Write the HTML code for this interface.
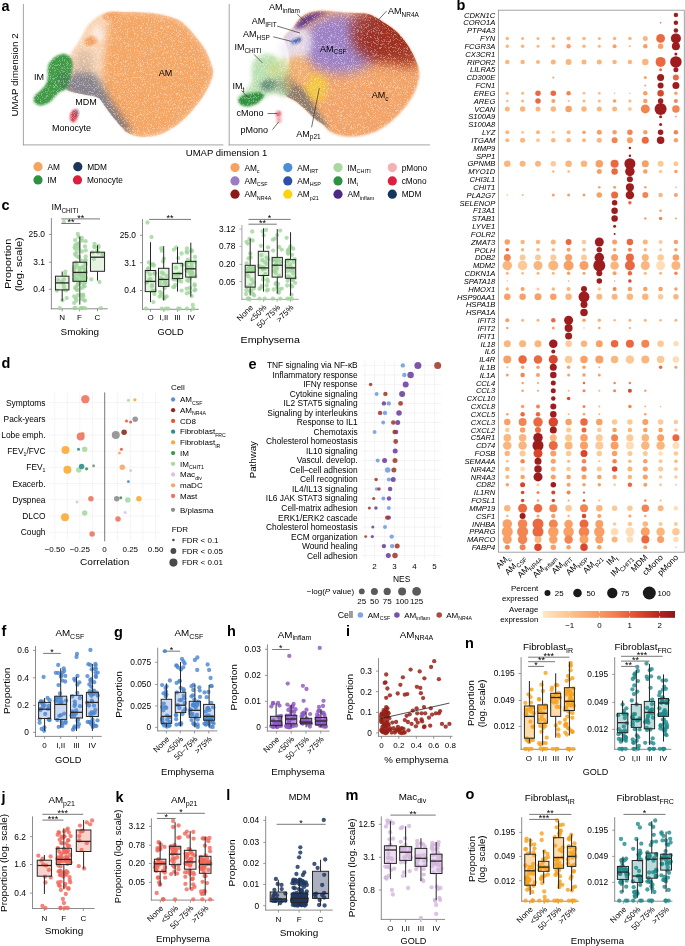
<!DOCTYPE html>
<html><head><meta charset="utf-8"><style>
html,body{margin:0;padding:0;background:#fff;}
svg{display:block;font-family:"Liberation Sans",sans-serif;will-change:transform;}
</style></head><body>
<svg width="685" height="946" viewBox="0 0 685 946">
<rect width="685" height="946" fill="#fff"/>
<defs><filter id="b1" x="-20%" y="-20%" width="140%" height="140%"><feGaussianBlur stdDeviation="1"/></filter><filter id="b2" x="-30%" y="-30%" width="160%" height="160%"><feGaussianBlur stdDeviation="2"/></filter><filter id="b3" x="-40%" y="-40%" width="180%" height="180%"><feGaussianBlur stdDeviation="3.5"/></filter><filter id="spk" x="0" y="0" width="1" height="1"><feTurbulence type="fractalNoise" baseFrequency="1.7" numOctaves="2" seed="4"/><feColorMatrix type="matrix" values="0 0 0 0 1  0 0 0 0 1  0 0 0 0 1  -7 0 0 0 3.3"/></filter><filter id="b5" x="-50%" y="-50%" width="200%" height="200%"><feGaussianBlur stdDeviation="6"/></filter></defs>
<clipPath id="lbc"><path d="M70.5,54.0C72.0,50.2 73.5,49.7 75.2,47.0C77.0,44.3 79.2,40.8 81.0,37.7C82.8,34.6 84.1,30.9 85.7,28.4C87.3,25.9 88.5,24.4 90.4,22.5C92.4,20.6 94.7,18.4 97.4,16.7C100.1,15.0 103.8,13.1 106.7,12.2C109.6,11.3 111.8,11.4 114.9,11.4C118.0,11.4 120.6,11.8 125.4,12.0C130.2,12.2 137.8,12.0 143.6,12.4C149.4,12.8 154.8,13.0 160.4,14.2C166.0,15.3 172.6,17.2 177.1,19.3C181.6,21.4 183.8,23.6 187.2,26.8C190.6,30.0 194.2,34.7 197.3,38.6C200.4,42.5 203.5,46.4 205.7,50.3C207.9,54.2 209.4,58.5 210.7,62.1C211.9,65.7 213.2,68.8 213.2,72.1C213.2,75.4 211.9,78.8 210.7,82.2C209.4,85.6 207.6,88.9 205.7,92.3C203.8,95.7 201.5,99.1 199.0,102.4C196.5,105.8 193.7,109.1 190.6,112.4C187.5,115.8 183.9,119.7 180.5,122.5C177.1,125.3 173.8,127.2 170.4,129.2C167.1,131.2 164.3,133.0 160.4,134.3C156.5,135.6 151.1,136.5 146.9,136.8C142.7,137.1 138.5,136.6 135.2,135.9C131.8,135.2 129.2,134.2 126.8,132.6C124.3,130.9 123.0,128.8 120.5,126.0C118.0,123.2 114.4,119.0 112.0,116.0C109.6,113.0 108.3,111.0 106.0,108.0C103.7,105.0 101.7,100.2 98.4,98.0C95.1,95.8 90.4,96.0 86.0,95.0C81.6,94.0 75.3,93.2 72.0,92.0C68.7,90.8 67.0,91.7 66.0,88.0C65.0,84.3 65.2,75.7 66.0,70.0C66.8,64.3 69.0,57.8 70.5,54.0Z"/></clipPath>
<path d="M70.5,54.0C72.0,50.2 73.5,49.7 75.2,47.0C77.0,44.3 79.2,40.8 81.0,37.7C82.8,34.6 84.1,30.9 85.7,28.4C87.3,25.9 88.5,24.4 90.4,22.5C92.4,20.6 94.7,18.4 97.4,16.7C100.1,15.0 103.8,13.1 106.7,12.2C109.6,11.3 111.8,11.4 114.9,11.4C118.0,11.4 120.6,11.8 125.4,12.0C130.2,12.2 137.8,12.0 143.6,12.4C149.4,12.8 154.8,13.0 160.4,14.2C166.0,15.3 172.6,17.2 177.1,19.3C181.6,21.4 183.8,23.6 187.2,26.8C190.6,30.0 194.2,34.7 197.3,38.6C200.4,42.5 203.5,46.4 205.7,50.3C207.9,54.2 209.4,58.5 210.7,62.1C211.9,65.7 213.2,68.8 213.2,72.1C213.2,75.4 211.9,78.8 210.7,82.2C209.4,85.6 207.6,88.9 205.7,92.3C203.8,95.7 201.5,99.1 199.0,102.4C196.5,105.8 193.7,109.1 190.6,112.4C187.5,115.8 183.9,119.7 180.5,122.5C177.1,125.3 173.8,127.2 170.4,129.2C167.1,131.2 164.3,133.0 160.4,134.3C156.5,135.6 151.1,136.5 146.9,136.8C142.7,137.1 138.5,136.6 135.2,135.9C131.8,135.2 129.2,134.2 126.8,132.6C124.3,130.9 123.0,128.8 120.5,126.0C118.0,123.2 114.4,119.0 112.0,116.0C109.6,113.0 108.3,111.0 106.0,108.0C103.7,105.0 101.7,100.2 98.4,98.0C95.1,95.8 90.4,96.0 86.0,95.0C81.6,94.0 75.3,93.2 72.0,92.0C68.7,90.8 67.0,91.7 66.0,88.0C65.0,84.3 65.2,75.7 66.0,70.0C66.8,64.3 69.0,57.8 70.5,54.0Z" fill="#f7cca8" fill-opacity="0.85" filter="url(#b1)"/>
<g clip-path="url(#lbc)">
<path d="M112.0,12.0C114.8,10.9 120.7,11.4 126.0,11.5C131.3,11.6 137.9,12.0 143.6,12.4C149.3,12.8 154.8,13.0 160.4,14.2C166.0,15.3 172.6,17.2 177.1,19.3C181.6,21.4 183.8,23.6 187.2,26.8C190.6,30.0 194.2,34.7 197.3,38.6C200.4,42.5 203.5,46.4 205.7,50.3C207.9,54.2 209.4,58.5 210.7,62.1C211.9,65.7 213.2,68.8 213.2,72.1C213.2,75.4 211.9,78.8 210.7,82.2C209.4,85.6 207.6,88.9 205.7,92.3C203.8,95.7 201.5,99.1 199.0,102.4C196.5,105.8 193.7,109.1 190.6,112.4C187.5,115.8 183.9,119.7 180.5,122.5C177.1,125.3 173.8,127.2 170.4,129.2C167.1,131.2 164.3,133.0 160.4,134.3C156.5,135.6 151.1,136.5 146.9,136.8C142.7,137.1 138.5,136.6 135.2,135.9C131.8,135.2 129.3,134.6 126.8,132.6C124.3,130.6 122.5,127.8 120.0,124.0C117.5,120.2 114.3,114.7 112.0,110.0C109.7,105.3 107.5,101.0 106.0,96.0C104.5,91.0 103.3,85.7 103.0,80.0C102.7,74.3 103.5,67.8 104.0,62.0C104.5,56.2 105.3,50.3 106.0,45.0C106.7,39.7 107.5,34.5 108.0,30.0C108.5,25.5 108.3,21.0 109.0,18.0C109.7,15.0 109.2,13.1 112.0,12.0Z" fill="#f4a665" filter="url(#b3)"/>
<ellipse cx="91" cy="41" rx="7" ry="4.5" fill="#f29a55" fill-opacity="0.85" transform="rotate(-20 91 41)" filter="url(#b1)"/>
<ellipse cx="110" cy="16" rx="8" ry="4" fill="#f29a55" fill-opacity="0.7" transform="rotate(-10 110 16)" filter="url(#b1)"/>
<ellipse cx="98" cy="34" rx="5" ry="8" fill="#fff" fill-opacity="0.5" transform="rotate(-30 98 34)" filter="url(#b2)"/>
<path d="M64.0,86.0C64.7,82.7 68.7,76.7 72.0,74.0C75.3,71.3 80.0,69.7 84.0,70.0C88.0,70.3 92.7,73.0 96.0,76.0C99.3,79.0 101.3,83.7 104.0,88.0C106.7,92.3 109.0,97.3 112.0,102.0C115.0,106.7 119.0,111.7 122.0,116.0C125.0,120.3 129.0,125.0 130.0,128.0C131.0,131.0 130.0,134.0 128.0,134.0C126.0,134.0 121.7,131.0 118.0,128.0C114.3,125.0 109.7,120.0 106.0,116.0C102.3,112.0 100.0,107.0 96.0,104.0C92.0,101.0 86.7,99.7 82.0,98.0C77.3,96.3 71.0,96.0 68.0,94.0C65.0,92.0 63.3,89.3 64.0,86.0Z" fill="#3c4d6e" fill-opacity="0.6" filter="url(#b3)"/>
<ellipse cx="84" cy="62" rx="10" ry="12" fill="#c8a890" fill-opacity="0.5" filter="url(#b3)"/>
</g>
<path d="M33.6,99.7C33.7,101.2 34.4,103.1 35.8,104.1C37.2,105.1 39.6,105.8 41.8,105.6C44.0,105.3 47.1,103.8 49.1,102.6C51.1,101.4 51.9,99.9 53.6,98.2C55.3,96.5 57.5,93.8 59.5,92.3C61.5,90.8 63.9,90.8 65.4,89.3C66.9,87.8 67.4,85.9 68.4,83.4C69.4,80.9 70.6,77.7 71.3,74.5C72.0,71.3 73.0,67.2 72.8,64.2C72.6,61.2 71.4,58.5 69.9,56.8C68.4,55.1 66.1,53.9 63.9,53.8C61.7,53.7 58.7,54.8 56.5,56.0C54.3,57.2 52.1,59.4 50.6,61.2C49.1,63.1 48.2,64.6 47.7,67.1C47.2,69.6 48.0,73.3 47.7,76.0C47.5,78.7 47.4,80.9 46.2,83.4C45.0,85.9 42.1,88.8 40.3,90.8C38.4,92.8 36.2,93.7 35.1,95.2C34.0,96.7 33.5,98.2 33.6,99.7Z" fill="#3f9a45" filter="url(#b1)"/>
<ellipse cx="64" cy="80" rx="6" ry="9" fill="#3d6a55" fill-opacity="0.45" filter="url(#b2)"/>
<ellipse cx="73.8" cy="116" rx="3.8" ry="6.5" fill="#d42a3a" fill-opacity="0.9" transform="rotate(10 73.8 116)" filter="url(#b1)"/>
<ellipse cx="76.5" cy="113" rx="2.5" ry="4" fill="#6a4a6a" fill-opacity="0.5" filter="url(#b1)"/>
<clipPath id="rbc"><path d="M284.6,36.5C285.6,34.4 289.5,32.1 291.9,29.2C294.3,26.3 296.5,21.7 299.2,19.0C301.9,16.3 305.1,14.4 308.0,13.1C310.9,11.8 313.3,11.3 316.7,11.0C320.1,10.7 324.0,10.8 328.4,11.0C332.8,11.2 338.1,12.1 343.0,12.4C347.9,12.8 353.1,12.7 357.6,13.1C362.1,13.5 365.8,13.1 370.0,14.6C374.2,16.1 378.7,19.2 383.0,21.9C387.3,24.6 391.9,27.4 395.8,31.0C399.8,34.6 403.5,39.2 406.7,43.8C409.9,48.4 412.8,53.8 414.9,58.4C417.0,63.0 418.6,67.0 419.1,71.2C419.6,75.5 418.9,79.7 417.7,83.9C416.5,88.2 414.6,92.4 412.2,96.7C409.8,101.0 406.8,105.2 403.1,109.5C399.5,113.8 394.9,118.6 390.3,122.3C385.7,126.0 380.9,129.1 375.7,131.4C370.5,133.7 364.8,135.2 359.3,136.0C353.8,136.8 347.7,136.8 342.8,136.0C337.9,135.2 333.3,133.3 330.1,131.4C326.9,129.5 326.0,126.8 323.4,124.7C320.8,122.6 317.6,121.2 314.7,118.8C311.8,116.3 309.1,112.9 305.9,110.0C302.7,107.1 299.1,103.7 295.7,101.3C292.3,98.9 287.8,97.7 285.5,95.5C283.2,93.3 282.2,91.2 282.0,88.0C281.8,84.8 282.8,80.0 284.0,76.0C285.2,72.0 288.2,68.0 289.0,64.0C289.8,60.0 289.5,55.7 289.0,52.0C288.5,48.3 286.7,44.6 286.0,42.0C285.3,39.4 283.6,38.6 284.6,36.5Z"/></clipPath>
<path d="M284.6,36.5C285.6,34.4 289.5,32.1 291.9,29.2C294.3,26.3 296.5,21.7 299.2,19.0C301.9,16.3 305.1,14.4 308.0,13.1C310.9,11.8 313.3,11.3 316.7,11.0C320.1,10.7 324.0,10.8 328.4,11.0C332.8,11.2 338.1,12.1 343.0,12.4C347.9,12.8 353.1,12.7 357.6,13.1C362.1,13.5 365.8,13.1 370.0,14.6C374.2,16.1 378.7,19.2 383.0,21.9C387.3,24.6 391.9,27.4 395.8,31.0C399.8,34.6 403.5,39.2 406.7,43.8C409.9,48.4 412.8,53.8 414.9,58.4C417.0,63.0 418.6,67.0 419.1,71.2C419.6,75.5 418.9,79.7 417.7,83.9C416.5,88.2 414.6,92.4 412.2,96.7C409.8,101.0 406.8,105.2 403.1,109.5C399.5,113.8 394.9,118.6 390.3,122.3C385.7,126.0 380.9,129.1 375.7,131.4C370.5,133.7 364.8,135.2 359.3,136.0C353.8,136.8 347.7,136.8 342.8,136.0C337.9,135.2 333.3,133.3 330.1,131.4C326.9,129.5 326.0,126.8 323.4,124.7C320.8,122.6 317.6,121.2 314.7,118.8C311.8,116.3 309.1,112.9 305.9,110.0C302.7,107.1 299.1,103.7 295.7,101.3C292.3,98.9 287.8,97.7 285.5,95.5C283.2,93.3 282.2,91.2 282.0,88.0C281.8,84.8 282.8,80.0 284.0,76.0C285.2,72.0 288.2,68.0 289.0,64.0C289.8,60.0 289.5,55.7 289.0,52.0C288.5,48.3 286.7,44.6 286.0,42.0C285.3,39.4 283.6,38.6 284.6,36.5Z" fill="#f2a468" filter="url(#b1)"/>
<g clip-path="url(#rbc)">
<ellipse cx="340" cy="44" rx="40" ry="30" fill="#9a80c8" fill-opacity="0.97" filter="url(#b5)"/>
<ellipse cx="388" cy="36" rx="36" ry="28" fill="#9c2c1f" fill-opacity="0.95" filter="url(#b5)"/>
<ellipse cx="408" cy="56" rx="12" ry="12" fill="#a3341f" fill-opacity="0.8" filter="url(#b5)"/>
<ellipse cx="365" cy="24" rx="16" ry="10" fill="#a03a3a" fill-opacity="0.6" filter="url(#b5)"/>
<ellipse cx="298" cy="42" rx="14" ry="18" fill="#ebe4f2" fill-opacity="0.85" filter="url(#b3)"/>
<ellipse cx="287" cy="42" rx="8" ry="16" fill="#d8cce8" fill-opacity="0.9" filter="url(#b2)"/>
<path d="M294,28 Q304,9 328,13 Q316,17 308,24 Q300,31 294,28Z" fill="#57308c" fill-opacity="0.9" filter="url(#b2)"/>
<ellipse cx="316" cy="88" rx="11" ry="14" fill="#f2cc38" fill-opacity="0.85" filter="url(#b3)"/>
<ellipse cx="298" cy="70" rx="12" ry="14" fill="#f0b070" fill-opacity="0.8" filter="url(#b3)"/>
<path d="M282.0,84.0C283.3,81.3 288.3,81.0 292.0,82.0C295.7,83.0 300.7,86.7 304.0,90.0C307.3,93.3 309.3,98.0 312.0,102.0C314.7,106.0 317.3,109.7 320.0,114.0C322.7,118.3 328.0,126.0 328.0,128.0C328.0,130.0 323.7,128.3 320.0,126.0C316.3,123.7 310.3,117.7 306.0,114.0C301.7,110.3 297.7,106.7 294.0,104.0C290.3,101.3 286.0,101.3 284.0,98.0C282.0,94.7 280.7,86.7 282.0,84.0Z" fill="#52606a" fill-opacity="0.6" filter="url(#b2)"/>
</g>
<ellipse cx="296.3" cy="40.9" rx="6" ry="2.6" fill="#3a56a8" fill-opacity="0.9" transform="rotate(-25 296.3 40.9)" filter="url(#b1)"/>
<path d="M238.8,99.9C239.2,101.4 240.0,103.2 241.7,104.2C243.4,105.2 246.6,105.9 249.0,105.7C251.4,105.5 254.1,104.0 256.3,102.8C258.5,101.6 260.2,99.7 262.1,98.4C264.1,97.1 265.7,95.9 268.0,95.0C270.3,94.1 273.3,92.8 276.0,93.0C278.7,93.2 281.7,96.5 284.0,96.0C286.3,95.5 289.3,93.0 290.0,90.0C290.7,87.0 289.0,81.7 288.0,78.0C287.0,74.3 285.4,70.7 284.0,68.0C282.6,65.3 281.1,63.9 279.6,61.9C278.2,59.9 277.2,57.4 275.3,56.1C273.4,54.8 270.7,53.9 268.0,53.9C265.3,53.9 261.6,54.8 259.2,56.1C256.8,57.4 254.6,60.0 253.4,61.9C252.2,63.8 252.2,65.5 251.9,67.7C251.7,69.9 251.9,72.6 251.9,75.0C251.9,77.4 252.6,80.1 251.9,82.3C251.2,84.5 249.2,86.5 248.0,88.0C246.8,89.5 246.0,90.3 244.6,91.5C243.2,92.7 240.5,93.8 239.5,95.2C238.5,96.6 238.4,98.4 238.8,99.9Z" fill="#b2dca8" fill-opacity="0.9" filter="url(#b2)"/>
<path d="M238.6,99.0C238.0,100.6 238.9,103.3 240.5,104.5C242.1,105.7 245.4,106.4 248.0,106.3C250.6,106.2 253.8,105.0 256.0,104.0C258.2,103.0 259.7,101.4 261.0,100.0C262.3,98.6 264.2,96.8 264.0,95.5C263.8,94.2 262.0,92.9 260.0,92.5C258.0,92.1 254.7,92.6 252.0,93.0C249.3,93.4 246.2,94.0 244.0,95.0C241.8,96.0 239.2,97.4 238.6,99.0Z" fill="#33913f" filter="url(#b1)"/>
<ellipse cx="268" cy="85" rx="8" ry="6" fill="#35605a" fill-opacity="0.6" transform="rotate(-20 268 85)" filter="url(#b2)"/>
<ellipse cx="274" cy="70" rx="7" ry="9" fill="#d8d870" fill-opacity="0.5" filter="url(#b3)"/>
<ellipse cx="283" cy="85" rx="10" ry="8" fill="#6a6a5a" fill-opacity="0.4" transform="rotate(-10 283 85)" filter="url(#b3)"/>
<ellipse cx="286" cy="50" rx="7" ry="10" fill="#ece6f2" fill-opacity="0.7" filter="url(#b3)"/>
<ellipse cx="284" cy="68" rx="6" ry="11" fill="#cfd48c" fill-opacity="0.75" filter="url(#b2)"/>
<ellipse cx="289" cy="82" rx="5" ry="9" fill="#c9a36a" fill-opacity="0.6" filter="url(#b2)"/>
<ellipse cx="278.5" cy="114" rx="2.8" ry="3.2" fill="#e04050" fill-opacity="0.8" filter="url(#b1)"/>
<ellipse cx="279" cy="120" rx="2.8" ry="3.2" fill="#f0a0a8" fill-opacity="0.9" filter="url(#b1)"/>
<rect x="24" y="5" width="200" height="139" filter="url(#spk)" opacity="0.35"/>
<rect x="230" y="5" width="200" height="139" filter="url(#spk)" opacity="0.35"/>
<text x="33.9" y="80.0" font-size="9" >IM</text>
<text x="75.2" y="104.5" font-size="9" >MDM</text>
<text x="52.1" y="130.8" font-size="9" >Monocyte</text>
<text x="158.7" y="75.5" font-size="9" >AM</text>
<text x="1.5" y="10.5" font-size="14.5" font-weight="bold" fill="#000" >a</text>
<line x1="23.40" y1="4.00" x2="23.40" y2="145.35" stroke="#9a9a9a" stroke-width="0.9" />
<line x1="22.95" y1="144.90" x2="223.40" y2="144.90" stroke="#9a9a9a" stroke-width="0.9" />
<text x="18.0" y="75.0" font-size="9.5" textLength="83.1" lengthAdjust="spacingAndGlyphs" text-anchor="middle" transform="rotate(-90 18.0 75.0)" >UMAP dimension 2</text>
<line x1="229.20" y1="4.00" x2="229.20" y2="145.35" stroke="#9a9a9a" stroke-width="0.9" />
<line x1="228.75" y1="144.90" x2="430.00" y2="144.90" stroke="#9a9a9a" stroke-width="0.9" />
<text x="226.5" y="156.3" font-size="9.5" textLength="81.4" lengthAdjust="spacingAndGlyphs" text-anchor="middle" >UMAP dimension 1</text>
<text x="269.1" y="10.0" font-size="9" >AM<tspan font-size="6.48" dy="2.70">inflam</tspan></text>
<line x1="297.00" y1="13.80" x2="306.20" y2="23.00" stroke="#333" stroke-width="0.7" />
<text x="251.8" y="23.8" font-size="9" >AM<tspan font-size="6.48" dy="2.70">IFIT</tspan></text>
<line x1="277.00" y1="26.00" x2="300.00" y2="33.00" stroke="#333" stroke-width="0.7" />
<text x="243.0" y="36.8" font-size="9" >AM<tspan font-size="6.48" dy="2.70">HSP</tspan></text>
<line x1="273.20" y1="36.80" x2="291.60" y2="41.40" stroke="#333" stroke-width="0.7" />
<text x="234.4" y="49.8" font-size="9" >IM<tspan font-size="6.48" dy="2.70">CHITI</tspan></text>
<line x1="254.00" y1="54.40" x2="262.50" y2="62.90" stroke="#333" stroke-width="0.7" />
<text x="232.6" y="89.0" font-size="9" >IM<tspan font-size="6.48" dy="2.70">t</tspan></text>
<line x1="241.50" y1="90.50" x2="248.00" y2="97.40" stroke="#333" stroke-width="0.7" />
<text x="236.4" y="115.8" font-size="9" >cMono</text>
<line x1="267.60" y1="113.50" x2="277.00" y2="113.50" stroke="#333" stroke-width="0.7" />
<text x="240.6" y="133.4" font-size="9" >pMono</text>
<line x1="272.50" y1="129.60" x2="278.60" y2="122.00" stroke="#333" stroke-width="0.7" />
<text x="296.3" y="136.5" font-size="9" >AM<tspan font-size="6.48" dy="2.70">p21</tspan></text>
<line x1="311.60" y1="127.30" x2="319.30" y2="88.20" stroke="#333" stroke-width="0.7" />
<text x="388.1" y="14.0" font-size="9" >AM<tspan font-size="6.48" dy="2.70">NR4A</tspan></text>
<line x1="386.60" y1="11.00" x2="376.60" y2="21.90" stroke="#333" stroke-width="0.7" />
<text x="320.0" y="51.5" font-size="9" >AM<tspan font-size="6.48" dy="2.70">CSF</tspan></text>
<text x="371.7" y="98.0" font-size="9" >AM<tspan font-size="6.48" dy="2.70">c</tspan></text>
<circle cx="38.0" cy="166.7" r="4.60" fill="#f4a460" />
<text x="47.4" y="169.7" font-size="8.3" >AM</text>
<circle cx="38.0" cy="179.9" r="4.60" fill="#2e9142" />
<text x="47.4" y="182.9" font-size="8.3" >IM</text>
<circle cx="77.8" cy="166.7" r="4.60" fill="#1b365d" />
<text x="87.2" y="169.7" font-size="8.3" >MDM</text>
<circle cx="77.5" cy="179.9" r="4.60" fill="#dc1f3e" />
<text x="86.9" y="182.9" font-size="8.3" >Monocyte</text>
<circle cx="235.0" cy="167.6" r="4.60" fill="#f4a460" />
<text x="244.4" y="170.6" font-size="8.3" >AM<tspan font-size="5.40" dy="2.49">c</tspan></text>
<circle cx="235.0" cy="180.9" r="4.60" fill="#9a7cc4" />
<text x="244.4" y="183.9" font-size="8.3" >AM<tspan font-size="5.40" dy="2.49">CSF</tspan></text>
<circle cx="235.0" cy="194.2" r="4.60" fill="#8b1a1a" />
<text x="244.4" y="197.2" font-size="8.3" >AM<tspan font-size="5.40" dy="2.49">NR4A</tspan></text>
<circle cx="287.8" cy="167.6" r="4.60" fill="#4a8fd6" />
<text x="297.2" y="170.6" font-size="8.3" >AM<tspan font-size="5.40" dy="2.49">IRT</tspan></text>
<circle cx="287.8" cy="180.9" r="4.60" fill="#2f4ea6" />
<text x="297.2" y="183.9" font-size="8.3" >AM<tspan font-size="5.40" dy="2.49">HSP</tspan></text>
<circle cx="287.8" cy="194.2" r="4.60" fill="#fbd30e" />
<text x="297.2" y="197.2" font-size="8.3" >AM<tspan font-size="5.40" dy="2.49">p21</tspan></text>
<circle cx="338.0" cy="167.6" r="4.60" fill="#a8d8a0" />
<text x="347.4" y="170.6" font-size="8.3" >IM<tspan font-size="5.40" dy="2.49">CHITI</tspan></text>
<circle cx="338.0" cy="180.9" r="4.60" fill="#2e9142" />
<text x="347.4" y="183.9" font-size="8.3" >IM<tspan font-size="5.40" dy="2.49">t</tspan></text>
<circle cx="338.0" cy="194.2" r="4.60" fill="#4e2a84" />
<text x="347.4" y="197.2" font-size="8.3" >AM<tspan font-size="5.40" dy="2.49">inflam</tspan></text>
<circle cx="392.3" cy="167.6" r="4.60" fill="#f4b0b4" />
<text x="401.7" y="170.6" font-size="8.3" >pMono</text>
<circle cx="392.3" cy="180.9" r="4.60" fill="#dc1f3e" />
<text x="401.7" y="183.9" font-size="8.3" >cMono</text>
<circle cx="392.3" cy="194.2" r="4.60" fill="#17365d" />
<text x="401.7" y="197.2" font-size="8.3" >MDM</text>
<text x="456.5" y="9.8" font-size="14.5" font-weight="bold" fill="#000" >b</text>
<rect x="498.40" y="10.20" width="185.90" height="542.00" fill="none" stroke="#9a9a9a" stroke-width="0.9" />
<text x="495.3" y="17.6" font-size="7.6" text-anchor="end" font-style="italic" >CDKN1C</text>
<circle cx="675.9" cy="14.9" r="2.20" fill="#9d1c1d" />
<text x="495.3" y="25.4" font-size="7.6" text-anchor="end" font-style="italic" >CORO1A</text>
<circle cx="660.6" cy="22.7" r="0.75" fill="#eb6940" />
<circle cx="675.9" cy="22.7" r="2.25" fill="#9d1c1d" />
<text x="495.3" y="33.3" font-size="7.6" text-anchor="end" font-style="italic" >PTP4A3</text>
<circle cx="675.9" cy="30.6" r="2.25" fill="#9d1c1d" />
<text x="495.3" y="41.1" font-size="7.6" text-anchor="end" font-style="italic" >FYN</text>
<circle cx="507.3" cy="38.4" r="1.75" fill="#fbb67e" />
<circle cx="522.6" cy="38.4" r="1.50" fill="#fbb67e" />
<circle cx="538.0" cy="38.4" r="1.50" fill="#fbb67e" />
<circle cx="553.3" cy="38.4" r="1.75" fill="#fbb67e" />
<circle cx="568.6" cy="38.4" r="2.00" fill="#fbb67e" />
<circle cx="584.0" cy="38.4" r="1.75" fill="#fbb67e" />
<circle cx="599.3" cy="38.4" r="1.50" fill="#fbb67e" />
<circle cx="614.6" cy="38.4" r="1.75" fill="#fbb67e" />
<circle cx="629.9" cy="38.4" r="1.75" fill="#fbb67e" />
<circle cx="645.3" cy="38.4" r="2.50" fill="#fbb67e" />
<circle cx="660.6" cy="38.4" r="4.40" fill="#eb6940" />
<circle cx="675.9" cy="38.4" r="5.00" fill="#9d1c1d" />
<text x="495.3" y="48.9" font-size="7.6" text-anchor="end" font-style="italic" >FCGR3A</text>
<circle cx="507.3" cy="46.2" r="1.75" fill="#fbb67e" />
<circle cx="522.6" cy="46.2" r="1.75" fill="#fbb67e" />
<circle cx="538.0" cy="46.2" r="1.50" fill="#fbb67e" />
<circle cx="553.3" cy="46.2" r="1.75" fill="#fbb67e" />
<circle cx="568.6" cy="46.2" r="2.25" fill="#f9a066" />
<circle cx="584.0" cy="46.2" r="1.75" fill="#fbb67e" />
<circle cx="599.3" cy="46.2" r="1.50" fill="#fbb67e" />
<circle cx="614.6" cy="46.2" r="2.00" fill="#f9a066" />
<circle cx="629.9" cy="46.2" r="1.00" fill="#fbb67e" />
<circle cx="645.3" cy="46.2" r="2.25" fill="#f9a066" />
<circle cx="660.6" cy="46.2" r="2.75" fill="#f9a066" />
<circle cx="675.9" cy="46.2" r="4.00" fill="#9d1c1d" />
<text x="495.3" y="56.8" font-size="7.6" text-anchor="end" font-style="italic" >CX3CR1</text>
<circle cx="675.9" cy="54.0" r="1.50" fill="#9d1c1d" />
<text x="495.3" y="64.6" font-size="7.6" text-anchor="end" font-style="italic" >RIPOR2</text>
<circle cx="507.3" cy="61.9" r="2.25" fill="#fbb67e" />
<circle cx="522.6" cy="61.9" r="2.25" fill="#fbb67e" />
<circle cx="538.0" cy="61.9" r="2.00" fill="#fbb67e" />
<circle cx="553.3" cy="61.9" r="2.50" fill="#fbb67e" />
<circle cx="568.6" cy="61.9" r="3.00" fill="#fbb67e" />
<circle cx="584.0" cy="61.9" r="2.50" fill="#fbb67e" />
<circle cx="599.3" cy="61.9" r="2.50" fill="#fbb67e" />
<circle cx="614.6" cy="61.9" r="2.25" fill="#fbb67e" />
<circle cx="629.9" cy="61.9" r="2.25" fill="#fbb67e" />
<circle cx="645.3" cy="61.9" r="3.25" fill="#fbb67e" />
<circle cx="660.6" cy="61.9" r="5.00" fill="#eb6940" />
<circle cx="675.9" cy="61.9" r="5.75" fill="#9d1c1d" />
<text x="495.3" y="72.4" font-size="7.6" text-anchor="end" font-style="italic" >LILRA5</text>
<circle cx="660.6" cy="69.7" r="1.50" fill="#eb6940" />
<circle cx="675.9" cy="69.7" r="2.50" fill="#9d1c1d" />
<text x="495.3" y="80.2" font-size="7.6" text-anchor="end" font-style="italic" >CD300E</text>
<circle cx="553.3" cy="77.5" r="1.00" fill="#f9a066" />
<circle cx="645.3" cy="77.5" r="1.50" fill="#f9a066" />
<circle cx="660.6" cy="77.5" r="3.50" fill="#9d1c1d" />
<circle cx="675.9" cy="77.5" r="3.00" fill="#eb6940" />
<text x="495.3" y="88.1" font-size="7.6" text-anchor="end" font-style="italic" >FCN1</text>
<circle cx="645.3" cy="85.4" r="1.00" fill="#f9a066" />
<circle cx="660.6" cy="85.4" r="3.00" fill="#9d1c1d" />
<circle cx="675.9" cy="85.4" r="3.50" fill="#9d1c1d" />
<text x="495.3" y="95.9" font-size="7.6" text-anchor="end" font-style="italic" >EREG</text>
<circle cx="507.3" cy="93.2" r="1.50" fill="#fbb67e" />
<circle cx="522.6" cy="93.2" r="1.50" fill="#fbb67e" />
<circle cx="538.0" cy="93.2" r="2.75" fill="#eb6940" />
<circle cx="553.3" cy="93.2" r="2.75" fill="#eb6940" />
<circle cx="568.6" cy="93.2" r="2.25" fill="#f38553" />
<circle cx="584.0" cy="93.2" r="1.25" fill="#fbb67e" />
<circle cx="599.3" cy="93.2" r="1.25" fill="#fbb67e" />
<circle cx="614.6" cy="93.2" r="0.75" fill="#fbb67e" />
<circle cx="629.9" cy="93.2" r="0.75" fill="#fbb67e" />
<circle cx="645.3" cy="93.2" r="2.25" fill="#f9a066" />
<circle cx="660.6" cy="93.2" r="3.25" fill="#d9462c" />
<circle cx="675.9" cy="93.2" r="1.75" fill="#f9a066" />
<text x="495.3" y="103.7" font-size="7.6" text-anchor="end" font-style="italic" >AREG</text>
<circle cx="507.3" cy="101.0" r="1.25" fill="#fbb67e" />
<circle cx="522.6" cy="101.0" r="1.50" fill="#fbb67e" />
<circle cx="538.0" cy="101.0" r="2.75" fill="#eb6940" />
<circle cx="553.3" cy="101.0" r="2.00" fill="#f9a066" />
<circle cx="568.6" cy="101.0" r="1.00" fill="#fbb67e" />
<circle cx="584.0" cy="101.0" r="1.50" fill="#fbb67e" />
<circle cx="599.3" cy="101.0" r="1.50" fill="#fbb67e" />
<circle cx="614.6" cy="101.0" r="1.75" fill="#f9a066" />
<circle cx="629.9" cy="101.0" r="1.50" fill="#fbb67e" />
<circle cx="645.3" cy="101.0" r="2.25" fill="#f9a066" />
<circle cx="660.6" cy="101.0" r="2.75" fill="#9d1c1d" />
<circle cx="675.9" cy="101.0" r="2.00" fill="#f38553" />
<text x="495.3" y="111.6" font-size="7.6" text-anchor="end" font-style="italic" >VCAN</text>
<circle cx="507.3" cy="108.9" r="2.50" fill="#fbb67e" />
<circle cx="522.6" cy="108.9" r="2.75" fill="#fbb67e" />
<circle cx="538.0" cy="108.9" r="2.50" fill="#fbb67e" />
<circle cx="553.3" cy="108.9" r="2.75" fill="#fbb67e" />
<circle cx="568.6" cy="108.9" r="3.25" fill="#f9a066" />
<circle cx="584.0" cy="108.9" r="2.75" fill="#fbb67e" />
<circle cx="599.3" cy="108.9" r="2.50" fill="#fbb67e" />
<circle cx="614.6" cy="108.9" r="2.50" fill="#fbb67e" />
<circle cx="629.9" cy="108.9" r="2.00" fill="#fdc997" />
<circle cx="645.3" cy="108.9" r="4.50" fill="#f38553" />
<circle cx="660.6" cy="108.9" r="6.00" fill="#9d1c1d" />
<circle cx="675.9" cy="108.9" r="3.75" fill="#f38553" />
<text x="495.3" y="119.4" font-size="7.6" text-anchor="end" font-style="italic" >S100A9</text>
<circle cx="660.6" cy="116.7" r="1.50" fill="#9d1c1d" />
<circle cx="675.9" cy="116.7" r="0.75" fill="#eb6940" />
<text x="495.3" y="127.2" font-size="7.6" text-anchor="end" font-style="italic" >S100A8</text>
<circle cx="660.6" cy="124.5" r="1.50" fill="#9d1c1d" />
<text x="495.3" y="135.0" font-size="7.6" text-anchor="end" font-style="italic" >LYZ</text>
<circle cx="507.3" cy="132.3" r="2.00" fill="#fbb67e" />
<circle cx="522.6" cy="132.3" r="1.50" fill="#fdc997" />
<circle cx="538.0" cy="132.3" r="2.00" fill="#fbb67e" />
<circle cx="553.3" cy="132.3" r="1.50" fill="#fdc997" />
<circle cx="568.6" cy="132.3" r="2.00" fill="#fbb67e" />
<circle cx="584.0" cy="132.3" r="1.75" fill="#f9a066" />
<circle cx="599.3" cy="132.3" r="2.50" fill="#f9a066" />
<circle cx="614.6" cy="132.3" r="2.25" fill="#f9a066" />
<circle cx="629.9" cy="132.3" r="2.75" fill="#f38553" />
<circle cx="645.3" cy="132.3" r="2.25" fill="#f9a066" />
<circle cx="660.6" cy="132.3" r="2.75" fill="#9d1c1d" />
<circle cx="675.9" cy="132.3" r="2.25" fill="#f38553" />
<text x="495.3" y="142.9" font-size="7.6" text-anchor="end" font-style="italic" >ITGAM</text>
<circle cx="507.3" cy="140.2" r="2.00" fill="#fbb67e" />
<circle cx="522.6" cy="140.2" r="2.50" fill="#fbb67e" />
<circle cx="538.0" cy="140.2" r="2.00" fill="#fdc997" />
<circle cx="553.3" cy="140.2" r="2.25" fill="#fbb67e" />
<circle cx="568.6" cy="140.2" r="2.25" fill="#fbb67e" />
<circle cx="584.0" cy="140.2" r="2.00" fill="#fbb67e" />
<circle cx="599.3" cy="140.2" r="2.50" fill="#fbb67e" />
<circle cx="614.6" cy="140.2" r="3.00" fill="#f38553" />
<circle cx="629.9" cy="140.2" r="3.00" fill="#f9a066" />
<circle cx="645.3" cy="140.2" r="3.50" fill="#eb6940" />
<circle cx="660.6" cy="140.2" r="3.75" fill="#9d1c1d" />
<circle cx="675.9" cy="140.2" r="2.25" fill="#f9a066" />
<text x="495.3" y="150.7" font-size="7.6" text-anchor="end" font-style="italic" >MMP9</text>
<circle cx="629.9" cy="148.0" r="1.25" fill="#9d1c1d" />
<text x="495.3" y="158.5" font-size="7.6" text-anchor="end" font-style="italic" >SPP1</text>
<circle cx="629.9" cy="155.8" r="1.25" fill="#9d1c1d" />
<text x="495.3" y="166.4" font-size="7.6" text-anchor="end" font-style="italic" >GPNMB</text>
<circle cx="507.3" cy="163.7" r="3.25" fill="#fbb67e" />
<circle cx="522.6" cy="163.7" r="3.00" fill="#fbb67e" />
<circle cx="538.0" cy="163.7" r="3.00" fill="#fbb67e" />
<circle cx="553.3" cy="163.7" r="2.75" fill="#fdc997" />
<circle cx="568.6" cy="163.7" r="3.25" fill="#fbb67e" />
<circle cx="584.0" cy="163.7" r="3.25" fill="#fbb67e" />
<circle cx="599.3" cy="163.7" r="3.75" fill="#f9a066" />
<circle cx="614.6" cy="163.7" r="4.00" fill="#eb6940" />
<circle cx="629.9" cy="163.7" r="5.50" fill="#9d1c1d" />
<circle cx="645.3" cy="163.7" r="3.50" fill="#f9a066" />
<circle cx="660.6" cy="163.7" r="3.00" fill="#fdc997" />
<circle cx="675.9" cy="163.7" r="2.50" fill="#fdc997" />
<text x="495.3" y="174.2" font-size="7.6" text-anchor="end" font-style="italic" >MYO1D</text>
<circle cx="553.3" cy="171.5" r="1.25" fill="#fbb67e" />
<circle cx="568.6" cy="171.5" r="1.25" fill="#fbb67e" />
<circle cx="599.3" cy="171.5" r="2.50" fill="#f9a066" />
<circle cx="614.6" cy="171.5" r="3.25" fill="#eb6940" />
<circle cx="629.9" cy="171.5" r="4.75" fill="#9d1c1d" />
<circle cx="645.3" cy="171.5" r="2.25" fill="#f9a066" />
<circle cx="660.6" cy="171.5" r="1.75" fill="#fdc997" />
<circle cx="675.9" cy="171.5" r="1.75" fill="#f9a066" />
<text x="495.3" y="182.0" font-size="7.6" text-anchor="end" font-style="italic" >CHI3L1</text>
<circle cx="629.9" cy="179.3" r="3.00" fill="#9d1c1d" />
<text x="495.3" y="189.9" font-size="7.6" text-anchor="end" font-style="italic" >CHIT1</text>
<circle cx="599.3" cy="187.2" r="1.25" fill="#f9a066" />
<circle cx="614.6" cy="187.2" r="1.50" fill="#f9a066" />
<circle cx="629.9" cy="187.2" r="4.00" fill="#9d1c1d" />
<circle cx="645.3" cy="187.2" r="1.25" fill="#f9a066" />
<circle cx="675.9" cy="187.2" r="0.75" fill="#f9a066" />
<text x="495.3" y="197.7" font-size="7.6" text-anchor="end" font-style="italic" >PLA2G7</text>
<circle cx="507.3" cy="195.0" r="0.75" fill="#fbb67e" />
<circle cx="522.6" cy="195.0" r="1.00" fill="#fbb67e" />
<circle cx="553.3" cy="195.0" r="1.50" fill="#f9a066" />
<circle cx="568.6" cy="195.0" r="1.50" fill="#f9a066" />
<circle cx="584.0" cy="195.0" r="1.50" fill="#f9a066" />
<circle cx="599.3" cy="195.0" r="2.75" fill="#f9a066" />
<circle cx="614.6" cy="195.0" r="3.50" fill="#eb6940" />
<circle cx="629.9" cy="195.0" r="4.25" fill="#9d1c1d" />
<circle cx="645.3" cy="195.0" r="3.00" fill="#f38553" />
<circle cx="660.6" cy="195.0" r="2.25" fill="#fbb67e" />
<circle cx="675.9" cy="195.0" r="2.00" fill="#f9a066" />
<text x="495.3" y="205.5" font-size="7.6" text-anchor="end" font-style="italic" >SELENOP</text>
<circle cx="614.6" cy="202.8" r="2.75" fill="#9d1c1d" />
<circle cx="629.9" cy="202.8" r="1.75" fill="#eb6940" />
<text x="495.3" y="213.3" font-size="7.6" text-anchor="end" font-style="italic" >F13A1</text>
<circle cx="614.6" cy="210.7" r="3.25" fill="#9d1c1d" />
<circle cx="660.6" cy="210.7" r="1.25" fill="#f9a066" />
<text x="495.3" y="221.2" font-size="7.6" text-anchor="end" font-style="italic" >STAB1</text>
<circle cx="614.6" cy="218.5" r="3.25" fill="#9d1c1d" />
<circle cx="645.3" cy="218.5" r="1.25" fill="#f9a066" />
<circle cx="660.6" cy="218.5" r="1.75" fill="#f38553" />
<circle cx="675.9" cy="218.5" r="1.00" fill="#f9a066" />
<text x="495.3" y="229.0" font-size="7.6" text-anchor="end" font-style="italic" >LYVE1</text>
<circle cx="614.6" cy="226.3" r="1.50" fill="#9d1c1d" />
<text x="495.3" y="236.8" font-size="7.6" text-anchor="end" font-style="italic" >FOLR2</text>
<circle cx="614.6" cy="234.1" r="1.00" fill="#9d1c1d" />
<text x="495.3" y="244.7" font-size="7.6" text-anchor="end" font-style="italic" >ZMAT3</text>
<circle cx="507.3" cy="242.0" r="2.75" fill="#f9a066" />
<circle cx="522.6" cy="242.0" r="2.25" fill="#fbb67e" />
<circle cx="538.0" cy="242.0" r="2.25" fill="#fbb67e" />
<circle cx="553.3" cy="242.0" r="2.50" fill="#fbb67e" />
<circle cx="568.6" cy="242.0" r="3.00" fill="#eb6940" />
<circle cx="584.0" cy="242.0" r="2.25" fill="#fdc997" />
<circle cx="599.3" cy="242.0" r="4.50" fill="#9d1c1d" />
<circle cx="614.6" cy="242.0" r="2.50" fill="#f9a066" />
<circle cx="629.9" cy="242.0" r="3.25" fill="#eb6940" />
<circle cx="645.3" cy="242.0" r="2.50" fill="#fbb67e" />
<circle cx="660.6" cy="242.0" r="2.00" fill="#fdc997" />
<circle cx="675.9" cy="242.0" r="2.25" fill="#f9a066" />
<text x="495.3" y="252.5" font-size="7.6" text-anchor="end" font-style="italic" >POLH</text>
<circle cx="507.3" cy="249.8" r="1.75" fill="#eb6940" />
<circle cx="522.6" cy="249.8" r="1.75" fill="#fbb67e" />
<circle cx="538.0" cy="249.8" r="1.75" fill="#fbb67e" />
<circle cx="553.3" cy="249.8" r="1.75" fill="#fbb67e" />
<circle cx="568.6" cy="249.8" r="2.00" fill="#f9a066" />
<circle cx="584.0" cy="249.8" r="1.75" fill="#fbb67e" />
<circle cx="599.3" cy="249.8" r="2.75" fill="#9d1c1d" />
<circle cx="614.6" cy="249.8" r="1.75" fill="#f9a066" />
<circle cx="629.9" cy="249.8" r="2.00" fill="#f38553" />
<circle cx="645.3" cy="249.8" r="1.75" fill="#fbb67e" />
<circle cx="660.6" cy="249.8" r="1.50" fill="#fdc997" />
<circle cx="675.9" cy="249.8" r="1.75" fill="#f9a066" />
<text x="495.3" y="260.3" font-size="7.6" text-anchor="end" font-style="italic" >DDB2</text>
<circle cx="507.3" cy="257.6" r="3.50" fill="#f38553" />
<circle cx="522.6" cy="257.6" r="3.00" fill="#fdc997" />
<circle cx="538.0" cy="257.6" r="3.00" fill="#fdc997" />
<circle cx="553.3" cy="257.6" r="3.00" fill="#fdc997" />
<circle cx="568.6" cy="257.6" r="3.50" fill="#f9a066" />
<circle cx="584.0" cy="257.6" r="3.00" fill="#fdc997" />
<circle cx="599.3" cy="257.6" r="4.75" fill="#9d1c1d" />
<circle cx="614.6" cy="257.6" r="3.50" fill="#f9a066" />
<circle cx="629.9" cy="257.6" r="4.00" fill="#eb6940" />
<circle cx="645.3" cy="257.6" r="3.50" fill="#fbb67e" />
<circle cx="660.6" cy="257.6" r="3.25" fill="#fdc997" />
<circle cx="675.9" cy="257.6" r="3.25" fill="#f9a066" />
<text x="495.3" y="268.2" font-size="7.6" text-anchor="end" font-style="italic" >MDM2</text>
<circle cx="507.3" cy="265.5" r="4.75" fill="#fbb67e" />
<circle cx="522.6" cy="265.5" r="4.75" fill="#fdc997" />
<circle cx="538.0" cy="265.5" r="4.50" fill="#fbb67e" />
<circle cx="553.3" cy="265.5" r="5.00" fill="#fbb67e" />
<circle cx="568.6" cy="265.5" r="5.00" fill="#f9a066" />
<circle cx="584.0" cy="265.5" r="4.50" fill="#f9a066" />
<circle cx="599.3" cy="265.5" r="6.00" fill="#9d1c1d" />
<circle cx="614.6" cy="265.5" r="4.25" fill="#fbb67e" />
<circle cx="629.9" cy="265.5" r="5.00" fill="#eb6940" />
<circle cx="645.3" cy="265.5" r="4.50" fill="#fbb67e" />
<circle cx="660.6" cy="265.5" r="4.50" fill="#feddb7" />
<circle cx="675.9" cy="265.5" r="4.50" fill="#fbb67e" />
<text x="495.3" y="276.0" font-size="7.6" text-anchor="end" font-style="italic" >CDKN1A</text>
<circle cx="507.3" cy="273.3" r="1.50" fill="#fbb67e" />
<circle cx="522.6" cy="273.3" r="1.25" fill="#fbb67e" />
<circle cx="538.0" cy="273.3" r="1.50" fill="#fbb67e" />
<circle cx="553.3" cy="273.3" r="1.50" fill="#fbb67e" />
<circle cx="568.6" cy="273.3" r="1.75" fill="#f9a066" />
<circle cx="584.0" cy="273.3" r="1.50" fill="#f9a066" />
<circle cx="599.3" cy="273.3" r="3.00" fill="#9d1c1d" />
<circle cx="614.6" cy="273.3" r="2.00" fill="#f9a066" />
<circle cx="629.9" cy="273.3" r="2.25" fill="#eb6940" />
<circle cx="645.3" cy="273.3" r="1.50" fill="#fbb67e" />
<circle cx="660.6" cy="273.3" r="1.50" fill="#fbb67e" />
<circle cx="675.9" cy="273.3" r="1.75" fill="#f38553" />
<text x="495.3" y="283.8" font-size="7.6" text-anchor="end" font-style="italic" >SPATA18</text>
<circle cx="507.3" cy="281.1" r="0.75" fill="#fbb67e" />
<circle cx="568.6" cy="281.1" r="0.75" fill="#f9a066" />
<circle cx="599.3" cy="281.1" r="2.75" fill="#9d1c1d" />
<circle cx="614.6" cy="281.1" r="0.75" fill="#f9a066" />
<circle cx="629.9" cy="281.1" r="1.75" fill="#d9462c" />
<text x="495.3" y="291.6" font-size="7.6" text-anchor="end" font-style="italic" >HMOX1</text>
<circle cx="507.3" cy="288.9" r="1.75" fill="#fbb67e" />
<circle cx="522.6" cy="288.9" r="2.00" fill="#f9a066" />
<circle cx="538.0" cy="288.9" r="1.50" fill="#fdc997" />
<circle cx="553.3" cy="288.9" r="1.75" fill="#fbb67e" />
<circle cx="568.6" cy="288.9" r="2.00" fill="#fbb67e" />
<circle cx="584.0" cy="288.9" r="3.00" fill="#9d1c1d" />
<circle cx="599.3" cy="288.9" r="1.75" fill="#fdc997" />
<circle cx="614.6" cy="288.9" r="2.00" fill="#f38553" />
<circle cx="629.9" cy="288.9" r="2.25" fill="#f9a066" />
<circle cx="645.3" cy="288.9" r="2.25" fill="#f9a066" />
<circle cx="660.6" cy="288.9" r="2.25" fill="#f9a066" />
<circle cx="675.9" cy="288.9" r="1.75" fill="#f9a066" />
<text x="495.3" y="299.5" font-size="7.6" text-anchor="end" font-style="italic" >HSP90AA1</text>
<circle cx="507.3" cy="296.8" r="3.25" fill="#f9a066" />
<circle cx="522.6" cy="296.8" r="3.25" fill="#f9a066" />
<circle cx="538.0" cy="296.8" r="3.50" fill="#f9a066" />
<circle cx="553.3" cy="296.8" r="3.25" fill="#f9a066" />
<circle cx="568.6" cy="296.8" r="3.25" fill="#fbb67e" />
<circle cx="584.0" cy="296.8" r="5.50" fill="#9d1c1d" />
<circle cx="599.3" cy="296.8" r="3.00" fill="#fbb67e" />
<circle cx="614.6" cy="296.8" r="3.00" fill="#fbb67e" />
<circle cx="629.9" cy="296.8" r="3.25" fill="#fbb67e" />
<circle cx="645.3" cy="296.8" r="3.25" fill="#fbb67e" />
<circle cx="660.6" cy="296.8" r="2.75" fill="#fdc997" />
<circle cx="675.9" cy="296.8" r="2.75" fill="#fbb67e" />
<text x="495.3" y="307.3" font-size="7.6" text-anchor="end" font-style="italic" >HSPA1B</text>
<circle cx="584.0" cy="304.6" r="3.50" fill="#9d1c1d" />
<text x="495.3" y="315.1" font-size="7.6" text-anchor="end" font-style="italic" >HSPA1A</text>
<circle cx="584.0" cy="312.4" r="3.75" fill="#9d1c1d" />
<text x="495.3" y="323.0" font-size="7.6" text-anchor="end" font-style="italic" >IFIT3</text>
<circle cx="507.3" cy="320.3" r="2.00" fill="#f9a066" />
<circle cx="522.6" cy="320.3" r="1.50" fill="#fbb67e" />
<circle cx="538.0" cy="320.3" r="1.50" fill="#fbb67e" />
<circle cx="553.3" cy="320.3" r="2.25" fill="#eb6940" />
<circle cx="568.6" cy="320.3" r="4.50" fill="#9d1c1d" />
<circle cx="584.0" cy="320.3" r="1.75" fill="#f9a066" />
<circle cx="599.3" cy="320.3" r="1.75" fill="#fbb67e" />
<circle cx="614.6" cy="320.3" r="1.25" fill="#fbb67e" />
<circle cx="629.9" cy="320.3" r="1.50" fill="#fbb67e" />
<circle cx="645.3" cy="320.3" r="1.50" fill="#fbb67e" />
<circle cx="660.6" cy="320.3" r="1.25" fill="#fbb67e" />
<circle cx="675.9" cy="320.3" r="1.50" fill="#fbb67e" />
<text x="495.3" y="330.8" font-size="7.6" text-anchor="end" font-style="italic" >IFIT2</text>
<circle cx="507.3" cy="328.1" r="1.25" fill="#f9a066" />
<circle cx="553.3" cy="328.1" r="1.50" fill="#f9a066" />
<circle cx="568.6" cy="328.1" r="4.00" fill="#9d1c1d" />
<circle cx="584.0" cy="328.1" r="0.75" fill="#fbb67e" />
<circle cx="599.3" cy="328.1" r="1.25" fill="#f9a066" />
<circle cx="629.9" cy="328.1" r="1.00" fill="#f9a066" />
<text x="495.3" y="338.6" font-size="7.6" text-anchor="end" font-style="italic" >IFIT1</text>
<circle cx="568.6" cy="335.9" r="3.50" fill="#9d1c1d" />
<text x="495.3" y="346.5" font-size="7.6" text-anchor="end" font-style="italic" >IL18</text>
<circle cx="507.3" cy="343.8" r="3.50" fill="#fbb67e" />
<circle cx="522.6" cy="343.8" r="3.50" fill="#fbb67e" />
<circle cx="538.0" cy="343.8" r="3.50" fill="#fbb67e" />
<circle cx="553.3" cy="343.8" r="4.25" fill="#9d1c1d" />
<circle cx="568.6" cy="343.8" r="3.25" fill="#fdc997" />
<circle cx="584.0" cy="343.8" r="3.25" fill="#fbb67e" />
<circle cx="599.3" cy="343.8" r="3.50" fill="#f9a066" />
<circle cx="614.6" cy="343.8" r="3.75" fill="#eb6940" />
<circle cx="629.9" cy="343.8" r="4.00" fill="#eb6940" />
<circle cx="645.3" cy="343.8" r="4.00" fill="#f38553" />
<circle cx="660.6" cy="343.8" r="3.25" fill="#fdc997" />
<circle cx="675.9" cy="343.8" r="2.75" fill="#feddb7" />
<text x="495.3" y="354.3" font-size="7.6" text-anchor="end" font-style="italic" >IL6</text>
<circle cx="553.3" cy="351.6" r="2.00" fill="#9d1c1d" />
<text x="495.3" y="362.1" font-size="7.6" text-anchor="end" font-style="italic" >IL4R</text>
<circle cx="507.3" cy="359.4" r="4.00" fill="#f9a066" />
<circle cx="522.6" cy="359.4" r="4.25" fill="#eb6940" />
<circle cx="538.0" cy="359.4" r="4.25" fill="#eb6940" />
<circle cx="553.3" cy="359.4" r="4.50" fill="#d9462c" />
<circle cx="568.6" cy="359.4" r="3.75" fill="#fdc997" />
<circle cx="584.0" cy="359.4" r="3.75" fill="#f9a066" />
<circle cx="599.3" cy="359.4" r="4.00" fill="#f9a066" />
<circle cx="614.6" cy="359.4" r="3.75" fill="#fbb67e" />
<circle cx="629.9" cy="359.4" r="4.25" fill="#fdc997" />
<circle cx="645.3" cy="359.4" r="4.00" fill="#fbb67e" />
<circle cx="660.6" cy="359.4" r="3.75" fill="#fdc997" />
<circle cx="675.9" cy="359.4" r="3.25" fill="#feddb7" />
<text x="495.3" y="369.9" font-size="7.6" text-anchor="end" font-style="italic" >IL1B</text>
<circle cx="507.3" cy="367.2" r="1.00" fill="#fbb67e" />
<circle cx="522.6" cy="367.2" r="1.75" fill="#f9a066" />
<circle cx="538.0" cy="367.2" r="1.75" fill="#f9a066" />
<circle cx="553.3" cy="367.2" r="3.50" fill="#9d1c1d" />
<circle cx="568.6" cy="367.2" r="1.75" fill="#f9a066" />
<circle cx="584.0" cy="367.2" r="1.75" fill="#f9a066" />
<circle cx="599.3" cy="367.2" r="1.00" fill="#fbb67e" />
<circle cx="660.6" cy="367.2" r="1.75" fill="#eb6940" />
<circle cx="675.9" cy="367.2" r="1.50" fill="#f9a066" />
<text x="495.3" y="377.8" font-size="7.6" text-anchor="end" font-style="italic" >IL1A</text>
<circle cx="507.3" cy="375.1" r="1.50" fill="#f9a066" />
<circle cx="522.6" cy="375.1" r="2.25" fill="#f38553" />
<circle cx="538.0" cy="375.1" r="2.00" fill="#f9a066" />
<circle cx="553.3" cy="375.1" r="3.25" fill="#9d1c1d" />
<circle cx="568.6" cy="375.1" r="1.50" fill="#f9a066" />
<circle cx="584.0" cy="375.1" r="1.75" fill="#f9a066" />
<circle cx="599.3" cy="375.1" r="1.50" fill="#f9a066" />
<text x="495.3" y="385.6" font-size="7.6" text-anchor="end" font-style="italic" >CCL4</text>
<circle cx="522.6" cy="382.9" r="1.25" fill="#f9a066" />
<circle cx="538.0" cy="382.9" r="1.00" fill="#f9a066" />
<circle cx="553.3" cy="382.9" r="2.50" fill="#9d1c1d" />
<circle cx="584.0" cy="382.9" r="1.25" fill="#eb6940" />
<circle cx="614.6" cy="382.9" r="1.25" fill="#f38553" />
<circle cx="629.9" cy="382.9" r="1.25" fill="#f38553" />
<text x="495.3" y="393.4" font-size="7.6" text-anchor="end" font-style="italic" >CCL3</text>
<circle cx="522.6" cy="390.7" r="1.25" fill="#f9a066" />
<circle cx="538.0" cy="390.7" r="1.00" fill="#f9a066" />
<circle cx="553.3" cy="390.7" r="2.50" fill="#9d1c1d" />
<circle cx="568.6" cy="390.7" r="1.00" fill="#fbb67e" />
<circle cx="584.0" cy="390.7" r="1.50" fill="#f38553" />
<circle cx="599.3" cy="390.7" r="1.00" fill="#fbb67e" />
<circle cx="614.6" cy="390.7" r="1.50" fill="#f38553" />
<circle cx="629.9" cy="390.7" r="2.00" fill="#d9462c" />
<circle cx="645.3" cy="390.7" r="1.25" fill="#f9a066" />
<text x="495.3" y="401.3" font-size="7.6" text-anchor="end" font-style="italic" >CXCL10</text>
<circle cx="553.3" cy="398.6" r="2.25" fill="#9d1c1d" />
<circle cx="568.6" cy="398.6" r="1.75" fill="#d9462c" />
<text x="495.3" y="409.1" font-size="7.6" text-anchor="end" font-style="italic" >CXCL8</text>
<circle cx="522.6" cy="406.4" r="1.75" fill="#f9a066" />
<circle cx="538.0" cy="406.4" r="2.00" fill="#f38553" />
<circle cx="553.3" cy="406.4" r="3.00" fill="#9d1c1d" />
<circle cx="584.0" cy="406.4" r="1.50" fill="#f38553" />
<circle cx="599.3" cy="406.4" r="1.00" fill="#fbb67e" />
<circle cx="629.9" cy="406.4" r="1.75" fill="#f38553" />
<circle cx="645.3" cy="406.4" r="1.00" fill="#fbb67e" />
<circle cx="660.6" cy="406.4" r="0.75" fill="#fbb67e" />
<text x="495.3" y="416.9" font-size="7.6" text-anchor="end" font-style="italic" >CXCL5</text>
<circle cx="507.3" cy="414.2" r="1.25" fill="#f9a066" />
<circle cx="522.6" cy="414.2" r="2.25" fill="#eb6940" />
<circle cx="538.0" cy="414.2" r="2.25" fill="#eb6940" />
<circle cx="553.3" cy="414.2" r="3.25" fill="#9d1c1d" />
<circle cx="568.6" cy="414.2" r="1.00" fill="#fbb67e" />
<circle cx="584.0" cy="414.2" r="1.25" fill="#f9a066" />
<circle cx="599.3" cy="414.2" r="1.00" fill="#fbb67e" />
<circle cx="645.3" cy="414.2" r="1.25" fill="#f9a066" />
<text x="495.3" y="424.8" font-size="7.6" text-anchor="end" font-style="italic" >CXCL3</text>
<circle cx="507.3" cy="422.1" r="3.25" fill="#f9a066" />
<circle cx="522.6" cy="422.1" r="4.00" fill="#f38553" />
<circle cx="538.0" cy="422.1" r="4.75" fill="#eb6940" />
<circle cx="553.3" cy="422.1" r="4.75" fill="#d9462c" />
<circle cx="568.6" cy="422.1" r="3.25" fill="#f9a066" />
<circle cx="584.0" cy="422.1" r="3.75" fill="#eb6940" />
<circle cx="599.3" cy="422.1" r="3.25" fill="#f9a066" />
<circle cx="614.6" cy="422.1" r="2.75" fill="#fdc997" />
<circle cx="629.9" cy="422.1" r="2.75" fill="#fdc997" />
<circle cx="645.3" cy="422.1" r="3.00" fill="#f9a066" />
<circle cx="660.6" cy="422.1" r="2.75" fill="#fdc997" />
<circle cx="675.9" cy="422.1" r="2.25" fill="#fdc997" />
<text x="495.3" y="432.6" font-size="7.6" text-anchor="end" font-style="italic" >CXCL2</text>
<circle cx="507.3" cy="429.9" r="2.25" fill="#fdc997" />
<circle cx="522.6" cy="429.9" r="2.75" fill="#f9a066" />
<circle cx="538.0" cy="429.9" r="3.00" fill="#eb6940" />
<circle cx="553.3" cy="429.9" r="3.50" fill="#9d1c1d" />
<circle cx="568.6" cy="429.9" r="2.50" fill="#fdc997" />
<circle cx="584.0" cy="429.9" r="2.50" fill="#eb6940" />
<circle cx="599.3" cy="429.9" r="2.25" fill="#fdc997" />
<circle cx="614.6" cy="429.9" r="2.25" fill="#f9a066" />
<circle cx="629.9" cy="429.9" r="2.25" fill="#fbb67e" />
<circle cx="645.3" cy="429.9" r="2.25" fill="#f9a066" />
<circle cx="660.6" cy="429.9" r="2.25" fill="#f9a066" />
<circle cx="675.9" cy="429.9" r="1.75" fill="#fdc997" />
<text x="495.3" y="440.4" font-size="7.6" text-anchor="end" font-style="italic" >C5AR1</text>
<circle cx="507.3" cy="437.7" r="3.75" fill="#fbb67e" />
<circle cx="522.6" cy="437.7" r="3.75" fill="#fbb67e" />
<circle cx="538.0" cy="437.7" r="4.75" fill="#9d1c1d" />
<circle cx="553.3" cy="437.7" r="3.50" fill="#fbb67e" />
<circle cx="568.6" cy="437.7" r="3.50" fill="#fdc997" />
<circle cx="584.0" cy="437.7" r="3.75" fill="#f9a066" />
<circle cx="599.3" cy="437.7" r="3.50" fill="#fdc997" />
<circle cx="614.6" cy="437.7" r="3.50" fill="#f38553" />
<circle cx="629.9" cy="437.7" r="3.50" fill="#fdc997" />
<circle cx="645.3" cy="437.7" r="3.75" fill="#fbb67e" />
<circle cx="660.6" cy="437.7" r="3.50" fill="#f9a066" />
<circle cx="675.9" cy="437.7" r="3.50" fill="#eb6940" />
<text x="495.3" y="448.2" font-size="7.6" text-anchor="end" font-style="italic" >CD74</text>
<circle cx="507.3" cy="445.5" r="4.25" fill="#fbb67e" />
<circle cx="522.6" cy="445.5" r="4.25" fill="#fbb67e" />
<circle cx="538.0" cy="445.5" r="5.50" fill="#9d1c1d" />
<circle cx="553.3" cy="445.5" r="4.50" fill="#eb6940" />
<circle cx="568.6" cy="445.5" r="4.00" fill="#fbb67e" />
<circle cx="584.0" cy="445.5" r="4.00" fill="#f9a066" />
<circle cx="599.3" cy="445.5" r="4.00" fill="#fdc997" />
<circle cx="614.6" cy="445.5" r="4.00" fill="#f9a066" />
<circle cx="629.9" cy="445.5" r="4.00" fill="#feddb7" />
<circle cx="645.3" cy="445.5" r="4.25" fill="#fbb67e" />
<circle cx="660.6" cy="445.5" r="4.25" fill="#fbb67e" />
<circle cx="675.9" cy="445.5" r="3.50" fill="#feddb7" />
<text x="495.3" y="456.1" font-size="7.6" text-anchor="end" font-style="italic" >FOSB</text>
<circle cx="507.3" cy="453.4" r="2.75" fill="#fbb67e" />
<circle cx="522.6" cy="453.4" r="3.00" fill="#fdc997" />
<circle cx="538.0" cy="453.4" r="4.50" fill="#d9462c" />
<circle cx="553.3" cy="453.4" r="3.00" fill="#f9a066" />
<circle cx="568.6" cy="453.4" r="2.75" fill="#fdc997" />
<circle cx="584.0" cy="453.4" r="3.50" fill="#d9462c" />
<circle cx="599.3" cy="453.4" r="2.75" fill="#fdc997" />
<circle cx="614.6" cy="453.4" r="2.75" fill="#f9a066" />
<circle cx="629.9" cy="453.4" r="2.50" fill="#fdc997" />
<circle cx="645.3" cy="453.4" r="2.50" fill="#fdc997" />
<circle cx="660.6" cy="453.4" r="2.25" fill="#feddb7" />
<circle cx="675.9" cy="453.4" r="2.25" fill="#fdc997" />
<text x="495.3" y="463.9" font-size="7.6" text-anchor="end" font-style="italic" >SEMA4A</text>
<circle cx="507.3" cy="461.2" r="1.25" fill="#fbb67e" />
<circle cx="522.6" cy="461.2" r="2.25" fill="#f38553" />
<circle cx="538.0" cy="461.2" r="3.50" fill="#9d1c1d" />
<circle cx="553.3" cy="461.2" r="2.50" fill="#f9a066" />
<circle cx="568.6" cy="461.2" r="1.50" fill="#fbb67e" />
<circle cx="584.0" cy="461.2" r="2.25" fill="#f38553" />
<circle cx="599.3" cy="461.2" r="1.00" fill="#fbb67e" />
<circle cx="614.6" cy="461.2" r="2.25" fill="#f38553" />
<circle cx="629.9" cy="461.2" r="1.75" fill="#fbb67e" />
<circle cx="645.3" cy="461.2" r="2.25" fill="#f9a066" />
<circle cx="660.6" cy="461.2" r="2.00" fill="#fdc997" />
<circle cx="675.9" cy="461.2" r="1.75" fill="#fbb67e" />
<text x="495.3" y="471.7" font-size="7.6" text-anchor="end" font-style="italic" >NR4A2</text>
<circle cx="507.3" cy="469.0" r="2.25" fill="#fbb67e" />
<circle cx="522.6" cy="469.0" r="2.50" fill="#feddb7" />
<circle cx="538.0" cy="469.0" r="3.75" fill="#9d1c1d" />
<circle cx="553.3" cy="469.0" r="2.50" fill="#fbb67e" />
<circle cx="568.6" cy="469.0" r="2.25" fill="#fdc997" />
<circle cx="584.0" cy="469.0" r="2.75" fill="#f38553" />
<circle cx="599.3" cy="469.0" r="2.50" fill="#fdc997" />
<circle cx="614.6" cy="469.0" r="2.75" fill="#d9462c" />
<circle cx="629.9" cy="469.0" r="2.50" fill="#fbb67e" />
<circle cx="645.3" cy="469.0" r="2.50" fill="#f9a066" />
<circle cx="660.6" cy="469.0" r="2.50" fill="#fdc997" />
<circle cx="675.9" cy="469.0" r="2.00" fill="#fdc997" />
<text x="495.3" y="479.6" font-size="7.6" text-anchor="end" font-style="italic" >NR4A3</text>
<circle cx="507.3" cy="476.9" r="2.00" fill="#fbb67e" />
<circle cx="522.6" cy="476.9" r="2.25" fill="#f9a066" />
<circle cx="538.0" cy="476.9" r="4.50" fill="#9d1c1d" />
<circle cx="553.3" cy="476.9" r="2.50" fill="#f9a066" />
<circle cx="568.6" cy="476.9" r="2.25" fill="#f9a066" />
<circle cx="584.0" cy="476.9" r="2.50" fill="#f9a066" />
<circle cx="599.3" cy="476.9" r="2.25" fill="#f9a066" />
<circle cx="614.6" cy="476.9" r="2.25" fill="#f9a066" />
<circle cx="629.9" cy="476.9" r="2.25" fill="#fbb67e" />
<circle cx="645.3" cy="476.9" r="2.50" fill="#f9a066" />
<circle cx="660.6" cy="476.9" r="1.75" fill="#fdc997" />
<circle cx="675.9" cy="476.9" r="1.75" fill="#fdc997" />
<text x="495.3" y="487.4" font-size="7.6" text-anchor="end" font-style="italic" >CD82</text>
<circle cx="507.3" cy="484.7" r="1.75" fill="#f9a066" />
<circle cx="522.6" cy="484.7" r="2.50" fill="#d9462c" />
<circle cx="538.0" cy="484.7" r="1.50" fill="#fdc997" />
<circle cx="553.3" cy="484.7" r="2.75" fill="#9d1c1d" />
<circle cx="568.6" cy="484.7" r="2.00" fill="#f9a066" />
<circle cx="584.0" cy="484.7" r="1.75" fill="#f9a066" />
<circle cx="599.3" cy="484.7" r="1.75" fill="#f9a066" />
<circle cx="614.6" cy="484.7" r="1.25" fill="#fdc997" />
<circle cx="629.9" cy="484.7" r="2.25" fill="#eb6940" />
<circle cx="645.3" cy="484.7" r="2.00" fill="#f9a066" />
<circle cx="660.6" cy="484.7" r="1.50" fill="#fdc997" />
<circle cx="675.9" cy="484.7" r="1.00" fill="#fdc997" />
<text x="495.3" y="495.2" font-size="7.6" text-anchor="end" font-style="italic" >IL1RN</text>
<circle cx="522.6" cy="492.5" r="1.75" fill="#d9462c" />
<circle cx="538.0" cy="492.5" r="1.50" fill="#f38553" />
<circle cx="553.3" cy="492.5" r="2.00" fill="#d9462c" />
<circle cx="568.6" cy="492.5" r="2.00" fill="#f38553" />
<circle cx="584.0" cy="492.5" r="1.00" fill="#d9462c" />
<text x="495.3" y="503.1" font-size="7.6" text-anchor="end" font-style="italic" >FOSL1</text>
<circle cx="522.6" cy="500.4" r="1.75" fill="#d9462c" />
<circle cx="538.0" cy="500.4" r="1.25" fill="#f9a066" />
<circle cx="553.3" cy="500.4" r="1.75" fill="#d9462c" />
<circle cx="568.6" cy="500.4" r="1.00" fill="#f9a066" />
<circle cx="584.0" cy="500.4" r="1.25" fill="#d9462c" />
<circle cx="599.3" cy="500.4" r="1.00" fill="#fbb67e" />
<circle cx="645.3" cy="500.4" r="1.25" fill="#f38553" />
<circle cx="660.6" cy="500.4" r="1.00" fill="#fbb67e" />
<text x="495.3" y="510.9" font-size="7.6" text-anchor="end" font-style="italic" >MMP19</text>
<circle cx="507.3" cy="508.2" r="3.25" fill="#fbb67e" />
<circle cx="522.6" cy="508.2" r="4.50" fill="#eb6940" />
<circle cx="538.0" cy="508.2" r="4.25" fill="#eb6940" />
<circle cx="553.3" cy="508.2" r="4.00" fill="#f38553" />
<circle cx="568.6" cy="508.2" r="3.25" fill="#fdc997" />
<circle cx="584.0" cy="508.2" r="4.00" fill="#f38553" />
<circle cx="599.3" cy="508.2" r="3.25" fill="#fbb67e" />
<circle cx="614.6" cy="508.2" r="2.75" fill="#fdc997" />
<circle cx="629.9" cy="508.2" r="2.75" fill="#fdc997" />
<circle cx="645.3" cy="508.2" r="3.75" fill="#f38553" />
<circle cx="660.6" cy="508.2" r="3.00" fill="#fbb67e" />
<circle cx="675.9" cy="508.2" r="2.25" fill="#feddb7" />
<text x="495.3" y="518.7" font-size="7.6" text-anchor="end" font-style="italic" >CSF1</text>
<circle cx="507.3" cy="516.0" r="1.25" fill="#fbb67e" />
<circle cx="522.6" cy="516.0" r="3.00" fill="#9d1c1d" />
<circle cx="538.0" cy="516.0" r="1.50" fill="#f9a066" />
<circle cx="553.3" cy="516.0" r="2.25" fill="#f9a066" />
<circle cx="568.6" cy="516.0" r="1.25" fill="#fbb67e" />
<circle cx="584.0" cy="516.0" r="2.25" fill="#d9462c" />
<circle cx="599.3" cy="516.0" r="2.00" fill="#f9a066" />
<circle cx="629.9" cy="516.0" r="1.50" fill="#f9a066" />
<circle cx="645.3" cy="516.0" r="1.25" fill="#f9a066" />
<text x="495.3" y="526.6" font-size="7.6" text-anchor="end" font-style="italic" >INHBA</text>
<circle cx="507.3" cy="523.9" r="4.75" fill="#f9a066" />
<circle cx="522.6" cy="523.9" r="4.75" fill="#f38553" />
<circle cx="538.0" cy="523.9" r="5.50" fill="#eb6940" />
<circle cx="553.3" cy="523.9" r="4.50" fill="#f38553" />
<circle cx="568.6" cy="523.9" r="4.25" fill="#f9a066" />
<circle cx="584.0" cy="523.9" r="4.50" fill="#eb6940" />
<circle cx="599.3" cy="523.9" r="4.00" fill="#f9a066" />
<circle cx="614.6" cy="523.9" r="1.75" fill="#fdc997" />
<circle cx="629.9" cy="523.9" r="2.25" fill="#fdc997" />
<circle cx="645.3" cy="523.9" r="2.75" fill="#fbb67e" />
<circle cx="660.6" cy="523.9" r="2.00" fill="#fdc997" />
<circle cx="675.9" cy="523.9" r="2.00" fill="#fdc997" />
<text x="495.3" y="534.4" font-size="7.6" text-anchor="end" font-style="italic" >PPARG</text>
<circle cx="507.3" cy="531.7" r="5.50" fill="#f9a066" />
<circle cx="522.6" cy="531.7" r="5.50" fill="#f38553" />
<circle cx="538.0" cy="531.7" r="5.50" fill="#eb6940" />
<circle cx="553.3" cy="531.7" r="5.25" fill="#f9a066" />
<circle cx="568.6" cy="531.7" r="5.25" fill="#f9a066" />
<circle cx="584.0" cy="531.7" r="5.25" fill="#f38553" />
<circle cx="599.3" cy="531.7" r="5.25" fill="#f9a066" />
<circle cx="614.6" cy="531.7" r="3.75" fill="#feddb7" />
<circle cx="629.9" cy="531.7" r="4.50" fill="#feddb7" />
<circle cx="645.3" cy="531.7" r="4.50" fill="#f9a066" />
<circle cx="660.6" cy="531.7" r="4.25" fill="#fbb67e" />
<circle cx="675.9" cy="531.7" r="3.75" fill="#fdc997" />
<text x="495.3" y="542.2" font-size="7.6" text-anchor="end" font-style="italic" >MARCO</text>
<circle cx="507.3" cy="539.5" r="4.50" fill="#f9a066" />
<circle cx="522.6" cy="539.5" r="4.75" fill="#f38553" />
<circle cx="538.0" cy="539.5" r="3.50" fill="#fbb67e" />
<circle cx="553.3" cy="539.5" r="4.25" fill="#f9a066" />
<circle cx="568.6" cy="539.5" r="4.25" fill="#f38553" />
<circle cx="584.0" cy="539.5" r="4.50" fill="#f9a066" />
<circle cx="599.3" cy="539.5" r="4.00" fill="#f9a066" />
<circle cx="614.6" cy="539.5" r="3.00" fill="#fbb67e" />
<circle cx="629.9" cy="539.5" r="3.25" fill="#feddb7" />
<circle cx="645.3" cy="539.5" r="4.00" fill="#eb6940" />
<circle cx="660.6" cy="539.5" r="3.50" fill="#f9a066" />
<circle cx="675.9" cy="539.5" r="2.75" fill="#feddb7" />
<text x="495.3" y="550.0" font-size="7.6" text-anchor="end" font-style="italic" >FABP4</text>
<circle cx="507.3" cy="547.3" r="2.50" fill="#f38553" />
<circle cx="522.6" cy="547.3" r="3.00" fill="#f38553" />
<circle cx="538.0" cy="547.3" r="3.75" fill="#d9462c" />
<circle cx="553.3" cy="547.3" r="2.75" fill="#f9a066" />
<circle cx="568.6" cy="547.3" r="2.25" fill="#f9a066" />
<circle cx="584.0" cy="547.3" r="3.75" fill="#d9462c" />
<circle cx="599.3" cy="547.3" r="2.25" fill="#f9a066" />
<circle cx="645.3" cy="547.3" r="2.00" fill="#f9a066" />
<circle cx="675.9" cy="547.3" r="0.75" fill="#fbb67e" />
<text x="510.3" y="558.0" font-size="8.4" text-anchor="end" transform="rotate(-45 510.3 558.0)" >AM<tspan font-size="6.05" dy="2.52">c</tspan></text>
<text x="525.6" y="558.0" font-size="8.4" text-anchor="end" transform="rotate(-45 525.6 558.0)" >AM<tspan font-size="6.05" dy="2.52">CSF</tspan></text>
<text x="541.0" y="558.0" font-size="8.4" text-anchor="end" transform="rotate(-45 541.0 558.0)" >AM<tspan font-size="6.05" dy="2.52">NR4A</tspan></text>
<text x="556.3" y="558.0" font-size="8.4" text-anchor="end" transform="rotate(-45 556.3 558.0)" >AM<tspan font-size="6.05" dy="2.52">inflam</tspan></text>
<text x="571.6" y="558.0" font-size="8.4" text-anchor="end" transform="rotate(-45 571.6 558.0)" >AM<tspan font-size="6.05" dy="2.52">IFIT</tspan></text>
<text x="587.0" y="558.0" font-size="8.4" text-anchor="end" transform="rotate(-45 587.0 558.0)" >AM<tspan font-size="6.05" dy="2.52">HSP</tspan></text>
<text x="602.3" y="558.0" font-size="8.4" text-anchor="end" transform="rotate(-45 602.3 558.0)" >AM<tspan font-size="6.05" dy="2.52">p21</tspan></text>
<text x="617.6" y="558.0" font-size="8.4" text-anchor="end" transform="rotate(-45 617.6 558.0)" >IM<tspan font-size="6.05" dy="2.52">t</tspan></text>
<text x="632.9" y="558.0" font-size="8.4" text-anchor="end" transform="rotate(-45 632.9 558.0)" >IM<tspan font-size="6.05" dy="2.52">CHIT1</tspan></text>
<text x="648.3" y="558.0" font-size="8.4" text-anchor="end" transform="rotate(-45 648.3 558.0)" >MDM</text>
<text x="663.6" y="558.0" font-size="8.4" text-anchor="end" transform="rotate(-45 663.6 558.0)" >cMono</text>
<text x="678.9" y="558.0" font-size="8.4" text-anchor="end" transform="rotate(-45 678.9 558.0)" >pMono</text>
<text x="538.3" y="590.7" font-size="7.9" text-anchor="end" >Percent</text>
<text x="538.3" y="600.5" font-size="7.9" text-anchor="end" >expressed</text>
<circle cx="547.5" cy="593.0" r="3.00" fill="#1a1a1a" />
<text x="554.8" y="596.0" font-size="7.9" >25</text>
<circle cx="577.5" cy="593.0" r="4.30" fill="#1a1a1a" />
<text x="586.4" y="596.0" font-size="7.9" >50</text>
<circle cx="612.3" cy="593.0" r="5.15" fill="#1a1a1a" />
<text x="620.7" y="596.0" font-size="7.9" >75</text>
<circle cx="649.3" cy="593.0" r="6.50" fill="#1a1a1a" />
<text x="657.4" y="596.0" font-size="7.9" >100</text>
<text x="538.3" y="611.9" font-size="7.9" text-anchor="end" >Average</text>
<text x="538.3" y="621.9" font-size="7.9" text-anchor="end" >expression</text>
<defs><linearGradient id="cb" x1="0" x2="1" y1="0" y2="0"><stop offset="0" stop-color="#fee8c8"/><stop offset="0.2" stop-color="#fdc48e"/><stop offset="0.4" stop-color="#f9a066"/><stop offset="0.55" stop-color="#f27e4e"/><stop offset="0.7" stop-color="#e2502f"/><stop offset="0.85" stop-color="#bf2a25"/><stop offset="1" stop-color="#8c1519"/></linearGradient></defs>
<rect x="542.70" y="611.00" width="132.30" height="6.80" fill="url(#cb)" />
<line x1="569.70" y1="611.00" x2="569.70" y2="612.50" stroke="#fff" stroke-width="0.8" />
<line x1="569.70" y1="616.30" x2="569.70" y2="617.80" stroke="#fff" stroke-width="0.8" />
<text x="569.7" y="627.6" font-size="7.9" text-anchor="middle" >−1</text>
<line x1="599.40" y1="611.00" x2="599.40" y2="612.50" stroke="#fff" stroke-width="0.8" />
<line x1="599.40" y1="616.30" x2="599.40" y2="617.80" stroke="#fff" stroke-width="0.8" />
<text x="599.4" y="627.6" font-size="7.9" text-anchor="middle" >0</text>
<line x1="629.60" y1="611.00" x2="629.60" y2="612.50" stroke="#fff" stroke-width="0.8" />
<line x1="629.60" y1="616.30" x2="629.60" y2="617.80" stroke="#fff" stroke-width="0.8" />
<text x="629.6" y="627.6" font-size="7.9" text-anchor="middle" >1</text>
<line x1="659.60" y1="611.00" x2="659.60" y2="612.50" stroke="#fff" stroke-width="0.8" />
<line x1="659.60" y1="616.30" x2="659.60" y2="617.80" stroke="#fff" stroke-width="0.8" />
<text x="659.6" y="627.6" font-size="7.9" text-anchor="middle" >2</text>
<text x="1.5" y="209.5" font-size="14.5" font-weight="bold" fill="#000" >c</text>
<text x="51.4" y="210.0" font-size="9" >IM<tspan font-size="6.48" dy="2.70">CHITI</tspan></text>
<line x1="51.40" y1="218.00" x2="51.40" y2="309.25" stroke="#7f7f7f" stroke-width="0.9" />
<line x1="50.95" y1="308.80" x2="107.70" y2="308.80" stroke="#7f7f7f" stroke-width="0.9" />
<line x1="48.90" y1="234.40" x2="51.40" y2="234.40" stroke="#7f7f7f" stroke-width="0.8" />
<text x="44.9" y="237.2" font-size="8.4" text-anchor="end" >25.0</text>
<line x1="48.90" y1="262.20" x2="51.40" y2="262.20" stroke="#7f7f7f" stroke-width="0.8" />
<text x="44.9" y="265.1" font-size="8.4" text-anchor="end" >3.1</text>
<line x1="48.90" y1="289.30" x2="51.40" y2="289.30" stroke="#7f7f7f" stroke-width="0.8" />
<text x="44.9" y="292.2" font-size="8.4" text-anchor="end" >0.4</text>
<line x1="62.20" y1="308.80" x2="62.20" y2="311.30" stroke="#7f7f7f" stroke-width="0.8" />
<text x="62.2" y="319.8" font-size="8.0" text-anchor="middle" >N</text>
<line x1="79.40" y1="308.80" x2="79.40" y2="311.30" stroke="#7f7f7f" stroke-width="0.8" />
<text x="79.4" y="319.8" font-size="8.0" text-anchor="middle" >F</text>
<line x1="97.50" y1="308.80" x2="97.50" y2="311.30" stroke="#7f7f7f" stroke-width="0.8" />
<text x="97.5" y="319.8" font-size="8.0" text-anchor="middle" >C</text>
<rect x="55.45" y="276.20" width="13.50" height="13.70" fill="#e3f1df" fill-opacity="0.9" />
<g fill="#9fd49a" fill-opacity="0.78"><circle cx="66.3" cy="290.4" r="2.15"/><circle cx="61.9" cy="281.7" r="2.15"/><circle cx="63.9" cy="286.5" r="2.15"/><circle cx="58.0" cy="280.1" r="2.15"/><circle cx="63.8" cy="279.5" r="2.15"/><circle cx="66.7" cy="298.1" r="2.15"/><circle cx="62.5" cy="300.4" r="2.15"/><circle cx="65.1" cy="274.6" r="2.15"/><circle cx="64.3" cy="289.6" r="2.15"/><circle cx="56.9" cy="290.6" r="2.15"/><circle cx="65.3" cy="271.7" r="2.15"/><circle cx="63.3" cy="283.7" r="2.15"/><circle cx="63.9" cy="222.0" r="2.15"/><circle cx="59.8" cy="308.2" r="2.15"/></g>
<line x1="62.20" y1="271.60" x2="62.20" y2="276.20" stroke="#262626" stroke-width="1.0" />
<line x1="62.20" y1="289.90" x2="62.20" y2="301.00" stroke="#262626" stroke-width="1.0" />
<rect x="55.45" y="276.20" width="13.50" height="13.70" fill="none" stroke="#262626" stroke-width="1.0" />
<line x1="55.45" y1="282.90" x2="68.95" y2="282.90" stroke="#262626" stroke-width="1.3" />
<rect x="73.00" y="262.20" width="13.60" height="19.10" fill="#cfe9ca" fill-opacity="0.55" />
<g fill="#9fd49a" fill-opacity="0.78"><circle cx="85.2" cy="282.6" r="2.15"/><circle cx="81.3" cy="295.0" r="2.15"/><circle cx="83.7" cy="276.1" r="2.15"/><circle cx="77.3" cy="290.2" r="2.15"/><circle cx="76.0" cy="298.4" r="2.15"/><circle cx="79.1" cy="275.9" r="2.15"/><circle cx="75.3" cy="245.0" r="2.15"/><circle cx="78.4" cy="257.0" r="2.15"/><circle cx="85.5" cy="260.6" r="2.15"/><circle cx="77.7" cy="283.9" r="2.15"/><circle cx="73.8" cy="270.9" r="2.15"/><circle cx="74.2" cy="280.4" r="2.15"/><circle cx="75.8" cy="288.5" r="2.15"/><circle cx="83.3" cy="294.7" r="2.15"/><circle cx="78.1" cy="284.6" r="2.15"/><circle cx="77.2" cy="244.0" r="2.15"/><circle cx="74.9" cy="254.1" r="2.15"/><circle cx="85.7" cy="256.4" r="2.15"/><circle cx="78.9" cy="257.0" r="2.15"/><circle cx="76.2" cy="286.6" r="2.15"/><circle cx="74.4" cy="279.2" r="2.15"/><circle cx="74.4" cy="267.2" r="2.15"/><circle cx="75.7" cy="262.9" r="2.15"/><circle cx="82.0" cy="251.5" r="2.15"/><circle cx="75.5" cy="248.9" r="2.15"/><circle cx="74.2" cy="296.5" r="2.15"/><circle cx="79.7" cy="268.1" r="2.15"/><circle cx="76.7" cy="265.4" r="2.15"/><circle cx="85.9" cy="272.2" r="2.15"/><circle cx="75.2" cy="288.0" r="2.15"/><circle cx="80.2" cy="273.3" r="2.15"/><circle cx="83.2" cy="296.3" r="2.15"/><circle cx="78.7" cy="243.3" r="2.15"/><circle cx="85.8" cy="250.4" r="2.15"/><circle cx="79.5" cy="270.5" r="2.15"/><circle cx="76.6" cy="279.5" r="2.15"/><circle cx="78.7" cy="245.9" r="2.15"/><circle cx="74.1" cy="269.4" r="2.15"/><circle cx="78.8" cy="248.7" r="2.15"/><circle cx="76.7" cy="252.2" r="2.15"/><circle cx="84.6" cy="272.1" r="2.15"/><circle cx="83.9" cy="275.5" r="2.15"/><circle cx="79.8" cy="268.4" r="2.15"/><circle cx="74.1" cy="274.9" r="2.15"/><circle cx="76.8" cy="289.6" r="2.15"/><circle cx="76.6" cy="279.3" r="2.15"/><circle cx="76.2" cy="255.8" r="2.15"/><circle cx="76.5" cy="300.6" r="2.15"/><circle cx="84.3" cy="300.3" r="2.15"/><circle cx="75.4" cy="267.2" r="2.15"/><circle cx="74.3" cy="280.2" r="2.15"/><circle cx="85.0" cy="271.0" r="2.15"/><circle cx="80.6" cy="273.4" r="2.15"/><circle cx="85.8" cy="278.0" r="2.15"/><circle cx="78.6" cy="236.9" r="2.15"/><circle cx="84.7" cy="286.4" r="2.15"/><circle cx="81.7" cy="275.5" r="2.15"/><circle cx="83.4" cy="285.7" r="2.15"/><circle cx="82.8" cy="267.0" r="2.15"/><circle cx="79.7" cy="280.4" r="2.15"/><circle cx="74.8" cy="277.5" r="2.15"/><circle cx="76.3" cy="262.3" r="2.15"/><circle cx="84.4" cy="278.8" r="2.15"/><circle cx="84.7" cy="270.0" r="2.15"/><circle cx="85.0" cy="246.4" r="2.15"/><circle cx="77.8" cy="295.2" r="2.15"/><circle cx="81.7" cy="298.9" r="2.15"/><circle cx="83.5" cy="283.3" r="2.15"/><circle cx="81.5" cy="260.6" r="2.15"/><circle cx="83.7" cy="267.7" r="2.15"/><circle cx="80.1" cy="282.5" r="2.15"/><circle cx="81.7" cy="278.4" r="2.15"/><circle cx="82.1" cy="288.1" r="2.15"/><circle cx="77.0" cy="273.9" r="2.15"/><circle cx="85.0" cy="300.6" r="2.15"/><circle cx="85.4" cy="264.4" r="2.15"/><circle cx="74.6" cy="247.3" r="2.15"/><circle cx="85.6" cy="241.2" r="2.15"/><circle cx="85.5" cy="262.8" r="2.15"/><circle cx="81.9" cy="240.7" r="2.15"/><circle cx="74.2" cy="302.9" r="2.15"/><circle cx="84.7" cy="279.9" r="2.15"/><circle cx="75.2" cy="240.1" r="2.15"/><circle cx="85.5" cy="259.6" r="2.15"/><circle cx="81.8" cy="275.6" r="2.15"/><circle cx="77.8" cy="234.0" r="2.15"/><circle cx="81.8" cy="238.0" r="2.15"/><circle cx="74.4" cy="308.2" r="2.15"/><circle cx="75.7" cy="308.2" r="2.15"/><circle cx="81.5" cy="308.2" r="2.15"/><circle cx="80.6" cy="308.2" r="2.15"/><circle cx="82.8" cy="308.2" r="2.15"/><circle cx="85.0" cy="308.2" r="2.15"/></g>
<line x1="79.80" y1="236.60" x2="79.80" y2="262.20" stroke="#262626" stroke-width="1.0" />
<line x1="79.80" y1="281.30" x2="79.80" y2="304.60" stroke="#262626" stroke-width="1.0" />
<rect x="73.00" y="262.20" width="13.60" height="19.10" fill="none" stroke="#262626" stroke-width="1.0" />
<line x1="73.00" y1="272.40" x2="86.60" y2="272.40" stroke="#262626" stroke-width="1.3" />
<rect x="90.45" y="252.20" width="14.10" height="19.10" fill="#e3f1df" fill-opacity="0.9" />
<g fill="#9fd49a" fill-opacity="0.78"><circle cx="102.6" cy="254.7" r="2.15"/><circle cx="92.6" cy="252.4" r="2.15"/><circle cx="97.1" cy="251.0" r="2.15"/><circle cx="94.3" cy="246.9" r="2.15"/><circle cx="98.1" cy="252.4" r="2.15"/><circle cx="98.4" cy="247.4" r="2.15"/><circle cx="91.3" cy="279.4" r="2.15"/><circle cx="93.9" cy="259.1" r="2.15"/><circle cx="94.7" cy="246.9" r="2.15"/><circle cx="102.8" cy="254.2" r="2.15"/><circle cx="94.5" cy="244.0" r="2.15"/><circle cx="98.5" cy="246.0" r="2.15"/><circle cx="99.5" cy="282.0" r="2.15"/><circle cx="100.9" cy="308.2" r="2.15"/></g>
<line x1="97.50" y1="245.30" x2="97.50" y2="252.20" stroke="#262626" stroke-width="1.0" />
<line x1="97.50" y1="271.30" x2="97.50" y2="280.50" stroke="#262626" stroke-width="1.0" />
<rect x="90.45" y="252.20" width="14.10" height="19.10" fill="none" stroke="#262626" stroke-width="1.0" />
<line x1="90.45" y1="257.20" x2="104.55" y2="257.20" stroke="#262626" stroke-width="1.3" />
<line x1="61.30" y1="218.90" x2="100.00" y2="218.90" stroke="#6a6a6a" stroke-width="0.9" />
<text x="80.7" y="220.5" font-size="9" text-anchor="middle" >**</text>
<line x1="61.30" y1="223.50" x2="80.50" y2="223.50" stroke="#6a6a6a" stroke-width="0.9" />
<text x="70.9" y="225.1" font-size="9" text-anchor="middle" >**</text>
<text x="79.8" y="335.2" font-size="9.5" textLength="38.5" lengthAdjust="spacingAndGlyphs" text-anchor="middle" >Smoking</text>
<text x="10.6" y="263.9" font-size="9.5" textLength="50.2" lengthAdjust="spacingAndGlyphs" text-anchor="middle" transform="rotate(-90 10.6 263.9)" >Proportion</text>
<text x="22.2" y="264.4" font-size="9.5" textLength="54.4" lengthAdjust="spacingAndGlyphs" text-anchor="middle" transform="rotate(-90 22.2 264.4)" >(log. scale)</text>
<line x1="142.50" y1="219.10" x2="142.50" y2="309.75" stroke="#7f7f7f" stroke-width="0.9" />
<line x1="142.05" y1="309.30" x2="198.80" y2="309.30" stroke="#7f7f7f" stroke-width="0.9" />
<line x1="140.00" y1="235.30" x2="142.50" y2="235.30" stroke="#7f7f7f" stroke-width="0.8" />
<text x="136.0" y="238.2" font-size="8.4" text-anchor="end" >25.0</text>
<line x1="140.00" y1="262.70" x2="142.50" y2="262.70" stroke="#7f7f7f" stroke-width="0.8" />
<text x="136.0" y="265.6" font-size="8.4" text-anchor="end" >3.1</text>
<line x1="140.00" y1="290.50" x2="142.50" y2="290.50" stroke="#7f7f7f" stroke-width="0.8" />
<text x="136.0" y="293.4" font-size="8.4" text-anchor="end" >0.4</text>
<line x1="150.50" y1="309.30" x2="150.50" y2="311.80" stroke="#7f7f7f" stroke-width="0.8" />
<text x="150.5" y="320.3" font-size="8.0" text-anchor="middle" >O</text>
<line x1="163.90" y1="309.30" x2="163.90" y2="311.80" stroke="#7f7f7f" stroke-width="0.8" />
<text x="163.9" y="320.3" font-size="8.0" text-anchor="middle" >I,II</text>
<line x1="177.50" y1="309.30" x2="177.50" y2="311.80" stroke="#7f7f7f" stroke-width="0.8" />
<text x="177.5" y="320.3" font-size="8.0" text-anchor="middle" >III</text>
<line x1="191.00" y1="309.30" x2="191.00" y2="311.80" stroke="#7f7f7f" stroke-width="0.8" />
<text x="191.0" y="320.3" font-size="8.0" text-anchor="middle" >IV</text>
<rect x="145.25" y="270.50" width="10.50" height="21.10" fill="#cfe9ca" fill-opacity="0.55" />
<g fill="#9fd49a" fill-opacity="0.78"><circle cx="153.8" cy="265.6" r="2.15"/><circle cx="148.9" cy="262.4" r="2.15"/><circle cx="146.7" cy="282.0" r="2.15"/><circle cx="153.3" cy="291.1" r="2.15"/><circle cx="153.4" cy="302.1" r="2.15"/><circle cx="150.0" cy="274.3" r="2.15"/><circle cx="146.7" cy="282.6" r="2.15"/><circle cx="147.6" cy="269.4" r="2.15"/><circle cx="151.8" cy="286.6" r="2.15"/><circle cx="148.5" cy="268.2" r="2.15"/><circle cx="154.8" cy="290.7" r="2.15"/><circle cx="151.3" cy="264.6" r="2.15"/><circle cx="147.7" cy="271.4" r="2.15"/><circle cx="152.0" cy="284.9" r="2.15"/><circle cx="149.2" cy="279.7" r="2.15"/><circle cx="154.6" cy="273.5" r="2.15"/><circle cx="154.4" cy="294.0" r="2.15"/><circle cx="150.6" cy="279.1" r="2.15"/><circle cx="151.9" cy="264.3" r="2.15"/><circle cx="152.4" cy="291.0" r="2.15"/><circle cx="153.4" cy="264.5" r="2.15"/><circle cx="155.0" cy="273.3" r="2.15"/><circle cx="147.5" cy="222.5" r="2.15"/><circle cx="151.5" cy="237.0" r="2.15"/><circle cx="146.0" cy="308.7" r="2.15"/></g>
<line x1="150.50" y1="242.20" x2="150.50" y2="270.50" stroke="#262626" stroke-width="1.0" />
<line x1="150.50" y1="291.60" x2="150.50" y2="302.10" stroke="#262626" stroke-width="1.0" />
<rect x="145.25" y="270.50" width="10.50" height="21.10" fill="none" stroke="#262626" stroke-width="1.0" />
<line x1="145.25" y1="281.40" x2="155.75" y2="281.40" stroke="#262626" stroke-width="1.3" />
<rect x="158.50" y="268.30" width="10.40" height="18.10" fill="#cfe9ca" fill-opacity="0.55" />
<g fill="#9fd49a" fill-opacity="0.78"><circle cx="160.4" cy="284.3" r="2.15"/><circle cx="160.1" cy="292.0" r="2.15"/><circle cx="161.9" cy="272.7" r="2.15"/><circle cx="166.7" cy="296.4" r="2.15"/><circle cx="160.7" cy="277.8" r="2.15"/><circle cx="164.5" cy="283.2" r="2.15"/><circle cx="165.0" cy="297.2" r="2.15"/><circle cx="162.5" cy="279.1" r="2.15"/><circle cx="164.1" cy="298.4" r="2.15"/><circle cx="159.6" cy="281.3" r="2.15"/><circle cx="159.6" cy="296.6" r="2.15"/><circle cx="160.9" cy="295.4" r="2.15"/><circle cx="165.4" cy="281.5" r="2.15"/><circle cx="163.0" cy="261.5" r="2.15"/><circle cx="162.0" cy="293.5" r="2.15"/><circle cx="164.5" cy="287.9" r="2.15"/><circle cx="163.3" cy="273.7" r="2.15"/><circle cx="161.8" cy="250.7" r="2.15"/><circle cx="166.5" cy="276.0" r="2.15"/><circle cx="165.6" cy="282.3" r="2.15"/><circle cx="161.3" cy="248.2" r="2.15"/><circle cx="164.4" cy="297.9" r="2.15"/><circle cx="163.9" cy="258.7" r="2.15"/><circle cx="167.2" cy="285.3" r="2.15"/><circle cx="165.8" cy="308.7" r="2.15"/><circle cx="161.7" cy="308.7" r="2.15"/><circle cx="168.2" cy="308.7" r="2.15"/></g>
<line x1="163.70" y1="246.10" x2="163.70" y2="268.30" stroke="#262626" stroke-width="1.0" />
<line x1="163.70" y1="286.40" x2="163.70" y2="300.50" stroke="#262626" stroke-width="1.0" />
<rect x="158.50" y="268.30" width="10.40" height="18.10" fill="none" stroke="#262626" stroke-width="1.0" />
<line x1="158.50" y1="279.40" x2="168.90" y2="279.40" stroke="#262626" stroke-width="1.3" />
<rect x="172.35" y="263.30" width="10.30" height="15.30" fill="#cfe9ca" fill-opacity="0.55" />
<g fill="#9fd49a" fill-opacity="0.78"><circle cx="176.4" cy="279.8" r="2.15"/><circle cx="173.9" cy="249.6" r="2.15"/><circle cx="175.3" cy="285.0" r="2.15"/><circle cx="182.1" cy="265.1" r="2.15"/><circle cx="173.4" cy="287.2" r="2.15"/><circle cx="178.6" cy="278.7" r="2.15"/><circle cx="176.4" cy="247.3" r="2.15"/><circle cx="179.0" cy="280.7" r="2.15"/><circle cx="176.0" cy="267.7" r="2.15"/><circle cx="179.3" cy="274.3" r="2.15"/><circle cx="177.5" cy="274.5" r="2.15"/><circle cx="178.9" cy="273.6" r="2.15"/><circle cx="181.2" cy="281.6" r="2.15"/><circle cx="178.3" cy="258.1" r="2.15"/><circle cx="174.2" cy="286.9" r="2.15"/><circle cx="173.5" cy="279.4" r="2.15"/><circle cx="181.6" cy="290.6" r="2.15"/><circle cx="177.4" cy="278.3" r="2.15"/><circle cx="174.7" cy="275.4" r="2.15"/><circle cx="181.6" cy="253.5" r="2.15"/><circle cx="178.2" cy="308.7" r="2.15"/><circle cx="179.6" cy="308.7" r="2.15"/></g>
<line x1="177.50" y1="247.20" x2="177.50" y2="263.30" stroke="#262626" stroke-width="1.0" />
<line x1="177.50" y1="278.60" x2="177.50" y2="291.60" stroke="#262626" stroke-width="1.0" />
<rect x="172.35" y="263.30" width="10.30" height="15.30" fill="none" stroke="#262626" stroke-width="1.0" />
<line x1="172.35" y1="273.50" x2="182.65" y2="273.50" stroke="#262626" stroke-width="1.3" />
<rect x="185.65" y="261.40" width="10.30" height="15.70" fill="#cfe9ca" fill-opacity="0.55" />
<g fill="#9fd49a" fill-opacity="0.78"><circle cx="186.4" cy="270.0" r="2.15"/><circle cx="190.1" cy="273.0" r="2.15"/><circle cx="194.6" cy="285.8" r="2.15"/><circle cx="187.2" cy="252.7" r="2.15"/><circle cx="191.7" cy="296.1" r="2.15"/><circle cx="187.3" cy="268.7" r="2.15"/><circle cx="191.5" cy="250.3" r="2.15"/><circle cx="194.5" cy="290.3" r="2.15"/><circle cx="188.0" cy="267.2" r="2.15"/><circle cx="186.2" cy="265.3" r="2.15"/><circle cx="186.9" cy="293.4" r="2.15"/><circle cx="191.2" cy="272.8" r="2.15"/><circle cx="186.3" cy="262.8" r="2.15"/><circle cx="187.0" cy="270.4" r="2.15"/><circle cx="190.8" cy="262.1" r="2.15"/><circle cx="194.7" cy="284.3" r="2.15"/><circle cx="190.1" cy="278.0" r="2.15"/><circle cx="189.9" cy="287.9" r="2.15"/><circle cx="192.1" cy="268.6" r="2.15"/><circle cx="187.0" cy="248.4" r="2.15"/><circle cx="191.5" cy="266.1" r="2.15"/><circle cx="187.8" cy="259.6" r="2.15"/><circle cx="191.8" cy="272.7" r="2.15"/><circle cx="195.0" cy="261.5" r="2.15"/><circle cx="186.7" cy="288.7" r="2.15"/><circle cx="191.3" cy="275.7" r="2.15"/><circle cx="191.8" cy="263.6" r="2.15"/><circle cx="187.5" cy="262.1" r="2.15"/><circle cx="188.7" cy="271.4" r="2.15"/><circle cx="195.4" cy="289.8" r="2.15"/><circle cx="195.4" cy="276.5" r="2.15"/><circle cx="187.3" cy="280.2" r="2.15"/><circle cx="192.7" cy="276.1" r="2.15"/><circle cx="195.0" cy="256.9" r="2.15"/><circle cx="188.4" cy="281.0" r="2.15"/><circle cx="191.8" cy="251.2" r="2.15"/><circle cx="186.6" cy="251.7" r="2.15"/><circle cx="189.6" cy="292.3" r="2.15"/><circle cx="192.4" cy="272.8" r="2.15"/><circle cx="191.6" cy="269.1" r="2.15"/><circle cx="192.8" cy="305.0" r="2.15"/><circle cx="193.3" cy="308.7" r="2.15"/><circle cx="187.0" cy="308.7" r="2.15"/></g>
<line x1="190.80" y1="242.70" x2="190.80" y2="261.40" stroke="#262626" stroke-width="1.0" />
<line x1="190.80" y1="277.10" x2="190.80" y2="296.60" stroke="#262626" stroke-width="1.0" />
<rect x="185.65" y="261.40" width="10.30" height="15.70" fill="none" stroke="#262626" stroke-width="1.0" />
<line x1="185.65" y1="268.80" x2="195.95" y2="268.80" stroke="#262626" stroke-width="1.3" />
<line x1="149.20" y1="219.40" x2="191.00" y2="219.40" stroke="#6a6a6a" stroke-width="0.9" />
<text x="170.1" y="221.0" font-size="9" text-anchor="middle" >**</text>
<text x="170.6" y="335.2" font-size="9.5" textLength="26.2" lengthAdjust="spacingAndGlyphs" text-anchor="middle" >GOLD</text>
<line x1="241.90" y1="225.00" x2="241.90" y2="299.75" stroke="#9a9a9a" stroke-width="0.9" />
<line x1="241.45" y1="299.30" x2="298.80" y2="299.30" stroke="#9a9a9a" stroke-width="0.9" />
<line x1="239.40" y1="229.10" x2="241.90" y2="229.10" stroke="#9a9a9a" stroke-width="0.8" />
<text x="235.4" y="231.9" font-size="8.4" text-anchor="end" >3.12</text>
<line x1="239.40" y1="246.40" x2="241.90" y2="246.40" stroke="#9a9a9a" stroke-width="0.8" />
<text x="235.4" y="249.2" font-size="8.4" text-anchor="end" >0.78</text>
<line x1="239.40" y1="264.40" x2="241.90" y2="264.40" stroke="#9a9a9a" stroke-width="0.8" />
<text x="235.4" y="267.2" font-size="8.4" text-anchor="end" >0.20</text>
<line x1="239.40" y1="281.60" x2="241.90" y2="281.60" stroke="#9a9a9a" stroke-width="0.8" />
<text x="235.4" y="284.5" font-size="8.4" text-anchor="end" >0.05</text>
<line x1="250.00" y1="299.30" x2="250.00" y2="301.80" stroke="#9a9a9a" stroke-width="0.8" />
<text x="253.6" y="308.0" font-size="8.0" text-anchor="end" transform="rotate(-45 253.6 308.0)" >None</text>
<line x1="263.50" y1="299.30" x2="263.50" y2="301.80" stroke="#9a9a9a" stroke-width="0.8" />
<text x="267.1" y="308.0" font-size="8.0" text-anchor="end" transform="rotate(-45 267.1 308.0)" >&lt;50%</text>
<line x1="277.10" y1="299.30" x2="277.10" y2="301.80" stroke="#9a9a9a" stroke-width="0.8" />
<text x="280.7" y="308.0" font-size="8.0" text-anchor="end" transform="rotate(-45 280.7 308.0)" >50–75%</text>
<line x1="290.50" y1="299.30" x2="290.50" y2="301.80" stroke="#9a9a9a" stroke-width="0.8" />
<text x="294.1" y="308.0" font-size="8.0" text-anchor="end" transform="rotate(-45 294.1 308.0)" >&gt;75%</text>
<rect x="245.20" y="265.30" width="10.00" height="21.80" fill="#e3f1df" fill-opacity="0.9" />
<g fill="#9fd49a" fill-opacity="0.78"><circle cx="254.2" cy="270.2" r="2.15"/><circle cx="248.4" cy="276.4" r="2.15"/><circle cx="249.0" cy="270.0" r="2.15"/><circle cx="253.8" cy="288.6" r="2.15"/><circle cx="248.5" cy="258.5" r="2.15"/><circle cx="250.6" cy="257.4" r="2.15"/><circle cx="249.6" cy="268.0" r="2.15"/><circle cx="246.3" cy="290.1" r="2.15"/><circle cx="251.0" cy="271.6" r="2.15"/><circle cx="253.3" cy="282.5" r="2.15"/><circle cx="247.1" cy="287.1" r="2.15"/><circle cx="247.7" cy="243.6" r="2.15"/><circle cx="249.4" cy="239.0" r="2.15"/><circle cx="246.0" cy="294.0" r="2.15"/><circle cx="250.2" cy="253.5" r="2.15"/><circle cx="253.1" cy="269.4" r="2.15"/><circle cx="251.6" cy="279.3" r="2.15"/><circle cx="250.5" cy="285.1" r="2.15"/><circle cx="253.4" cy="267.4" r="2.15"/><circle cx="247.0" cy="274.8" r="2.15"/><circle cx="250.8" cy="267.1" r="2.15"/><circle cx="249.1" cy="267.7" r="2.15"/><circle cx="251.1" cy="291.0" r="2.15"/><circle cx="246.7" cy="263.4" r="2.15"/><circle cx="252.7" cy="240.5" r="2.15"/><circle cx="246.6" cy="241.9" r="2.15"/><circle cx="247.2" cy="269.1" r="2.15"/><circle cx="253.0" cy="294.0" r="2.15"/><circle cx="254.2" cy="295.4" r="2.15"/><circle cx="249.6" cy="291.0" r="2.15"/><circle cx="252.2" cy="231.5" r="2.15"/><circle cx="249.4" cy="298.7" r="2.15"/><circle cx="247.9" cy="298.7" r="2.15"/><circle cx="248.2" cy="298.7" r="2.15"/></g>
<line x1="250.20" y1="238.60" x2="250.20" y2="265.30" stroke="#262626" stroke-width="1.0" />
<line x1="250.20" y1="287.10" x2="250.20" y2="295.50" stroke="#262626" stroke-width="1.0" />
<rect x="245.20" y="265.30" width="10.00" height="21.80" fill="none" stroke="#262626" stroke-width="1.0" />
<line x1="245.20" y1="272.20" x2="255.20" y2="272.20" stroke="#262626" stroke-width="1.3" />
<rect x="258.30" y="251.30" width="10.40" height="24.20" fill="#cfe9ca" fill-opacity="0.55" />
<g fill="#9fd49a" fill-opacity="0.78"><circle cx="262.9" cy="269.3" r="2.15"/><circle cx="266.7" cy="263.9" r="2.15"/><circle cx="263.7" cy="235.3" r="2.15"/><circle cx="264.8" cy="268.9" r="2.15"/><circle cx="263.5" cy="267.4" r="2.15"/><circle cx="265.0" cy="262.1" r="2.15"/><circle cx="263.1" cy="279.7" r="2.15"/><circle cx="261.4" cy="267.1" r="2.15"/><circle cx="268.2" cy="259.3" r="2.15"/><circle cx="268.1" cy="247.3" r="2.15"/><circle cx="266.7" cy="285.5" r="2.15"/><circle cx="265.4" cy="273.9" r="2.15"/><circle cx="261.8" cy="285.8" r="2.15"/><circle cx="261.0" cy="245.8" r="2.15"/><circle cx="261.5" cy="255.1" r="2.15"/><circle cx="259.5" cy="288.9" r="2.15"/><circle cx="266.0" cy="229.9" r="2.15"/><circle cx="262.6" cy="231.5" r="2.15"/><circle cx="266.7" cy="257.7" r="2.15"/><circle cx="262.4" cy="260.2" r="2.15"/><circle cx="267.8" cy="281.5" r="2.15"/><circle cx="266.8" cy="290.6" r="2.15"/><circle cx="258.8" cy="266.0" r="2.15"/><circle cx="260.8" cy="287.8" r="2.15"/><circle cx="267.3" cy="279.4" r="2.15"/><circle cx="263.2" cy="276.0" r="2.15"/><circle cx="268.0" cy="289.7" r="2.15"/><circle cx="262.5" cy="269.0" r="2.15"/><circle cx="259.5" cy="298.7" r="2.15"/><circle cx="264.7" cy="298.7" r="2.15"/></g>
<line x1="263.50" y1="228.30" x2="263.50" y2="251.30" stroke="#262626" stroke-width="1.0" />
<line x1="263.50" y1="275.50" x2="263.50" y2="291.60" stroke="#262626" stroke-width="1.0" />
<rect x="258.30" y="251.30" width="10.40" height="24.20" fill="none" stroke="#262626" stroke-width="1.0" />
<line x1="258.30" y1="267.90" x2="268.70" y2="267.90" stroke="#262626" stroke-width="1.3" />
<rect x="272.10" y="257.40" width="10.30" height="19.70" fill="#cfe9ca" fill-opacity="0.55" />
<g fill="#9fd49a" fill-opacity="0.78"><circle cx="273.7" cy="266.4" r="2.15"/><circle cx="276.5" cy="260.3" r="2.15"/><circle cx="273.9" cy="260.0" r="2.15"/><circle cx="275.5" cy="284.1" r="2.15"/><circle cx="278.4" cy="292.8" r="2.15"/><circle cx="274.1" cy="271.2" r="2.15"/><circle cx="279.1" cy="276.0" r="2.15"/><circle cx="273.1" cy="250.6" r="2.15"/><circle cx="274.2" cy="259.3" r="2.15"/><circle cx="280.2" cy="262.0" r="2.15"/><circle cx="276.3" cy="263.4" r="2.15"/><circle cx="276.5" cy="260.2" r="2.15"/><circle cx="278.1" cy="284.0" r="2.15"/><circle cx="277.0" cy="268.1" r="2.15"/><circle cx="276.2" cy="282.9" r="2.15"/><circle cx="272.9" cy="239.7" r="2.15"/><circle cx="279.3" cy="289.6" r="2.15"/><circle cx="281.6" cy="249.6" r="2.15"/><circle cx="281.7" cy="288.6" r="2.15"/><circle cx="278.8" cy="259.4" r="2.15"/><circle cx="275.9" cy="273.0" r="2.15"/><circle cx="276.0" cy="269.7" r="2.15"/><circle cx="279.0" cy="246.9" r="2.15"/><circle cx="278.9" cy="292.3" r="2.15"/><circle cx="273.7" cy="289.5" r="2.15"/><circle cx="274.8" cy="238.7" r="2.15"/><circle cx="276.0" cy="264.9" r="2.15"/><circle cx="277.4" cy="287.5" r="2.15"/><circle cx="280.1" cy="230.6" r="2.15"/><circle cx="277.3" cy="235.1" r="2.15"/><circle cx="272.9" cy="298.7" r="2.15"/><circle cx="280.2" cy="298.7" r="2.15"/></g>
<line x1="277.25" y1="229.10" x2="277.25" y2="257.40" stroke="#262626" stroke-width="1.0" />
<line x1="277.25" y1="277.10" x2="277.25" y2="293.50" stroke="#262626" stroke-width="1.0" />
<rect x="272.10" y="257.40" width="10.30" height="19.70" fill="none" stroke="#262626" stroke-width="1.0" />
<line x1="272.10" y1="265.20" x2="282.40" y2="265.20" stroke="#262626" stroke-width="1.3" />
<rect x="285.40" y="259.60" width="10.30" height="18.70" fill="#cfe9ca" fill-opacity="0.55" />
<g fill="#9fd49a" fill-opacity="0.78"><circle cx="288.8" cy="277.9" r="2.15"/><circle cx="287.0" cy="261.7" r="2.15"/><circle cx="293.5" cy="261.8" r="2.15"/><circle cx="293.3" cy="248.7" r="2.15"/><circle cx="295.1" cy="282.8" r="2.15"/><circle cx="292.3" cy="279.7" r="2.15"/><circle cx="291.1" cy="285.5" r="2.15"/><circle cx="292.9" cy="280.0" r="2.15"/><circle cx="287.2" cy="260.1" r="2.15"/><circle cx="292.2" cy="286.6" r="2.15"/><circle cx="290.0" cy="266.9" r="2.15"/><circle cx="287.6" cy="280.8" r="2.15"/><circle cx="287.8" cy="276.4" r="2.15"/><circle cx="290.8" cy="270.7" r="2.15"/><circle cx="288.3" cy="250.0" r="2.15"/><circle cx="290.2" cy="264.3" r="2.15"/><circle cx="291.5" cy="294.7" r="2.15"/><circle cx="289.6" cy="277.2" r="2.15"/><circle cx="287.1" cy="285.5" r="2.15"/><circle cx="290.5" cy="246.3" r="2.15"/><circle cx="288.1" cy="253.1" r="2.15"/><circle cx="288.1" cy="253.5" r="2.15"/><circle cx="287.7" cy="251.2" r="2.15"/><circle cx="289.3" cy="259.8" r="2.15"/><circle cx="286.6" cy="237.8" r="2.15"/><circle cx="292.0" cy="254.8" r="2.15"/><circle cx="294.8" cy="278.0" r="2.15"/><circle cx="289.5" cy="248.6" r="2.15"/><circle cx="292.6" cy="268.4" r="2.15"/><circle cx="294.6" cy="259.1" r="2.15"/><circle cx="286.3" cy="265.8" r="2.15"/><circle cx="287.2" cy="270.8" r="2.15"/><circle cx="293.4" cy="273.5" r="2.15"/><circle cx="293.7" cy="270.8" r="2.15"/><circle cx="291.8" cy="298.7" r="2.15"/><circle cx="287.4" cy="298.7" r="2.15"/><circle cx="289.7" cy="298.7" r="2.15"/></g>
<line x1="290.55" y1="232.20" x2="290.55" y2="259.60" stroke="#262626" stroke-width="1.0" />
<line x1="290.55" y1="278.30" x2="290.55" y2="295.70" stroke="#262626" stroke-width="1.0" />
<rect x="285.40" y="259.60" width="10.30" height="18.70" fill="none" stroke="#262626" stroke-width="1.0" />
<line x1="285.40" y1="267.90" x2="295.70" y2="267.90" stroke="#262626" stroke-width="1.3" />
<line x1="248.50" y1="219.40" x2="290.70" y2="219.40" stroke="#6a6a6a" stroke-width="0.9" />
<text x="269.6" y="221.0" font-size="9" text-anchor="middle" >*</text>
<line x1="248.50" y1="224.20" x2="276.80" y2="224.20" stroke="#6a6a6a" stroke-width="0.9" />
<text x="262.6" y="225.8" font-size="9" text-anchor="middle" >**</text>
<text x="270.2" y="342.7" font-size="9.5" textLength="59.4" lengthAdjust="spacingAndGlyphs" text-anchor="middle" >Emphysema</text>
<text x="1.5" y="368.3" font-size="14.5" font-weight="bold" fill="#000" >d</text>
<line x1="54.80" y1="392.40" x2="54.80" y2="541.30" stroke="#ececec" stroke-width="0.6" />
<line x1="67.30" y1="392.40" x2="67.30" y2="541.30" stroke="#ececec" stroke-width="0.6" />
<line x1="79.80" y1="392.40" x2="79.80" y2="541.30" stroke="#ececec" stroke-width="0.6" />
<line x1="92.30" y1="392.40" x2="92.30" y2="541.30" stroke="#ececec" stroke-width="0.6" />
<line x1="117.30" y1="392.40" x2="117.30" y2="541.30" stroke="#ececec" stroke-width="0.6" />
<line x1="130.30" y1="392.40" x2="130.30" y2="541.30" stroke="#ececec" stroke-width="0.6" />
<line x1="142.90" y1="392.40" x2="142.90" y2="541.30" stroke="#ececec" stroke-width="0.6" />
<line x1="155.60" y1="392.40" x2="155.60" y2="541.30" stroke="#ececec" stroke-width="0.6" />
<line x1="48.90" y1="402.60" x2="160.20" y2="402.60" stroke="#ececec" stroke-width="0.6" />
<text x="45.5" y="405.6" font-size="8.4" text-anchor="end" >Symptoms</text>
<line x1="48.90" y1="418.80" x2="160.20" y2="418.80" stroke="#ececec" stroke-width="0.6" />
<text x="45.5" y="421.8" font-size="8.4" text-anchor="end" >Pack-years</text>
<line x1="48.90" y1="435.00" x2="160.20" y2="435.00" stroke="#ececec" stroke-width="0.6" />
<text x="45.5" y="438.0" font-size="8.4" text-anchor="end" >Lobe emph.</text>
<line x1="48.90" y1="451.20" x2="160.20" y2="451.20" stroke="#ececec" stroke-width="0.6" />
<text x="45.5" y="454.2" font-size="8.4" text-anchor="end">FEV<tspan font-size="5.2" dy="1.8">1</tspan><tspan dy="-1.8">/FVC</tspan></text>
<line x1="48.90" y1="467.40" x2="160.20" y2="467.40" stroke="#ececec" stroke-width="0.6" />
<text x="45.5" y="470.4" font-size="8.4" text-anchor="end">FEV<tspan font-size="5.2" dy="1.8">1</tspan></text>
<line x1="48.90" y1="483.60" x2="160.20" y2="483.60" stroke="#ececec" stroke-width="0.6" />
<text x="45.5" y="486.6" font-size="8.4" text-anchor="end" >Exacerb.</text>
<line x1="48.90" y1="499.80" x2="160.20" y2="499.80" stroke="#ececec" stroke-width="0.6" />
<text x="45.5" y="502.8" font-size="8.4" text-anchor="end" >Dyspnea</text>
<line x1="48.90" y1="516.00" x2="160.20" y2="516.00" stroke="#ececec" stroke-width="0.6" />
<text x="45.5" y="519.0" font-size="8.4" text-anchor="end" >DLCO</text>
<line x1="48.90" y1="532.20" x2="160.20" y2="532.20" stroke="#ececec" stroke-width="0.6" />
<text x="45.5" y="535.2" font-size="8.4" text-anchor="end" >Cough</text>
<line x1="104.70" y1="392.40" x2="104.70" y2="541.30" stroke="#6a6a6a" stroke-width="0.9" />
<circle cx="85.3" cy="399.2" r="4.15" fill="#ef7262" fill-opacity="0.9" />
<circle cx="128.4" cy="400.2" r="1.50" fill="#a9d9a2" fill-opacity="0.9" />
<circle cx="134.9" cy="399.8" r="1.65" fill="#fbaa35" fill-opacity="0.9" />
<circle cx="126.5" cy="421.0" r="1.50" fill="#ee5234" fill-opacity="0.9" />
<circle cx="130.6" cy="422.0" r="1.50" fill="#ee5234" fill-opacity="0.9" />
<circle cx="135.2" cy="419.2" r="2.75" fill="#8e8e8e" fill-opacity="0.9" />
<circle cx="82.9" cy="433.4" r="1.75" fill="#f7a668" fill-opacity="0.9" />
<circle cx="80.7" cy="436.4" r="4.00" fill="#ef7262" fill-opacity="0.9" />
<circle cx="115.8" cy="434.9" r="4.00" fill="#8e8e8e" fill-opacity="0.9" />
<circle cx="124.1" cy="432.2" r="2.75" fill="#8e2a20" fill-opacity="0.9" />
<circle cx="65.5" cy="450.1" r="4.00" fill="#fbaa35" fill-opacity="0.9" />
<circle cx="78.5" cy="449.3" r="1.50" fill="#2f8e8e" fill-opacity="0.9" />
<circle cx="84.7" cy="449.3" r="2.75" fill="#a9d9a2" fill-opacity="0.9" />
<circle cx="121.4" cy="449.3" r="1.50" fill="#ee5234" fill-opacity="0.9" />
<circle cx="119.5" cy="453.0" r="1.50" fill="#f7a668" fill-opacity="0.9" />
<circle cx="67.4" cy="469.7" r="4.00" fill="#fbaa35" fill-opacity="0.9" />
<circle cx="78.8" cy="470.1" r="2.75" fill="#a9d9a2" fill-opacity="0.9" />
<circle cx="81.6" cy="466.4" r="2.75" fill="#2f8e8e" fill-opacity="0.9" />
<circle cx="86.6" cy="468.8" r="1.65" fill="#3b9a47" fill-opacity="0.9" />
<circle cx="93.6" cy="465.8" r="1.50" fill="#8e8e8e" fill-opacity="0.9" />
<circle cx="122.3" cy="467.3" r="2.75" fill="#f7a668" fill-opacity="0.9" />
<circle cx="130.6" cy="470.4" r="1.50" fill="#dcc3e3" fill-opacity="0.9" />
<circle cx="128.4" cy="481.5" r="1.50" fill="#5b8fd8" fill-opacity="0.9" />
<circle cx="77.0" cy="501.9" r="1.50" fill="#dcc3e3" fill-opacity="0.9" />
<circle cx="90.9" cy="498.7" r="2.75" fill="#ef7262" fill-opacity="0.9" />
<circle cx="116.7" cy="498.7" r="2.75" fill="#8e8e8e" fill-opacity="0.9" />
<circle cx="120.8" cy="497.8" r="1.50" fill="#3b9a47" fill-opacity="0.9" />
<circle cx="127.8" cy="500.0" r="2.75" fill="#a9d9a2" fill-opacity="0.9" />
<circle cx="138.9" cy="498.7" r="2.75" fill="#fbaa35" fill-opacity="0.9" />
<circle cx="65.0" cy="517.2" r="4.00" fill="#fbaa35" fill-opacity="0.9" />
<circle cx="84.7" cy="513.0" r="2.75" fill="#a9d9a2" fill-opacity="0.9" />
<circle cx="125.1" cy="512.6" r="1.50" fill="#dcc3e3" fill-opacity="0.9" />
<circle cx="118.0" cy="519.0" r="2.75" fill="#ef7262" fill-opacity="0.9" />
<circle cx="92.1" cy="533.9" r="2.75" fill="#ef7262" fill-opacity="0.9" />
<text x="54.8" y="552.3" font-size="8" text-anchor="middle" >−0.50</text>
<text x="79.8" y="552.3" font-size="8" text-anchor="middle" >−0.25</text>
<text x="104.5" y="552.3" font-size="8" text-anchor="middle" >0</text>
<text x="130.3" y="552.3" font-size="8" text-anchor="middle" >0.25</text>
<text x="155.6" y="552.3" font-size="8" text-anchor="middle" >0.50</text>
<text x="104.7" y="565.4" font-size="9.5" textLength="49.2" lengthAdjust="spacingAndGlyphs" text-anchor="middle" >Correlation</text>
<text x="170.9" y="390.2" font-size="8" >Cell</text>
<circle cx="173.1" cy="399.5" r="2.15" fill="#5b8fd8" />
<text x="180.0" y="402.2" font-size="8" >AM<tspan font-size="5.20" dy="2.40">CSF</tspan></text>
<circle cx="173.1" cy="410.2" r="2.15" fill="#8e2a20" />
<text x="180.0" y="412.9" font-size="8" >AM<tspan font-size="5.20" dy="2.40">NR4A</tspan></text>
<circle cx="173.1" cy="420.9" r="2.15" fill="#ee5234" />
<text x="180.0" y="423.6" font-size="8" >CD8</text>
<circle cx="173.1" cy="431.7" r="2.15" fill="#2f8e8e" />
<text x="180.0" y="434.4" font-size="8" >Fibroblast<tspan font-size="5.20" dy="2.40">FRC</tspan></text>
<circle cx="173.1" cy="442.4" r="2.15" fill="#fbaa35" />
<text x="180.0" y="445.1" font-size="8" >Fibroblast<tspan font-size="5.20" dy="2.40">IR</tspan></text>
<circle cx="173.1" cy="453.1" r="2.15" fill="#3b9a47" />
<text x="180.0" y="455.8" font-size="8" >IM</text>
<circle cx="173.1" cy="463.8" r="2.15" fill="#a9d9a2" />
<text x="180.0" y="466.5" font-size="8" >IM<tspan font-size="5.20" dy="2.40">CHIT1</tspan></text>
<circle cx="173.1" cy="474.5" r="2.15" fill="#dcc3e3" />
<text x="180.0" y="477.2" font-size="8" >Mac<tspan font-size="5.20" dy="2.40">div</tspan></text>
<circle cx="173.1" cy="485.3" r="2.15" fill="#f7a668" />
<text x="180.0" y="488.0" font-size="8" >maDC</text>
<circle cx="173.1" cy="496.0" r="2.15" fill="#ef7262" />
<text x="180.0" y="498.7" font-size="8" >Mast</text>
<circle cx="173.0" cy="509.8" r="2.15" fill="#8e8e8e" />
<text x="180.0" y="512.5" font-size="8" >B/plasma</text>
<text x="171.7" y="532.2" font-size="8" >FDR</text>
<circle cx="173.4" cy="540.0" r="1.30" fill="#4a4a4a" />
<text x="181.9" y="542.8" font-size="8" >FDR &lt; 0.1</text>
<circle cx="173.4" cy="551.0" r="2.90" fill="#4a4a4a" />
<text x="181.9" y="553.8" font-size="8" >FDR &lt; 0.05</text>
<circle cx="173.4" cy="562.6" r="4.05" fill="#4a4a4a" />
<text x="181.9" y="565.4" font-size="8" >FDR &lt; 0.01</text>
<text x="248.6" y="368.6" font-size="14.5" font-weight="bold" fill="#000" >e</text>
<line x1="365.00" y1="361.00" x2="365.00" y2="559.00" stroke="#ededed" stroke-width="0.6" />
<line x1="374.60" y1="361.00" x2="374.60" y2="559.00" stroke="#ededed" stroke-width="0.6" />
<line x1="384.60" y1="361.00" x2="384.60" y2="559.00" stroke="#ededed" stroke-width="0.6" />
<line x1="394.60" y1="361.00" x2="394.60" y2="559.00" stroke="#ededed" stroke-width="0.6" />
<line x1="404.60" y1="361.00" x2="404.60" y2="559.00" stroke="#ededed" stroke-width="0.6" />
<line x1="414.60" y1="361.00" x2="414.60" y2="559.00" stroke="#ededed" stroke-width="0.6" />
<line x1="424.60" y1="361.00" x2="424.60" y2="559.00" stroke="#ededed" stroke-width="0.6" />
<line x1="434.60" y1="361.00" x2="434.60" y2="559.00" stroke="#ededed" stroke-width="0.6" />
<line x1="362.00" y1="365.40" x2="441.00" y2="365.40" stroke="#ededed" stroke-width="0.6" />
<text x="357.7" y="368.3" font-size="8.4" text-anchor="end" >TNF signaling via NF-κB</text>
<line x1="362.00" y1="374.91" x2="441.00" y2="374.91" stroke="#ededed" stroke-width="0.6" />
<text x="357.7" y="377.8" font-size="8.4" text-anchor="end" >Inflammatory response</text>
<line x1="362.00" y1="384.42" x2="441.00" y2="384.42" stroke="#ededed" stroke-width="0.6" />
<text x="357.7" y="387.3" font-size="8.4" text-anchor="end" >IFNγ response</text>
<line x1="362.00" y1="393.93" x2="441.00" y2="393.93" stroke="#ededed" stroke-width="0.6" />
<text x="357.7" y="396.8" font-size="8.4" text-anchor="end" >Cytokine signaling</text>
<line x1="362.00" y1="403.44" x2="441.00" y2="403.44" stroke="#ededed" stroke-width="0.6" />
<text x="357.7" y="406.3" font-size="8.4" text-anchor="end" >IL2 STAT5 signaling</text>
<line x1="362.00" y1="412.95" x2="441.00" y2="412.95" stroke="#ededed" stroke-width="0.6" />
<text x="357.7" y="415.8" font-size="8.4" text-anchor="end" >Signaling by interleukins</text>
<line x1="362.00" y1="422.46" x2="441.00" y2="422.46" stroke="#ededed" stroke-width="0.6" />
<text x="357.7" y="425.4" font-size="8.4" text-anchor="end" >Response to IL1</text>
<line x1="362.00" y1="431.97" x2="441.00" y2="431.97" stroke="#ededed" stroke-width="0.6" />
<text x="357.7" y="434.9" font-size="8.4" text-anchor="end" >Chemotaxis</text>
<line x1="362.00" y1="441.48" x2="441.00" y2="441.48" stroke="#ededed" stroke-width="0.6" />
<text x="357.7" y="444.4" font-size="8.4" text-anchor="end" >Cholesterol homeostasis</text>
<line x1="362.00" y1="450.99" x2="441.00" y2="450.99" stroke="#ededed" stroke-width="0.6" />
<text x="357.7" y="453.9" font-size="8.4" text-anchor="end" >IL10 signaling</text>
<line x1="362.00" y1="460.50" x2="441.00" y2="460.50" stroke="#ededed" stroke-width="0.6" />
<text x="357.7" y="463.4" font-size="8.4" text-anchor="end" >Vascul. develop.</text>
<line x1="362.00" y1="470.01" x2="441.00" y2="470.01" stroke="#ededed" stroke-width="0.6" />
<text x="357.7" y="472.9" font-size="8.4" text-anchor="end" >Cell–cell adhesion</text>
<line x1="362.00" y1="479.52" x2="441.00" y2="479.52" stroke="#ededed" stroke-width="0.6" />
<text x="357.7" y="482.4" font-size="8.4" text-anchor="end" >Cell recognition</text>
<line x1="362.00" y1="489.03" x2="441.00" y2="489.03" stroke="#ededed" stroke-width="0.6" />
<text x="357.7" y="491.9" font-size="8.4" text-anchor="end" >IL4/IL13 signaling</text>
<line x1="362.00" y1="498.54" x2="441.00" y2="498.54" stroke="#ededed" stroke-width="0.6" />
<text x="357.7" y="501.4" font-size="8.4" text-anchor="end" >IL6 JAK STAT3 signaling</text>
<line x1="362.00" y1="508.05" x2="441.00" y2="508.05" stroke="#ededed" stroke-width="0.6" />
<text x="357.7" y="510.9" font-size="8.4" text-anchor="end" >Cell-matrix adhesion</text>
<line x1="362.00" y1="517.56" x2="441.00" y2="517.56" stroke="#ededed" stroke-width="0.6" />
<text x="357.7" y="520.5" font-size="8.4" text-anchor="end" >ERK1/ERK2 cascade</text>
<line x1="362.00" y1="527.07" x2="441.00" y2="527.07" stroke="#ededed" stroke-width="0.6" />
<text x="357.7" y="530.0" font-size="8.4" text-anchor="end" >Cholesterol homeostasis</text>
<line x1="362.00" y1="536.58" x2="441.00" y2="536.58" stroke="#ededed" stroke-width="0.6" />
<text x="357.7" y="539.5" font-size="8.4" text-anchor="end" >ECM organization</text>
<line x1="362.00" y1="546.09" x2="441.00" y2="546.09" stroke="#ededed" stroke-width="0.6" />
<text x="357.7" y="549.0" font-size="8.4" text-anchor="end" >Wound healing</text>
<line x1="362.00" y1="555.60" x2="441.00" y2="555.60" stroke="#ededed" stroke-width="0.6" />
<text x="357.7" y="558.5" font-size="8.4" text-anchor="end" >Cell adhesion</text>
<circle cx="402.8" cy="365.4" r="2.20" fill="#6f9ddd" fill-opacity="0.88" />
<circle cx="417.9" cy="365.4" r="3.50" fill="#6a3f9c" fill-opacity="0.88" />
<circle cx="437.7" cy="365.4" r="3.50" fill="#a2382b" fill-opacity="0.88" />
<circle cx="404.3" cy="374.9" r="2.20" fill="#6f9ddd" fill-opacity="0.88" />
<circle cx="410.6" cy="374.9" r="3.25" fill="#6a3f9c" fill-opacity="0.88" />
<circle cx="370.6" cy="384.4" r="1.75" fill="#a2382b" fill-opacity="0.88" />
<circle cx="405.7" cy="384.4" r="3.00" fill="#6a3f9c" fill-opacity="0.88" />
<circle cx="376.6" cy="393.9" r="2.00" fill="#6f9ddd" fill-opacity="0.88" />
<circle cx="385.4" cy="393.9" r="2.20" fill="#a2382b" fill-opacity="0.88" />
<circle cx="402.1" cy="393.9" r="3.00" fill="#6a3f9c" fill-opacity="0.88" />
<circle cx="383.9" cy="403.4" r="2.20" fill="#6a3f9c" fill-opacity="0.88" />
<circle cx="388.8" cy="403.4" r="2.20" fill="#6f9ddd" fill-opacity="0.88" />
<circle cx="400.6" cy="403.4" r="2.40" fill="#a2382b" fill-opacity="0.88" />
<circle cx="380.1" cy="412.9" r="2.20" fill="#a2382b" fill-opacity="0.88" />
<circle cx="385.0" cy="412.9" r="2.20" fill="#6f9ddd" fill-opacity="0.88" />
<circle cx="399.0" cy="412.9" r="2.75" fill="#6a3f9c" fill-opacity="0.88" />
<circle cx="383.2" cy="422.5" r="1.90" fill="#6f9ddd" fill-opacity="0.88" />
<circle cx="393.2" cy="422.5" r="2.20" fill="#a2382b" fill-opacity="0.88" />
<circle cx="397.7" cy="422.5" r="2.50" fill="#6a3f9c" fill-opacity="0.88" />
<circle cx="374.6" cy="432.0" r="1.90" fill="#6f9ddd" fill-opacity="0.88" />
<circle cx="396.1" cy="432.0" r="2.20" fill="#6a3f9c" fill-opacity="0.88" />
<circle cx="394.6" cy="432.0" r="2.20" fill="#a2382b" fill-opacity="0.88" />
<circle cx="395.7" cy="441.5" r="2.40" fill="#a2382b" fill-opacity="0.88" />
<circle cx="395.2" cy="451.0" r="2.50" fill="#6a3f9c" fill-opacity="0.88" />
<circle cx="377.7" cy="460.5" r="2.00" fill="#6f9ddd" fill-opacity="0.88" />
<circle cx="384.6" cy="460.5" r="2.50" fill="#6a3f9c" fill-opacity="0.88" />
<circle cx="395.0" cy="460.5" r="2.50" fill="#a2382b" fill-opacity="0.88" />
<circle cx="387.7" cy="470.0" r="2.75" fill="#6f9ddd" fill-opacity="0.88" />
<circle cx="393.9" cy="470.0" r="2.50" fill="#a2382b" fill-opacity="0.88" />
<circle cx="376.1" cy="479.5" r="1.75" fill="#a2382b" fill-opacity="0.88" />
<circle cx="388.8" cy="479.5" r="2.00" fill="#6f9ddd" fill-opacity="0.88" />
<circle cx="393.2" cy="479.5" r="2.50" fill="#6a3f9c" fill-opacity="0.88" />
<circle cx="376.6" cy="489.0" r="1.75" fill="#6f9ddd" fill-opacity="0.88" />
<circle cx="379.0" cy="489.0" r="1.75" fill="#a2382b" fill-opacity="0.88" />
<circle cx="390.1" cy="489.0" r="2.20" fill="#6a3f9c" fill-opacity="0.88" />
<circle cx="373.7" cy="498.5" r="1.60" fill="#a2382b" fill-opacity="0.88" />
<circle cx="383.4" cy="498.5" r="2.00" fill="#6f9ddd" fill-opacity="0.88" />
<circle cx="389.0" cy="498.5" r="2.20" fill="#6a3f9c" fill-opacity="0.88" />
<circle cx="369.4" cy="508.0" r="1.50" fill="#a2382b" fill-opacity="0.88" />
<circle cx="375.9" cy="508.0" r="1.75" fill="#6a3f9c" fill-opacity="0.88" />
<circle cx="388.8" cy="508.0" r="2.00" fill="#6f9ddd" fill-opacity="0.88" />
<circle cx="388.8" cy="517.6" r="2.20" fill="#6a3f9c" fill-opacity="0.88" />
<circle cx="387.2" cy="517.6" r="2.20" fill="#a2382b" fill-opacity="0.88" />
<circle cx="372.8" cy="527.1" r="1.50" fill="#6a3f9c" fill-opacity="0.88" />
<circle cx="385.0" cy="527.1" r="2.00" fill="#6f9ddd" fill-opacity="0.88" />
<circle cx="365.7" cy="536.6" r="1.40" fill="#a2382b" fill-opacity="0.88" />
<circle cx="372.3" cy="536.6" r="1.60" fill="#6a3f9c" fill-opacity="0.88" />
<circle cx="391.7" cy="536.6" r="2.20" fill="#6f9ddd" fill-opacity="0.88" />
<circle cx="383.9" cy="546.1" r="2.20" fill="#6a3f9c" fill-opacity="0.88" />
<circle cx="392.1" cy="546.1" r="2.20" fill="#6f9ddd" fill-opacity="0.88" />
<circle cx="397.2" cy="546.1" r="2.50" fill="#a2382b" fill-opacity="0.88" />
<circle cx="388.3" cy="555.6" r="2.50" fill="#6a3f9c" fill-opacity="0.88" />
<circle cx="395.0" cy="555.6" r="2.75" fill="#a2382b" fill-opacity="0.88" />
<text x="374.6" y="568.8" font-size="8" text-anchor="middle" >2</text>
<text x="394.6" y="568.8" font-size="8" text-anchor="middle" >3</text>
<text x="414.6" y="568.8" font-size="8" text-anchor="middle" >4</text>
<text x="434.6" y="568.8" font-size="8" text-anchor="middle" >5</text>
<text x="401.7" y="581.8" font-size="9.2" textLength="17.3" lengthAdjust="spacingAndGlyphs" text-anchor="middle" >NES</text>
<text x="255.8" y="459.7" font-size="9.4" textLength="37.2" lengthAdjust="spacingAndGlyphs" text-anchor="middle" transform="rotate(-90 255.8 459.7)" >Pathway</text>
<text x="354.2" y="594" font-size="8" text-anchor="end">−log(<tspan font-style="italic">P</tspan> value)</text>
<circle cx="361.8" cy="591.4" r="2.90" fill="#5a5a5a" />
<text x="361.8" y="604.3" font-size="8" text-anchor="middle" >25</text>
<circle cx="374.4" cy="591.4" r="3.50" fill="#5a5a5a" />
<text x="374.4" y="604.3" font-size="8" text-anchor="middle" >50</text>
<circle cx="387.2" cy="591.4" r="3.60" fill="#5a5a5a" />
<text x="387.2" y="604.3" font-size="8" text-anchor="middle" >75</text>
<circle cx="402.1" cy="591.4" r="4.00" fill="#5a5a5a" />
<text x="402.1" y="604.3" font-size="8" text-anchor="middle" >100</text>
<circle cx="416.6" cy="591.4" r="4.40" fill="#5a5a5a" />
<text x="416.6" y="604.3" font-size="8" text-anchor="middle" >125</text>
<text x="352.9" y="617.8" font-size="8.8" text-anchor="end" >Cell</text>
<circle cx="360.4" cy="615.0" r="2.80" fill="#6f9ddd" fill-opacity="0.9" />
<text x="367.7" y="617.6" font-size="8" >AM<tspan font-size="5.20" dy="2.40">CSF</tspan></text>
<circle cx="396.9" cy="615.0" r="2.80" fill="#6a3f9c" fill-opacity="0.9" />
<text x="404.2" y="617.6" font-size="8" >AM<tspan font-size="5.20" dy="2.40">inflam</tspan></text>
<circle cx="439.2" cy="615.0" r="2.80" fill="#a2382b" fill-opacity="0.9" />
<text x="446.2" y="617.6" font-size="8" >AM<tspan font-size="5.20" dy="2.40">NR4A</tspan></text>
<text x="1.5" y="636.2" font-size="14.5" font-weight="bold" fill="#000" >f</text>
<text x="55.4" y="636.0" font-size="9.8" >AM<tspan font-size="7.06" dy="2.94">CSF</tspan></text>
<line x1="35.50" y1="646.00" x2="35.50" y2="736.85" stroke="#7f7f7f" stroke-width="0.9" />
<line x1="35.05" y1="736.40" x2="101.70" y2="736.40" stroke="#7f7f7f" stroke-width="0.9" />
<line x1="33.00" y1="650.40" x2="35.50" y2="650.40" stroke="#7f7f7f" stroke-width="0.8" />
<text x="29.0" y="653.2" font-size="8.4" text-anchor="end" >0.6</text>
<line x1="33.00" y1="677.80" x2="35.50" y2="677.80" stroke="#7f7f7f" stroke-width="0.8" />
<text x="29.0" y="680.6" font-size="8.4" text-anchor="end" >0.4</text>
<line x1="33.00" y1="705.40" x2="35.50" y2="705.40" stroke="#7f7f7f" stroke-width="0.8" />
<text x="29.0" y="708.2" font-size="8.4" text-anchor="end" >0.2</text>
<line x1="33.00" y1="732.30" x2="35.50" y2="732.30" stroke="#7f7f7f" stroke-width="0.8" />
<text x="29.0" y="735.1" font-size="8.4" text-anchor="end" >0</text>
<line x1="44.60" y1="736.40" x2="44.60" y2="738.90" stroke="#7f7f7f" stroke-width="0.8" />
<text x="44.6" y="747.9" font-size="8.0" text-anchor="middle" >0</text>
<line x1="60.70" y1="736.40" x2="60.70" y2="738.90" stroke="#7f7f7f" stroke-width="0.8" />
<text x="60.7" y="747.9" font-size="8.0" text-anchor="middle" >I,II</text>
<line x1="76.50" y1="736.40" x2="76.50" y2="738.90" stroke="#7f7f7f" stroke-width="0.8" />
<text x="76.5" y="747.9" font-size="8.0" text-anchor="middle" >III</text>
<line x1="92.40" y1="736.40" x2="92.40" y2="738.90" stroke="#7f7f7f" stroke-width="0.8" />
<text x="92.4" y="747.9" font-size="8.0" text-anchor="middle" >IV</text>
<rect x="38.60" y="702.40" width="12.00" height="16.10" fill="#c3d2ee" fill-opacity="0.85" />
<g fill="#4a86d0" fill-opacity="0.8"><circle cx="39.6" cy="722.8" r="2.15"/><circle cx="42.8" cy="704.0" r="2.15"/><circle cx="44.6" cy="705.5" r="2.15"/><circle cx="40.5" cy="710.0" r="2.15"/><circle cx="49.5" cy="720.2" r="2.15"/><circle cx="43.2" cy="701.6" r="2.15"/><circle cx="40.9" cy="701.4" r="2.15"/><circle cx="48.0" cy="708.9" r="2.15"/><circle cx="40.5" cy="709.1" r="2.15"/><circle cx="49.2" cy="719.2" r="2.15"/><circle cx="44.1" cy="730.8" r="2.15"/><circle cx="45.2" cy="714.0" r="2.15"/><circle cx="42.9" cy="706.9" r="2.15"/><circle cx="44.4" cy="727.5" r="2.15"/><circle cx="41.2" cy="701.6" r="2.15"/><circle cx="39.6" cy="719.4" r="2.15"/><circle cx="48.6" cy="719.4" r="2.15"/><circle cx="41.7" cy="728.9" r="2.15"/><circle cx="47.6" cy="698.0" r="2.15"/><circle cx="41.5" cy="702.7" r="2.15"/><circle cx="49.7" cy="700.2" r="2.15"/><circle cx="48.9" cy="706.0" r="2.15"/><circle cx="43.6" cy="677.0" r="2.15"/></g>
<line x1="44.60" y1="698.00" x2="44.60" y2="702.40" stroke="#262626" stroke-width="1.0" />
<line x1="44.60" y1="718.50" x2="44.60" y2="731.00" stroke="#262626" stroke-width="1.0" />
<rect x="38.60" y="702.40" width="12.00" height="16.10" fill="none" stroke="#262626" stroke-width="1.0" />
<line x1="38.60" y1="709.20" x2="50.60" y2="709.20" stroke="#262626" stroke-width="1.3" />
<rect x="54.70" y="696.20" width="12.00" height="23.20" fill="#c3d2ee" fill-opacity="0.85" />
<g fill="#4a86d0" fill-opacity="0.8"><circle cx="58.1" cy="673.0" r="2.15"/><circle cx="65.6" cy="723.0" r="2.15"/><circle cx="58.7" cy="726.8" r="2.15"/><circle cx="63.7" cy="668.5" r="2.15"/><circle cx="65.6" cy="721.6" r="2.15"/><circle cx="62.3" cy="723.6" r="2.15"/><circle cx="56.8" cy="699.4" r="2.15"/><circle cx="64.2" cy="713.7" r="2.15"/><circle cx="62.5" cy="680.6" r="2.15"/><circle cx="57.3" cy="720.0" r="2.15"/><circle cx="55.8" cy="672.8" r="2.15"/><circle cx="61.0" cy="715.2" r="2.15"/><circle cx="55.6" cy="701.1" r="2.15"/><circle cx="65.3" cy="675.9" r="2.15"/><circle cx="60.8" cy="698.3" r="2.15"/><circle cx="60.9" cy="676.8" r="2.15"/><circle cx="59.7" cy="697.6" r="2.15"/><circle cx="62.4" cy="726.0" r="2.15"/><circle cx="65.2" cy="681.5" r="2.15"/><circle cx="58.6" cy="701.5" r="2.15"/><circle cx="59.3" cy="715.8" r="2.15"/><circle cx="61.6" cy="721.4" r="2.15"/><circle cx="58.5" cy="685.1" r="2.15"/><circle cx="61.7" cy="701.7" r="2.15"/><circle cx="61.2" cy="675.2" r="2.15"/><circle cx="60.0" cy="693.5" r="2.15"/><circle cx="62.6" cy="672.6" r="2.15"/><circle cx="61.0" cy="702.2" r="2.15"/><circle cx="56.3" cy="697.9" r="2.15"/><circle cx="66.1" cy="700.7" r="2.15"/><circle cx="58.2" cy="665.0" r="2.15"/><circle cx="64.2" cy="671.0" r="2.15"/></g>
<line x1="60.70" y1="668.30" x2="60.70" y2="696.20" stroke="#262626" stroke-width="1.0" />
<line x1="60.70" y1="719.40" x2="60.70" y2="727.60" stroke="#262626" stroke-width="1.0" />
<rect x="54.70" y="696.20" width="12.00" height="23.20" fill="none" stroke="#262626" stroke-width="1.0" />
<line x1="54.70" y1="704.40" x2="66.70" y2="704.40" stroke="#262626" stroke-width="1.3" />
<rect x="70.50" y="695.30" width="12.00" height="22.70" fill="#c3d2ee" fill-opacity="0.85" />
<g fill="#4a86d0" fill-opacity="0.8"><circle cx="79.3" cy="682.3" r="2.15"/><circle cx="75.1" cy="680.5" r="2.15"/><circle cx="77.3" cy="684.7" r="2.15"/><circle cx="78.2" cy="726.7" r="2.15"/><circle cx="74.5" cy="706.0" r="2.15"/><circle cx="72.0" cy="714.0" r="2.15"/><circle cx="76.2" cy="710.3" r="2.15"/><circle cx="78.9" cy="724.2" r="2.15"/><circle cx="77.5" cy="721.0" r="2.15"/><circle cx="75.9" cy="713.6" r="2.15"/><circle cx="78.0" cy="719.5" r="2.15"/><circle cx="73.1" cy="713.3" r="2.15"/><circle cx="73.0" cy="729.7" r="2.15"/><circle cx="74.6" cy="726.5" r="2.15"/><circle cx="79.9" cy="698.0" r="2.15"/><circle cx="73.2" cy="714.1" r="2.15"/><circle cx="72.3" cy="711.4" r="2.15"/><circle cx="72.2" cy="696.4" r="2.15"/><circle cx="71.5" cy="715.5" r="2.15"/><circle cx="74.1" cy="728.0" r="2.15"/><circle cx="77.3" cy="692.8" r="2.15"/><circle cx="80.0" cy="706.2" r="2.15"/><circle cx="74.7" cy="701.6" r="2.15"/><circle cx="75.1" cy="704.1" r="2.15"/><circle cx="74.2" cy="678.9" r="2.15"/><circle cx="74.4" cy="715.4" r="2.15"/><circle cx="77.0" cy="654.0" r="2.15"/><circle cx="76.5" cy="657.0" r="2.15"/><circle cx="77.5" cy="676.0" r="2.15"/></g>
<line x1="76.50" y1="676.70" x2="76.50" y2="695.30" stroke="#262626" stroke-width="1.0" />
<line x1="76.50" y1="718.00" x2="76.50" y2="731.00" stroke="#262626" stroke-width="1.0" />
<rect x="70.50" y="695.30" width="12.00" height="22.70" fill="none" stroke="#262626" stroke-width="1.0" />
<line x1="70.50" y1="712.30" x2="82.50" y2="712.30" stroke="#262626" stroke-width="1.3" />
<rect x="86.40" y="692.40" width="12.00" height="24.10" fill="#c3d2ee" fill-opacity="0.85" />
<g fill="#4a86d0" fill-opacity="0.8"><circle cx="92.2" cy="693.9" r="2.15"/><circle cx="94.2" cy="682.2" r="2.15"/><circle cx="97.5" cy="720.4" r="2.15"/><circle cx="88.4" cy="664.2" r="2.15"/><circle cx="92.5" cy="719.7" r="2.15"/><circle cx="97.8" cy="695.6" r="2.15"/><circle cx="95.3" cy="725.7" r="2.15"/><circle cx="92.7" cy="691.5" r="2.15"/><circle cx="89.6" cy="722.2" r="2.15"/><circle cx="93.8" cy="694.1" r="2.15"/><circle cx="89.8" cy="693.4" r="2.15"/><circle cx="94.0" cy="690.6" r="2.15"/><circle cx="94.0" cy="705.7" r="2.15"/><circle cx="91.2" cy="679.2" r="2.15"/><circle cx="95.6" cy="665.4" r="2.15"/><circle cx="91.4" cy="724.3" r="2.15"/><circle cx="92.1" cy="701.7" r="2.15"/><circle cx="96.0" cy="668.8" r="2.15"/><circle cx="89.7" cy="692.8" r="2.15"/><circle cx="89.0" cy="705.5" r="2.15"/><circle cx="93.2" cy="713.4" r="2.15"/><circle cx="91.7" cy="669.3" r="2.15"/><circle cx="96.4" cy="726.1" r="2.15"/><circle cx="89.7" cy="691.2" r="2.15"/><circle cx="91.0" cy="681.8" r="2.15"/><circle cx="87.6" cy="721.9" r="2.15"/><circle cx="91.9" cy="712.2" r="2.15"/><circle cx="90.4" cy="713.4" r="2.15"/><circle cx="91.8" cy="700.7" r="2.15"/><circle cx="95.3" cy="709.9" r="2.15"/><circle cx="87.4" cy="676.1" r="2.15"/><circle cx="97.7" cy="672.6" r="2.15"/><circle cx="94.7" cy="712.8" r="2.15"/><circle cx="95.8" cy="676.0" r="2.15"/><circle cx="92.8" cy="727.0" r="2.15"/><circle cx="93.2" cy="725.4" r="2.15"/><circle cx="91.4" cy="695.8" r="2.15"/><circle cx="91.3" cy="686.8" r="2.15"/><circle cx="89.4" cy="684.5" r="2.15"/><circle cx="90.3" cy="664.9" r="2.15"/><circle cx="90.2" cy="679.9" r="2.15"/><circle cx="90.6" cy="715.6" r="2.15"/><circle cx="96.8" cy="692.7" r="2.15"/><circle cx="95.6" cy="672.6" r="2.15"/><circle cx="93.9" cy="725.6" r="2.15"/><circle cx="87.2" cy="702.7" r="2.15"/><circle cx="89.8" cy="722.1" r="2.15"/><circle cx="92.9" cy="722.7" r="2.15"/><circle cx="90.4" cy="650.0" r="2.15"/><circle cx="95.4" cy="664.0" r="2.15"/><circle cx="94.9" cy="669.0" r="2.15"/><circle cx="95.9" cy="677.0" r="2.15"/></g>
<line x1="92.40" y1="664.00" x2="92.40" y2="692.40" stroke="#262626" stroke-width="1.0" />
<line x1="92.40" y1="716.50" x2="92.40" y2="731.00" stroke="#262626" stroke-width="1.0" />
<rect x="86.40" y="692.40" width="12.00" height="24.10" fill="none" stroke="#262626" stroke-width="1.0" />
<line x1="86.40" y1="702.40" x2="98.40" y2="702.40" stroke="#262626" stroke-width="1.3" />
<line x1="43.10" y1="653.40" x2="60.90" y2="653.40" stroke="#6a6a6a" stroke-width="0.9" />
<text x="52.0" y="655.0" font-size="9" text-anchor="middle" >*</text>
<text x="10.2" y="690.8" font-size="9.3" textLength="46.3" lengthAdjust="spacingAndGlyphs" text-anchor="middle" transform="rotate(-90 10.2 690.8)" >Proportion</text>
<text x="68.2" y="762.8" font-size="9.3" textLength="26.5" lengthAdjust="spacingAndGlyphs" text-anchor="middle" >GOLD</text>
<text x="113.9" y="636.5" font-size="14.5" font-weight="bold" fill="#000" >g</text>
<text x="174.5" y="636.0" font-size="9.8" >AM<tspan font-size="7.06" dy="2.94">CSF</tspan></text>
<line x1="157.70" y1="647.70" x2="157.70" y2="731.35" stroke="#7f7f7f" stroke-width="0.9" />
<line x1="157.25" y1="730.90" x2="217.40" y2="730.90" stroke="#7f7f7f" stroke-width="0.9" />
<line x1="155.20" y1="662.30" x2="157.70" y2="662.30" stroke="#7f7f7f" stroke-width="0.8" />
<text x="151.2" y="665.1" font-size="8.4" text-anchor="end" >0.075</text>
<line x1="155.20" y1="684.50" x2="157.70" y2="684.50" stroke="#7f7f7f" stroke-width="0.8" />
<text x="151.2" y="687.4" font-size="8.4" text-anchor="end" >0.050</text>
<line x1="155.20" y1="705.90" x2="157.70" y2="705.90" stroke="#7f7f7f" stroke-width="0.8" />
<text x="151.2" y="708.8" font-size="8.4" text-anchor="end" >0.025</text>
<line x1="155.20" y1="727.40" x2="157.70" y2="727.40" stroke="#7f7f7f" stroke-width="0.8" />
<text x="151.2" y="730.2" font-size="8.4" text-anchor="end" >0</text>
<line x1="166.40" y1="730.90" x2="166.40" y2="733.40" stroke="#7f7f7f" stroke-width="0.8" />
<text x="170.0" y="739.6" font-size="8.0" text-anchor="end" transform="rotate(-45 170.0 739.6)" >None</text>
<line x1="180.30" y1="730.90" x2="180.30" y2="733.40" stroke="#7f7f7f" stroke-width="0.8" />
<text x="183.9" y="739.6" font-size="8.0" text-anchor="end" transform="rotate(-45 183.9 739.6)" >&lt;50%</text>
<line x1="194.50" y1="730.90" x2="194.50" y2="733.40" stroke="#7f7f7f" stroke-width="0.8" />
<text x="198.1" y="739.6" font-size="8.0" text-anchor="end" transform="rotate(-45 198.1 739.6)" >50–75%</text>
<line x1="208.80" y1="730.90" x2="208.80" y2="733.40" stroke="#7f7f7f" stroke-width="0.8" />
<text x="212.4" y="739.6" font-size="8.0" text-anchor="end" transform="rotate(-45 212.4 739.6)" >&gt;75%</text>
<rect x="161.15" y="699.30" width="10.50" height="24.00" fill="#c3d2ee" fill-opacity="0.85" />
<g fill="#4a86d0" fill-opacity="0.8"><circle cx="167.2" cy="719.8" r="2.15"/><circle cx="165.6" cy="688.1" r="2.15"/><circle cx="163.5" cy="693.4" r="2.15"/><circle cx="163.2" cy="723.9" r="2.15"/><circle cx="166.0" cy="691.6" r="2.15"/><circle cx="162.3" cy="707.1" r="2.15"/><circle cx="167.0" cy="726.7" r="2.15"/><circle cx="166.5" cy="686.4" r="2.15"/><circle cx="162.9" cy="723.1" r="2.15"/><circle cx="169.9" cy="721.8" r="2.15"/><circle cx="162.1" cy="718.5" r="2.15"/><circle cx="163.3" cy="710.3" r="2.15"/><circle cx="169.4" cy="725.4" r="2.15"/><circle cx="163.8" cy="703.6" r="2.15"/><circle cx="165.7" cy="694.1" r="2.15"/><circle cx="167.0" cy="715.6" r="2.15"/><circle cx="165.8" cy="696.5" r="2.15"/><circle cx="166.3" cy="707.9" r="2.15"/><circle cx="166.4" cy="694.5" r="2.15"/><circle cx="166.2" cy="724.4" r="2.15"/><circle cx="162.2" cy="720.3" r="2.15"/><circle cx="169.4" cy="717.2" r="2.15"/><circle cx="164.3" cy="725.7" r="2.15"/><circle cx="162.1" cy="685.1" r="2.15"/><circle cx="165.5" cy="707.1" r="2.15"/><circle cx="169.4" cy="725.8" r="2.15"/><circle cx="164.9" cy="651.2" r="2.15"/><circle cx="169.9" cy="680.5" r="2.15"/></g>
<line x1="166.40" y1="683.40" x2="166.40" y2="699.30" stroke="#262626" stroke-width="1.0" />
<line x1="166.40" y1="723.30" x2="166.40" y2="727.40" stroke="#262626" stroke-width="1.0" />
<rect x="161.15" y="699.30" width="10.50" height="24.00" fill="none" stroke="#262626" stroke-width="1.0" />
<line x1="161.15" y1="716.40" x2="171.65" y2="716.40" stroke="#262626" stroke-width="1.3" />
<rect x="175.25" y="692.30" width="10.50" height="20.30" fill="#c3d2ee" fill-opacity="0.85" />
<g fill="#4a86d0" fill-opacity="0.8"><circle cx="176.9" cy="692.4" r="2.15"/><circle cx="176.2" cy="715.2" r="2.15"/><circle cx="175.8" cy="715.1" r="2.15"/><circle cx="181.4" cy="700.0" r="2.15"/><circle cx="181.1" cy="723.2" r="2.15"/><circle cx="183.5" cy="689.1" r="2.15"/><circle cx="183.8" cy="690.6" r="2.15"/><circle cx="179.8" cy="724.0" r="2.15"/><circle cx="183.8" cy="695.7" r="2.15"/><circle cx="177.7" cy="705.1" r="2.15"/><circle cx="184.1" cy="698.2" r="2.15"/><circle cx="178.1" cy="667.6" r="2.15"/><circle cx="184.7" cy="663.6" r="2.15"/><circle cx="179.4" cy="707.9" r="2.15"/><circle cx="179.8" cy="680.9" r="2.15"/><circle cx="180.7" cy="687.9" r="2.15"/><circle cx="176.3" cy="665.4" r="2.15"/><circle cx="176.5" cy="724.7" r="2.15"/><circle cx="180.9" cy="669.5" r="2.15"/><circle cx="182.5" cy="714.1" r="2.15"/><circle cx="176.2" cy="719.2" r="2.15"/><circle cx="179.6" cy="700.2" r="2.15"/><circle cx="179.3" cy="681.5" r="2.15"/><circle cx="183.2" cy="667.3" r="2.15"/><circle cx="185.1" cy="709.2" r="2.15"/><circle cx="176.6" cy="682.9" r="2.15"/><circle cx="180.9" cy="724.6" r="2.15"/><circle cx="176.8" cy="665.8" r="2.15"/><circle cx="183.2" cy="711.3" r="2.15"/><circle cx="184.7" cy="703.0" r="2.15"/><circle cx="182.0" cy="659.0" r="2.15"/><circle cx="183.5" cy="661.5" r="2.15"/></g>
<line x1="180.50" y1="662.00" x2="180.50" y2="692.30" stroke="#262626" stroke-width="1.0" />
<line x1="180.50" y1="712.60" x2="180.50" y2="726.30" stroke="#262626" stroke-width="1.0" />
<rect x="175.25" y="692.30" width="10.50" height="20.30" fill="none" stroke="#262626" stroke-width="1.0" />
<line x1="175.25" y1="705.20" x2="185.75" y2="705.20" stroke="#262626" stroke-width="1.3" />
<rect x="189.25" y="701.30" width="11.30" height="16.10" fill="#c3d2ee" fill-opacity="0.85" />
<g fill="#4a86d0" fill-opacity="0.8"><circle cx="192.9" cy="705.0" r="2.15"/><circle cx="197.4" cy="703.1" r="2.15"/><circle cx="199.3" cy="687.4" r="2.15"/><circle cx="197.7" cy="719.5" r="2.15"/><circle cx="195.2" cy="724.8" r="2.15"/><circle cx="191.5" cy="696.3" r="2.15"/><circle cx="197.0" cy="715.0" r="2.15"/><circle cx="192.5" cy="713.9" r="2.15"/><circle cx="200.0" cy="696.9" r="2.15"/><circle cx="191.6" cy="720.1" r="2.15"/><circle cx="199.7" cy="690.6" r="2.15"/><circle cx="190.0" cy="710.6" r="2.15"/><circle cx="197.7" cy="724.5" r="2.15"/><circle cx="193.3" cy="690.0" r="2.15"/><circle cx="195.7" cy="707.7" r="2.15"/><circle cx="194.0" cy="724.3" r="2.15"/><circle cx="192.9" cy="695.3" r="2.15"/><circle cx="194.3" cy="699.6" r="2.15"/><circle cx="198.1" cy="701.7" r="2.15"/><circle cx="193.4" cy="704.6" r="2.15"/><circle cx="193.5" cy="685.0" r="2.15"/><circle cx="197.8" cy="726.9" r="2.15"/><circle cx="191.6" cy="686.2" r="2.15"/><circle cx="193.4" cy="705.2" r="2.15"/><circle cx="195.1" cy="717.3" r="2.15"/><circle cx="195.1" cy="706.3" r="2.15"/><circle cx="191.5" cy="714.9" r="2.15"/><circle cx="197.6" cy="704.9" r="2.15"/><circle cx="194.8" cy="702.9" r="2.15"/><circle cx="190.7" cy="709.4" r="2.15"/><circle cx="193.3" cy="723.5" r="2.15"/><circle cx="190.4" cy="713.4" r="2.15"/><circle cx="194.9" cy="660.0" r="2.15"/><circle cx="197.4" cy="657.5" r="2.15"/><circle cx="197.2" cy="670.0" r="2.15"/></g>
<line x1="194.90" y1="684.50" x2="194.90" y2="701.30" stroke="#262626" stroke-width="1.0" />
<line x1="194.90" y1="717.40" x2="194.90" y2="727.40" stroke="#262626" stroke-width="1.0" />
<rect x="189.25" y="701.30" width="11.30" height="16.10" fill="none" stroke="#262626" stroke-width="1.0" />
<line x1="189.25" y1="710.30" x2="200.55" y2="710.30" stroke="#262626" stroke-width="1.3" />
<rect x="203.60" y="704.40" width="11.00" height="15.80" fill="#c3d2ee" fill-opacity="0.85" />
<g fill="#4a86d0" fill-opacity="0.8"><circle cx="205.4" cy="724.1" r="2.15"/><circle cx="208.3" cy="723.6" r="2.15"/><circle cx="205.8" cy="711.7" r="2.15"/><circle cx="207.8" cy="722.3" r="2.15"/><circle cx="204.5" cy="723.6" r="2.15"/><circle cx="211.7" cy="716.9" r="2.15"/><circle cx="212.1" cy="717.7" r="2.15"/><circle cx="207.8" cy="721.3" r="2.15"/><circle cx="207.9" cy="718.0" r="2.15"/><circle cx="206.7" cy="697.2" r="2.15"/><circle cx="213.6" cy="723.6" r="2.15"/><circle cx="212.8" cy="722.0" r="2.15"/><circle cx="210.7" cy="726.6" r="2.15"/><circle cx="205.9" cy="720.5" r="2.15"/><circle cx="205.9" cy="724.7" r="2.15"/><circle cx="211.7" cy="686.2" r="2.15"/><circle cx="206.0" cy="719.2" r="2.15"/><circle cx="211.0" cy="685.9" r="2.15"/><circle cx="208.3" cy="723.7" r="2.15"/><circle cx="204.5" cy="692.4" r="2.15"/><circle cx="206.1" cy="716.1" r="2.15"/><circle cx="213.2" cy="707.3" r="2.15"/><circle cx="207.3" cy="708.6" r="2.15"/><circle cx="210.8" cy="719.9" r="2.15"/><circle cx="211.7" cy="720.7" r="2.15"/><circle cx="208.1" cy="707.8" r="2.15"/><circle cx="209.1" cy="723.6" r="2.15"/><circle cx="212.7" cy="727.0" r="2.15"/><circle cx="211.3" cy="702.8" r="2.15"/><circle cx="209.3" cy="710.0" r="2.15"/><circle cx="209.5" cy="720.0" r="2.15"/><circle cx="208.6" cy="715.4" r="2.15"/><circle cx="208.4" cy="692.0" r="2.15"/><circle cx="210.8" cy="719.8" r="2.15"/><circle cx="207.6" cy="664.5" r="2.15"/><circle cx="209.1" cy="670.0" r="2.15"/><circle cx="210.6" cy="678.0" r="2.15"/></g>
<line x1="209.10" y1="685.00" x2="209.10" y2="704.40" stroke="#262626" stroke-width="1.0" />
<line x1="209.10" y1="720.20" x2="209.10" y2="727.40" stroke="#262626" stroke-width="1.0" />
<rect x="203.60" y="704.40" width="11.00" height="15.80" fill="none" stroke="#262626" stroke-width="1.0" />
<line x1="203.60" y1="716.40" x2="214.60" y2="716.40" stroke="#262626" stroke-width="1.3" />
<line x1="162.80" y1="651.20" x2="180.10" y2="651.20" stroke="#6a6a6a" stroke-width="0.9" />
<text x="171.4" y="652.8" font-size="9" text-anchor="middle" >*</text>
<text x="121.8" y="694.4" font-size="9.3" textLength="46.6" lengthAdjust="spacingAndGlyphs" text-anchor="middle" transform="rotate(-90 121.8 694.4)" >Proportion</text>
<text x="187.6" y="774.6" font-size="9.3" textLength="53.1" lengthAdjust="spacingAndGlyphs" text-anchor="middle" >Emphysema</text>
<text x="227.0" y="636.0" font-size="14.5" font-weight="bold" fill="#000" >h</text>
<text x="277.8" y="637.5" font-size="9.8" >AM<tspan font-size="7.06" dy="2.94">inflam</tspan></text>
<line x1="267.40" y1="644.40" x2="267.40" y2="731.55" stroke="#7f7f7f" stroke-width="0.9" />
<line x1="266.95" y1="731.10" x2="329.50" y2="731.10" stroke="#7f7f7f" stroke-width="0.9" />
<line x1="264.90" y1="649.30" x2="267.40" y2="649.30" stroke="#7f7f7f" stroke-width="0.8" />
<text x="260.9" y="652.1" font-size="8.4" text-anchor="end" >0.03</text>
<line x1="264.90" y1="675.40" x2="267.40" y2="675.40" stroke="#7f7f7f" stroke-width="0.8" />
<text x="260.9" y="678.2" font-size="8.4" text-anchor="end" >0.02</text>
<line x1="264.90" y1="701.30" x2="267.40" y2="701.30" stroke="#7f7f7f" stroke-width="0.8" />
<text x="260.9" y="704.1" font-size="8.4" text-anchor="end" >0.01</text>
<line x1="264.90" y1="727.30" x2="267.40" y2="727.30" stroke="#7f7f7f" stroke-width="0.8" />
<text x="260.9" y="730.1" font-size="8.4" text-anchor="end" >0</text>
<line x1="276.40" y1="731.10" x2="276.40" y2="733.60" stroke="#7f7f7f" stroke-width="0.8" />
<text x="280.0" y="739.8" font-size="8.0" text-anchor="end" transform="rotate(-45 280.0 739.8)" >None</text>
<line x1="291.20" y1="731.10" x2="291.20" y2="733.60" stroke="#7f7f7f" stroke-width="0.8" />
<text x="294.8" y="739.8" font-size="8.0" text-anchor="end" transform="rotate(-45 294.8 739.8)" >&lt;50%</text>
<line x1="306.00" y1="731.10" x2="306.00" y2="733.60" stroke="#7f7f7f" stroke-width="0.8" />
<text x="309.6" y="739.8" font-size="8.0" text-anchor="end" transform="rotate(-45 309.6 739.8)" >50–75%</text>
<line x1="320.80" y1="731.10" x2="320.80" y2="733.60" stroke="#7f7f7f" stroke-width="0.8" />
<text x="324.4" y="739.8" font-size="8.0" text-anchor="end" transform="rotate(-45 324.4 739.8)" >&gt;75%</text>
<rect x="270.45" y="716.30" width="11.30" height="9.10" fill="#9d73c8" fill-opacity="0.7" />
<g fill="#8d59bf" fill-opacity="0.82"><circle cx="277.0" cy="727.2" r="2.15"/><circle cx="276.6" cy="726.4" r="2.15"/><circle cx="280.7" cy="722.9" r="2.15"/><circle cx="279.5" cy="717.5" r="2.15"/><circle cx="274.6" cy="726.2" r="2.15"/><circle cx="273.1" cy="726.4" r="2.15"/><circle cx="279.5" cy="725.5" r="2.15"/><circle cx="281.1" cy="715.9" r="2.15"/><circle cx="271.3" cy="726.2" r="2.15"/><circle cx="278.5" cy="716.5" r="2.15"/><circle cx="279.8" cy="718.0" r="2.15"/><circle cx="277.6" cy="726.3" r="2.15"/><circle cx="273.2" cy="720.3" r="2.15"/><circle cx="279.1" cy="721.9" r="2.15"/><circle cx="278.4" cy="722.5" r="2.15"/><circle cx="273.0" cy="703.5" r="2.15"/><circle cx="277.5" cy="726.6" r="2.15"/><circle cx="273.2" cy="727.1" r="2.15"/><circle cx="271.4" cy="706.4" r="2.15"/><circle cx="274.4" cy="722.7" r="2.15"/><circle cx="274.4" cy="725.8" r="2.15"/><circle cx="275.0" cy="724.0" r="2.15"/><circle cx="277.6" cy="723.4" r="2.15"/><circle cx="279.5" cy="705.6" r="2.15"/><circle cx="280.8" cy="725.7" r="2.15"/><circle cx="280.9" cy="725.7" r="2.15"/><circle cx="273.1" cy="703.0" r="2.15"/><circle cx="278.1" cy="703.0" r="2.15"/></g>
<line x1="276.10" y1="703.30" x2="276.10" y2="716.30" stroke="#262626" stroke-width="1.0" />
<line x1="276.10" y1="725.40" x2="276.10" y2="727.30" stroke="#262626" stroke-width="1.0" />
<rect x="270.45" y="716.30" width="11.30" height="9.10" fill="none" stroke="#262626" stroke-width="1.0" />
<line x1="270.45" y1="721.00" x2="281.75" y2="721.00" stroke="#262626" stroke-width="1.3" />
<rect x="285.45" y="715.30" width="11.30" height="8.50" fill="#9d73c8" fill-opacity="0.7" />
<g fill="#8d59bf" fill-opacity="0.82"><circle cx="289.6" cy="726.2" r="2.15"/><circle cx="287.7" cy="724.3" r="2.15"/><circle cx="289.2" cy="722.8" r="2.15"/><circle cx="295.5" cy="709.2" r="2.15"/><circle cx="287.7" cy="719.1" r="2.15"/><circle cx="294.3" cy="715.7" r="2.15"/><circle cx="293.5" cy="725.9" r="2.15"/><circle cx="291.8" cy="718.9" r="2.15"/><circle cx="291.9" cy="711.5" r="2.15"/><circle cx="293.8" cy="718.7" r="2.15"/><circle cx="292.0" cy="707.4" r="2.15"/><circle cx="288.3" cy="709.9" r="2.15"/><circle cx="289.4" cy="721.5" r="2.15"/><circle cx="288.5" cy="727.3" r="2.15"/><circle cx="290.1" cy="715.1" r="2.15"/><circle cx="296.1" cy="725.5" r="2.15"/><circle cx="290.4" cy="727.2" r="2.15"/><circle cx="286.7" cy="715.6" r="2.15"/><circle cx="290.9" cy="711.5" r="2.15"/><circle cx="294.3" cy="711.8" r="2.15"/><circle cx="290.5" cy="707.0" r="2.15"/><circle cx="293.2" cy="724.5" r="2.15"/><circle cx="286.9" cy="726.2" r="2.15"/><circle cx="286.6" cy="725.6" r="2.15"/><circle cx="292.7" cy="706.0" r="2.15"/><circle cx="286.5" cy="725.7" r="2.15"/><circle cx="289.1" cy="725.1" r="2.15"/><circle cx="289.9" cy="727.0" r="2.15"/><circle cx="288.0" cy="726.6" r="2.15"/><circle cx="286.4" cy="726.8" r="2.15"/><circle cx="289.3" cy="655.9" r="2.15"/><circle cx="287.7" cy="683.6" r="2.15"/><circle cx="287.4" cy="704.6" r="2.15"/><circle cx="293.6" cy="704.0" r="2.15"/></g>
<line x1="291.10" y1="705.10" x2="291.10" y2="715.30" stroke="#262626" stroke-width="1.0" />
<line x1="291.10" y1="723.80" x2="291.10" y2="727.30" stroke="#262626" stroke-width="1.0" />
<rect x="285.45" y="715.30" width="11.30" height="8.50" fill="none" stroke="#262626" stroke-width="1.0" />
<line x1="285.45" y1="719.00" x2="296.75" y2="719.00" stroke="#262626" stroke-width="1.3" />
<rect x="300.50" y="718.30" width="11.20" height="5.50" fill="#9d73c8" fill-opacity="0.7" />
<g fill="#8d59bf" fill-opacity="0.82"><circle cx="307.9" cy="721.0" r="2.15"/><circle cx="302.2" cy="720.1" r="2.15"/><circle cx="301.6" cy="716.5" r="2.15"/><circle cx="310.9" cy="723.6" r="2.15"/><circle cx="303.9" cy="719.8" r="2.15"/><circle cx="303.2" cy="714.6" r="2.15"/><circle cx="310.1" cy="714.1" r="2.15"/><circle cx="308.6" cy="724.7" r="2.15"/><circle cx="302.3" cy="719.8" r="2.15"/><circle cx="304.3" cy="720.3" r="2.15"/><circle cx="303.5" cy="722.0" r="2.15"/><circle cx="303.8" cy="712.6" r="2.15"/><circle cx="301.1" cy="721.7" r="2.15"/><circle cx="306.3" cy="722.5" r="2.15"/><circle cx="304.1" cy="713.2" r="2.15"/><circle cx="305.0" cy="720.0" r="2.15"/><circle cx="302.9" cy="723.5" r="2.15"/><circle cx="302.2" cy="723.4" r="2.15"/><circle cx="301.4" cy="722.1" r="2.15"/><circle cx="309.9" cy="726.6" r="2.15"/><circle cx="308.6" cy="720.5" r="2.15"/><circle cx="306.7" cy="718.5" r="2.15"/><circle cx="302.3" cy="722.6" r="2.15"/><circle cx="302.6" cy="715.8" r="2.15"/><circle cx="302.3" cy="713.6" r="2.15"/><circle cx="304.3" cy="721.3" r="2.15"/><circle cx="302.9" cy="685.8" r="2.15"/><circle cx="306.5" cy="689.0" r="2.15"/><circle cx="303.6" cy="700.8" r="2.15"/><circle cx="306.5" cy="709.7" r="2.15"/></g>
<line x1="306.10" y1="711.70" x2="306.10" y2="718.30" stroke="#262626" stroke-width="1.0" />
<line x1="306.10" y1="723.80" x2="306.10" y2="727.30" stroke="#262626" stroke-width="1.0" />
<rect x="300.50" y="718.30" width="11.20" height="5.50" fill="none" stroke="#262626" stroke-width="1.0" />
<line x1="300.50" y1="722.10" x2="311.70" y2="722.10" stroke="#262626" stroke-width="1.3" />
<rect x="315.35" y="717.50" width="11.30" height="7.40" fill="#9d73c8" fill-opacity="0.7" />
<g fill="#8d59bf" fill-opacity="0.82"><circle cx="320.2" cy="720.6" r="2.15"/><circle cx="318.4" cy="719.8" r="2.15"/><circle cx="324.2" cy="714.3" r="2.15"/><circle cx="321.8" cy="712.4" r="2.15"/><circle cx="323.5" cy="713.0" r="2.15"/><circle cx="324.2" cy="723.1" r="2.15"/><circle cx="318.8" cy="710.7" r="2.15"/><circle cx="317.1" cy="722.2" r="2.15"/><circle cx="318.8" cy="724.0" r="2.15"/><circle cx="325.1" cy="726.4" r="2.15"/><circle cx="324.0" cy="720.8" r="2.15"/><circle cx="320.0" cy="725.8" r="2.15"/><circle cx="323.8" cy="724.5" r="2.15"/><circle cx="319.4" cy="719.5" r="2.15"/><circle cx="324.7" cy="716.6" r="2.15"/><circle cx="316.8" cy="717.4" r="2.15"/><circle cx="323.5" cy="726.5" r="2.15"/><circle cx="325.9" cy="726.7" r="2.15"/><circle cx="320.2" cy="724.8" r="2.15"/><circle cx="320.6" cy="720.3" r="2.15"/><circle cx="317.2" cy="714.5" r="2.15"/><circle cx="318.7" cy="715.8" r="2.15"/><circle cx="318.3" cy="711.3" r="2.15"/><circle cx="318.9" cy="719.8" r="2.15"/><circle cx="316.6" cy="719.1" r="2.15"/><circle cx="319.0" cy="724.2" r="2.15"/><circle cx="317.0" cy="723.9" r="2.15"/><circle cx="321.3" cy="725.3" r="2.15"/><circle cx="320.0" cy="720.5" r="2.15"/><circle cx="318.2" cy="719.5" r="2.15"/><circle cx="325.5" cy="720.0" r="2.15"/><circle cx="319.1" cy="722.7" r="2.15"/><circle cx="319.7" cy="647.9" r="2.15"/><circle cx="323.5" cy="700.8" r="2.15"/><circle cx="319.0" cy="707.0" r="2.15"/><circle cx="323.0" cy="706.0" r="2.15"/></g>
<line x1="321.00" y1="709.00" x2="321.00" y2="717.50" stroke="#262626" stroke-width="1.0" />
<line x1="321.00" y1="724.90" x2="321.00" y2="727.30" stroke="#262626" stroke-width="1.0" />
<rect x="315.35" y="717.50" width="11.30" height="7.40" fill="none" stroke="#262626" stroke-width="1.0" />
<line x1="315.35" y1="721.00" x2="326.65" y2="721.00" stroke="#262626" stroke-width="1.3" />
<line x1="272.00" y1="649.50" x2="289.60" y2="649.50" stroke="#6a6a6a" stroke-width="0.9" />
<text x="280.8" y="651.1" font-size="9" text-anchor="middle" >*</text>
<text x="237.5" y="687.3" font-size="9.3" textLength="46.5" lengthAdjust="spacingAndGlyphs" text-anchor="middle" transform="rotate(-90 237.5 687.3)" >Proportion</text>
<text x="298.0" y="774.6" font-size="9.3" textLength="53.5" lengthAdjust="spacingAndGlyphs" text-anchor="middle" >Emphysema</text>
<text x="346.0" y="636.0" font-size="14.5" font-weight="bold" fill="#000" >i</text>
<text x="399.7" y="637.5" font-size="9.8" >AM<tspan font-size="7.06" dy="2.94">NR4A</tspan></text>
<line x1="378.50" y1="658.10" x2="378.50" y2="736.75" stroke="#7f7f7f" stroke-width="0.9" />
<line x1="378.05" y1="736.30" x2="452.50" y2="736.30" stroke="#7f7f7f" stroke-width="0.9" />
<line x1="376.00" y1="671.10" x2="378.50" y2="671.10" stroke="#7f7f7f" stroke-width="0.8" />
<text x="372.0" y="674.0" font-size="8.4" text-anchor="end" >0.3</text>
<line x1="376.00" y1="691.60" x2="378.50" y2="691.60" stroke="#7f7f7f" stroke-width="0.8" />
<text x="372.0" y="694.5" font-size="8.4" text-anchor="end" >0.2</text>
<line x1="376.00" y1="712.40" x2="378.50" y2="712.40" stroke="#7f7f7f" stroke-width="0.8" />
<text x="372.0" y="715.2" font-size="8.4" text-anchor="end" >0.1</text>
<line x1="376.00" y1="732.90" x2="378.50" y2="732.90" stroke="#7f7f7f" stroke-width="0.8" />
<text x="372.0" y="735.8" font-size="8.4" text-anchor="end" >0</text>
<line x1="381.50" y1="736.30" x2="381.50" y2="738.80" stroke="#7f7f7f" stroke-width="0.8" />
<text x="381.5" y="747.8" font-size="8.0" text-anchor="middle" >0</text>
<line x1="398.80" y1="736.30" x2="398.80" y2="738.80" stroke="#7f7f7f" stroke-width="0.8" />
<text x="398.8" y="747.8" font-size="8.0" text-anchor="middle" >0.2</text>
<line x1="416.30" y1="736.30" x2="416.30" y2="738.80" stroke="#7f7f7f" stroke-width="0.8" />
<text x="416.3" y="747.8" font-size="8.0" text-anchor="middle" >0.4</text>
<line x1="433.70" y1="736.30" x2="433.70" y2="738.80" stroke="#7f7f7f" stroke-width="0.8" />
<text x="433.7" y="747.8" font-size="8.0" text-anchor="middle" >0.6</text>
<line x1="450.40" y1="736.30" x2="450.40" y2="738.80" stroke="#7f7f7f" stroke-width="0.8" />
<text x="450.4" y="747.8" font-size="8.0" text-anchor="middle" >0.8</text>
<g fill="#962116" fill-opacity="0.85"><circle cx="386.2" cy="674.5" r="2.15"/><circle cx="385.5" cy="682.3" r="2.15"/><circle cx="384.7" cy="682.9" r="2.15"/><circle cx="387.4" cy="688.5" r="2.15"/><circle cx="389.9" cy="695.3" r="2.15"/><circle cx="386.2" cy="697.8" r="2.15"/><circle cx="397.7" cy="693.5" r="2.15"/><circle cx="400.4" cy="684.8" r="2.15"/><circle cx="402.9" cy="677.3" r="2.15"/><circle cx="410.6" cy="669.6" r="2.15"/><circle cx="419.7" cy="671.4" r="2.15"/><circle cx="424.4" cy="678.3" r="2.15"/><circle cx="434.2" cy="661.2" r="2.15"/><circle cx="431.1" cy="667.0" r="2.15"/><circle cx="438.9" cy="679.2" r="2.15"/><circle cx="416.9" cy="686.8" r="2.15"/><circle cx="420.3" cy="687.9" r="2.15"/><circle cx="420.9" cy="693.2" r="2.15"/><circle cx="423.1" cy="698.1" r="2.15"/><circle cx="404.8" cy="694.7" r="2.15"/><circle cx="407.3" cy="694.1" r="2.15"/><circle cx="386.2" cy="707.1" r="2.15"/><circle cx="424.0" cy="707.1" r="2.15"/><circle cx="430.8" cy="708.3" r="2.15"/><circle cx="440.1" cy="711.1" r="2.15"/><circle cx="416.6" cy="708.3" r="2.15"/><circle cx="412.8" cy="710.6" r="2.15"/><circle cx="409.7" cy="714.3" r="2.15"/><circle cx="406.6" cy="715.8" r="2.15"/><circle cx="417.2" cy="713.3" r="2.15"/><circle cx="421.5" cy="713.3" r="2.15"/><circle cx="425.2" cy="713.3" r="2.15"/><circle cx="432.1" cy="714.6" r="2.15"/><circle cx="435.8" cy="713.3" r="2.15"/><circle cx="438.9" cy="713.3" r="2.15"/><circle cx="429.0" cy="717.7" r="2.15"/><circle cx="442.0" cy="723.9" r="2.15"/><circle cx="445.7" cy="726.7" r="2.15"/><circle cx="449.4" cy="723.9" r="2.15"/><circle cx="430.2" cy="725.7" r="2.15"/><circle cx="424.4" cy="726.3" r="2.15"/><circle cx="424.0" cy="727.2" r="2.15"/><circle cx="415.9" cy="719.5" r="2.15"/><circle cx="417.8" cy="722.6" r="2.15"/><circle cx="421.5" cy="719.5" r="2.15"/><circle cx="422.1" cy="721.4" r="2.15"/><circle cx="404.8" cy="720.1" r="2.15"/><circle cx="407.9" cy="722.0" r="2.15"/><circle cx="411.6" cy="723.9" r="2.15"/><circle cx="415.9" cy="726.3" r="2.15"/><circle cx="408.5" cy="730.3" r="2.15"/><circle cx="404.8" cy="732.5" r="2.15"/><circle cx="399.8" cy="732.5" r="2.15"/><circle cx="398.6" cy="730.7" r="2.15"/><circle cx="401.7" cy="728.2" r="2.15"/><circle cx="403.5" cy="728.8" r="2.15"/><circle cx="396.1" cy="722.0" r="2.15"/><circle cx="392.4" cy="722.6" r="2.15"/><circle cx="391.7" cy="732.5" r="2.15"/><circle cx="387.4" cy="730.7" r="2.15"/><circle cx="381.8" cy="731.3" r="2.15"/><circle cx="381.2" cy="722.0" r="2.15"/><circle cx="382.4" cy="714.6" r="2.15"/><circle cx="384.3" cy="712.1" r="2.15"/><circle cx="386.8" cy="712.1" r="2.15"/><circle cx="387.4" cy="717.0" r="2.15"/><circle cx="388.6" cy="724.5" r="2.15"/><circle cx="386.2" cy="727.0" r="2.15"/><circle cx="384.9" cy="729.4" r="2.15"/><circle cx="382.4" cy="727.0" r="2.15"/><circle cx="383.1" cy="719.5" r="2.15"/><circle cx="389.3" cy="718.3" r="2.15"/><circle cx="385.5" cy="733.2" r="2.15"/><circle cx="387.4" cy="722.0" r="2.15"/><circle cx="393.6" cy="728.2" r="2.15"/><circle cx="395.5" cy="730.7" r="2.15"/><circle cx="401.7" cy="733.2" r="2.15"/><circle cx="403.5" cy="732.5" r="2.15"/><circle cx="383.7" cy="710.2" r="2.15"/><circle cx="381.8" cy="713.3" r="2.15"/><circle cx="381.0" cy="717.0" r="2.15"/><circle cx="385.5" cy="717.0" r="2.15"/><circle cx="382.7" cy="722.6" r="2.15"/><circle cx="384.7" cy="724.5" r="2.15"/><circle cx="386.4" cy="720.8" r="2.15"/><circle cx="382.2" cy="729.4" r="2.15"/><circle cx="384.3" cy="731.9" r="2.15"/><circle cx="386.8" cy="732.5" r="2.15"/><circle cx="389.9" cy="728.2" r="2.15"/><circle cx="390.5" cy="729.4" r="2.15"/><circle cx="397.3" cy="729.4" r="2.15"/><circle cx="400.4" cy="729.4" r="2.15"/><circle cx="398.0" cy="727.0" r="2.15"/><circle cx="394.9" cy="732.5" r="2.15"/><circle cx="388.6" cy="713.3" r="2.15"/><circle cx="381.2" cy="719.5" r="2.15"/><circle cx="383.7" cy="725.7" r="2.15"/><circle cx="385.9" cy="709.6" r="2.15"/><circle cx="387.4" cy="708.3" r="2.15"/><circle cx="385.8" cy="727.1" r="2.15"/><circle cx="387.1" cy="731.8" r="2.15"/><circle cx="386.7" cy="731.3" r="2.15"/><circle cx="381.4" cy="720.6" r="2.15"/><circle cx="388.2" cy="724.9" r="2.15"/><circle cx="387.9" cy="712.3" r="2.15"/><circle cx="384.7" cy="715.4" r="2.15"/><circle cx="385.3" cy="723.1" r="2.15"/><circle cx="381.3" cy="714.7" r="2.15"/><circle cx="383.3" cy="731.2" r="2.15"/><circle cx="386.9" cy="713.4" r="2.15"/><circle cx="387.1" cy="712.9" r="2.15"/><circle cx="385.8" cy="712.6" r="2.15"/><circle cx="381.2" cy="730.1" r="2.15"/><circle cx="382.8" cy="714.7" r="2.15"/><circle cx="388.5" cy="730.2" r="2.15"/><circle cx="383.4" cy="732.3" r="2.15"/><circle cx="385.2" cy="725.6" r="2.15"/><circle cx="382.7" cy="731.8" r="2.15"/><circle cx="386.3" cy="732.4" r="2.15"/><circle cx="387.9" cy="716.6" r="2.15"/><circle cx="383.9" cy="713.5" r="2.15"/></g>
<line x1="381.20" y1="718.50" x2="449.40" y2="703.10" stroke="#222" stroke-width="0.8" />
<text x="353.2" y="697.0" font-size="9.3" textLength="46.5" lengthAdjust="spacingAndGlyphs" text-anchor="middle" transform="rotate(-90 353.2 697.0)" >Proportion</text>
<text x="416.3" y="762.6" font-size="9.3" textLength="64" lengthAdjust="spacingAndGlyphs" text-anchor="middle" >% emphysema</text>
<text x="465.0" y="648.2" font-size="14.5" font-weight="bold" fill="#000" >n</text>
<text x="523.0" y="649.7" font-size="9.8" >Fibroblast<tspan font-size="7.06" dy="2.94">IR</tspan></text>
<text x="614.4" y="649.7" font-size="9.8" >Fibroblast<tspan font-size="7.06" dy="2.94">FRC</tspan></text>
<line x1="521.10" y1="657.20" x2="521.10" y2="749.75" stroke="#7f7f7f" stroke-width="0.9" />
<line x1="520.65" y1="749.30" x2="575.50" y2="749.30" stroke="#7f7f7f" stroke-width="0.9" />
<line x1="518.60" y1="673.50" x2="521.10" y2="673.50" stroke="#7f7f7f" stroke-width="0.8" />
<text x="514.6" y="676.4" font-size="8.4" text-anchor="end" >0.195</text>
<line x1="518.60" y1="700.50" x2="521.10" y2="700.50" stroke="#7f7f7f" stroke-width="0.8" />
<text x="514.6" y="703.4" font-size="8.4" text-anchor="end" >0.049</text>
<line x1="518.60" y1="726.40" x2="521.10" y2="726.40" stroke="#7f7f7f" stroke-width="0.8" />
<text x="514.6" y="729.2" font-size="8.4" text-anchor="end" >0.012</text>
<line x1="528.90" y1="749.30" x2="528.90" y2="751.80" stroke="#7f7f7f" stroke-width="0.8" />
<text x="528.9" y="761.3" font-size="8.0" text-anchor="middle" >O</text>
<line x1="542.50" y1="749.30" x2="542.50" y2="751.80" stroke="#7f7f7f" stroke-width="0.8" />
<text x="542.5" y="761.3" font-size="8.0" text-anchor="middle" >I,II</text>
<line x1="555.80" y1="749.30" x2="555.80" y2="751.80" stroke="#7f7f7f" stroke-width="0.8" />
<text x="555.8" y="761.3" font-size="8.0" text-anchor="middle" >III</text>
<line x1="569.40" y1="749.30" x2="569.40" y2="751.80" stroke="#7f7f7f" stroke-width="0.8" />
<text x="569.4" y="761.3" font-size="8.0" text-anchor="middle" >IV</text>
<rect x="524.40" y="706.00" width="10.00" height="32.20" fill="#fcd7a4" fill-opacity="0.9" />
<g fill="#f6a11c" fill-opacity="0.8"><circle cx="532.5" cy="726.8" r="2.15"/><circle cx="526.8" cy="738.5" r="2.15"/><circle cx="531.4" cy="739.7" r="2.15"/><circle cx="531.5" cy="689.6" r="2.15"/><circle cx="526.0" cy="713.2" r="2.15"/><circle cx="530.9" cy="708.5" r="2.15"/><circle cx="526.0" cy="714.2" r="2.15"/><circle cx="533.1" cy="726.6" r="2.15"/><circle cx="531.1" cy="706.8" r="2.15"/><circle cx="533.7" cy="713.2" r="2.15"/><circle cx="525.4" cy="702.9" r="2.15"/><circle cx="527.8" cy="709.7" r="2.15"/><circle cx="530.5" cy="697.1" r="2.15"/><circle cx="530.4" cy="721.7" r="2.15"/><circle cx="526.5" cy="739.9" r="2.15"/><circle cx="532.9" cy="740.0" r="2.15"/><circle cx="532.5" cy="707.1" r="2.15"/><circle cx="527.6" cy="739.7" r="2.15"/><circle cx="526.2" cy="710.0" r="2.15"/><circle cx="530.9" cy="711.4" r="2.15"/><circle cx="528.6" cy="741.6" r="2.15"/><circle cx="530.9" cy="702.6" r="2.15"/><circle cx="529.3" cy="742.1" r="2.15"/><circle cx="528.5" cy="694.3" r="2.15"/><circle cx="525.1" cy="748.8" r="2.15"/><circle cx="526.1" cy="748.8" r="2.15"/><circle cx="529.0" cy="748.8" r="2.15"/><circle cx="531.5" cy="748.8" r="2.15"/></g>
<line x1="529.40" y1="681.00" x2="529.40" y2="706.00" stroke="#262626" stroke-width="1.0" />
<line x1="529.40" y1="738.20" x2="529.40" y2="742.70" stroke="#262626" stroke-width="1.0" />
<rect x="524.40" y="706.00" width="10.00" height="32.20" fill="none" stroke="#262626" stroke-width="1.0" />
<line x1="524.40" y1="716.40" x2="534.40" y2="716.40" stroke="#262626" stroke-width="1.3" />
<rect x="537.80" y="704.90" width="9.60" height="18.40" fill="#fcd7a4" fill-opacity="0.9" />
<g fill="#f6a11c" fill-opacity="0.8"><circle cx="539.1" cy="708.6" r="2.15"/><circle cx="539.1" cy="743.2" r="2.15"/><circle cx="545.6" cy="722.3" r="2.15"/><circle cx="543.5" cy="725.7" r="2.15"/><circle cx="545.3" cy="705.4" r="2.15"/><circle cx="544.6" cy="707.4" r="2.15"/><circle cx="542.9" cy="691.0" r="2.15"/><circle cx="546.7" cy="737.7" r="2.15"/><circle cx="541.6" cy="716.4" r="2.15"/><circle cx="543.0" cy="742.8" r="2.15"/><circle cx="545.4" cy="726.1" r="2.15"/><circle cx="543.6" cy="713.1" r="2.15"/><circle cx="545.7" cy="743.1" r="2.15"/><circle cx="543.3" cy="727.8" r="2.15"/><circle cx="544.4" cy="708.3" r="2.15"/><circle cx="538.7" cy="711.8" r="2.15"/><circle cx="540.2" cy="725.9" r="2.15"/><circle cx="540.8" cy="710.3" r="2.15"/><circle cx="539.0" cy="699.1" r="2.15"/><circle cx="540.3" cy="744.8" r="2.15"/><circle cx="539.2" cy="699.5" r="2.15"/><circle cx="540.7" cy="706.6" r="2.15"/><circle cx="543.8" cy="719.7" r="2.15"/><circle cx="541.4" cy="731.7" r="2.15"/><circle cx="541.5" cy="684.7" r="2.15"/><circle cx="540.1" cy="719.8" r="2.15"/><circle cx="545.6" cy="673.0" r="2.15"/><circle cx="540.6" cy="748.8" r="2.15"/><circle cx="546.4" cy="748.8" r="2.15"/><circle cx="543.9" cy="748.8" r="2.15"/><circle cx="543.5" cy="748.8" r="2.15"/></g>
<line x1="542.60" y1="680.50" x2="542.60" y2="704.90" stroke="#262626" stroke-width="1.0" />
<line x1="542.60" y1="723.30" x2="542.60" y2="745.40" stroke="#262626" stroke-width="1.0" />
<rect x="537.80" y="704.90" width="9.60" height="18.40" fill="none" stroke="#262626" stroke-width="1.0" />
<line x1="537.80" y1="713.30" x2="547.40" y2="713.30" stroke="#262626" stroke-width="1.3" />
<rect x="550.70" y="693.30" width="10.00" height="23.10" fill="#fcd7a4" fill-opacity="0.9" />
<g fill="#f6a11c" fill-opacity="0.8"><circle cx="558.2" cy="734.4" r="2.15"/><circle cx="556.6" cy="694.2" r="2.15"/><circle cx="555.8" cy="725.4" r="2.15"/><circle cx="556.4" cy="700.3" r="2.15"/><circle cx="554.6" cy="694.6" r="2.15"/><circle cx="551.6" cy="689.9" r="2.15"/><circle cx="551.8" cy="701.0" r="2.15"/><circle cx="559.7" cy="697.6" r="2.15"/><circle cx="558.8" cy="736.1" r="2.15"/><circle cx="553.9" cy="702.6" r="2.15"/><circle cx="559.2" cy="707.1" r="2.15"/><circle cx="555.9" cy="685.1" r="2.15"/><circle cx="552.1" cy="696.7" r="2.15"/><circle cx="558.9" cy="692.9" r="2.15"/><circle cx="556.5" cy="702.5" r="2.15"/><circle cx="559.6" cy="722.7" r="2.15"/><circle cx="557.3" cy="685.2" r="2.15"/><circle cx="552.0" cy="687.7" r="2.15"/><circle cx="556.8" cy="706.9" r="2.15"/><circle cx="558.3" cy="729.5" r="2.15"/><circle cx="559.3" cy="697.3" r="2.15"/><circle cx="554.2" cy="697.8" r="2.15"/><circle cx="556.0" cy="748.8" r="2.15"/><circle cx="557.5" cy="748.8" r="2.15"/><circle cx="552.7" cy="748.8" r="2.15"/></g>
<line x1="555.70" y1="673.30" x2="555.70" y2="693.30" stroke="#262626" stroke-width="1.0" />
<line x1="555.70" y1="716.40" x2="555.70" y2="737.70" stroke="#262626" stroke-width="1.0" />
<rect x="550.70" y="693.30" width="10.00" height="23.10" fill="none" stroke="#262626" stroke-width="1.0" />
<line x1="550.70" y1="697.50" x2="560.70" y2="697.50" stroke="#262626" stroke-width="1.3" />
<rect x="564.40" y="687.70" width="10.00" height="22.80" fill="#fcd7a4" fill-opacity="0.9" />
<g fill="#f6a11c" fill-opacity="0.8"><circle cx="572.0" cy="704.7" r="2.15"/><circle cx="571.1" cy="699.0" r="2.15"/><circle cx="568.0" cy="676.0" r="2.15"/><circle cx="572.3" cy="717.8" r="2.15"/><circle cx="572.5" cy="713.0" r="2.15"/><circle cx="565.3" cy="732.6" r="2.15"/><circle cx="566.3" cy="723.8" r="2.15"/><circle cx="566.9" cy="734.6" r="2.15"/><circle cx="565.0" cy="719.8" r="2.15"/><circle cx="571.7" cy="700.6" r="2.15"/><circle cx="570.7" cy="662.8" r="2.15"/><circle cx="569.8" cy="690.8" r="2.15"/><circle cx="573.9" cy="705.8" r="2.15"/><circle cx="568.1" cy="704.8" r="2.15"/><circle cx="566.7" cy="690.9" r="2.15"/><circle cx="565.9" cy="707.7" r="2.15"/><circle cx="568.0" cy="728.1" r="2.15"/><circle cx="572.4" cy="678.2" r="2.15"/><circle cx="570.4" cy="694.9" r="2.15"/><circle cx="565.4" cy="724.3" r="2.15"/><circle cx="568.8" cy="728.5" r="2.15"/><circle cx="565.3" cy="726.0" r="2.15"/><circle cx="570.5" cy="666.0" r="2.15"/><circle cx="566.0" cy="724.7" r="2.15"/><circle cx="566.5" cy="694.5" r="2.15"/><circle cx="570.7" cy="664.9" r="2.15"/><circle cx="572.4" cy="732.0" r="2.15"/><circle cx="570.5" cy="705.5" r="2.15"/><circle cx="567.5" cy="702.1" r="2.15"/><circle cx="570.7" cy="670.3" r="2.15"/><circle cx="567.3" cy="716.6" r="2.15"/><circle cx="565.0" cy="710.2" r="2.15"/><circle cx="567.4" cy="710.7" r="2.15"/><circle cx="571.1" cy="730.6" r="2.15"/><circle cx="570.5" cy="691.8" r="2.15"/><circle cx="566.6" cy="680.8" r="2.15"/><circle cx="572.5" cy="703.6" r="2.15"/><circle cx="572.4" cy="731.7" r="2.15"/><circle cx="567.4" cy="689.7" r="2.15"/><circle cx="573.5" cy="688.4" r="2.15"/><circle cx="567.3" cy="693.0" r="2.15"/><circle cx="565.5" cy="707.6" r="2.15"/><circle cx="569.5" cy="679.3" r="2.15"/><circle cx="572.7" cy="694.2" r="2.15"/><circle cx="570.3" cy="696.4" r="2.15"/><circle cx="569.8" cy="699.1" r="2.15"/><circle cx="569.3" cy="712.2" r="2.15"/><circle cx="567.5" cy="702.9" r="2.15"/><circle cx="567.6" cy="748.8" r="2.15"/><circle cx="568.5" cy="748.8" r="2.15"/><circle cx="569.8" cy="748.8" r="2.15"/><circle cx="573.4" cy="748.8" r="2.15"/></g>
<line x1="569.40" y1="661.70" x2="569.40" y2="687.70" stroke="#262626" stroke-width="1.0" />
<line x1="569.40" y1="710.50" x2="569.40" y2="735.50" stroke="#262626" stroke-width="1.0" />
<rect x="564.40" y="687.70" width="10.00" height="22.80" fill="none" stroke="#262626" stroke-width="1.0" />
<line x1="564.40" y1="701.30" x2="574.40" y2="701.30" stroke="#262626" stroke-width="1.3" />
<line x1="528.10" y1="657.20" x2="569.40" y2="657.20" stroke="#6a6a6a" stroke-width="0.9" />
<text x="548.8" y="658.8" font-size="9" text-anchor="middle" >***</text>
<line x1="528.10" y1="661.70" x2="555.00" y2="661.70" stroke="#6a6a6a" stroke-width="0.9" />
<text x="541.5" y="663.3" font-size="9" text-anchor="middle" >**</text>
<line x1="528.10" y1="666.40" x2="544.10" y2="666.40" stroke="#6a6a6a" stroke-width="0.9" />
<text x="536.1" y="668.0" font-size="9" text-anchor="middle" >*</text>
<line x1="614.70" y1="657.20" x2="614.70" y2="749.75" stroke="#7f7f7f" stroke-width="0.9" />
<line x1="614.25" y1="749.30" x2="671.30" y2="749.30" stroke="#7f7f7f" stroke-width="0.9" />
<line x1="612.20" y1="674.40" x2="614.70" y2="674.40" stroke="#7f7f7f" stroke-width="0.8" />
<text x="608.2" y="677.2" font-size="8.4" text-anchor="end" >0.195</text>
<line x1="612.20" y1="702.40" x2="614.70" y2="702.40" stroke="#7f7f7f" stroke-width="0.8" />
<text x="608.2" y="705.2" font-size="8.4" text-anchor="end" >0.049</text>
<line x1="612.20" y1="729.40" x2="614.70" y2="729.40" stroke="#7f7f7f" stroke-width="0.8" />
<text x="608.2" y="732.2" font-size="8.4" text-anchor="end" >0.012</text>
<line x1="622.20" y1="749.30" x2="622.20" y2="751.80" stroke="#7f7f7f" stroke-width="0.8" />
<text x="622.2" y="761.3" font-size="8.0" text-anchor="middle" >O</text>
<line x1="636.10" y1="749.30" x2="636.10" y2="751.80" stroke="#7f7f7f" stroke-width="0.8" />
<text x="636.1" y="761.3" font-size="8.0" text-anchor="middle" >I,II</text>
<line x1="649.40" y1="749.30" x2="649.40" y2="751.80" stroke="#7f7f7f" stroke-width="0.8" />
<text x="649.4" y="761.3" font-size="8.0" text-anchor="middle" >III</text>
<line x1="663.30" y1="749.30" x2="663.30" y2="751.80" stroke="#7f7f7f" stroke-width="0.8" />
<text x="663.3" y="761.3" font-size="8.0" text-anchor="middle" >IV</text>
<rect x="617.40" y="713.30" width="10.40" height="19.40" fill="#b5d8d8" fill-opacity="0.9" />
<g fill="#1f8b8b" fill-opacity="0.8"><circle cx="625.2" cy="731.8" r="2.15"/><circle cx="626.9" cy="723.2" r="2.15"/><circle cx="618.8" cy="739.0" r="2.15"/><circle cx="618.8" cy="729.2" r="2.15"/><circle cx="625.0" cy="739.4" r="2.15"/><circle cx="620.9" cy="741.7" r="2.15"/><circle cx="621.5" cy="731.3" r="2.15"/><circle cx="626.1" cy="737.7" r="2.15"/><circle cx="624.9" cy="730.3" r="2.15"/><circle cx="624.1" cy="713.5" r="2.15"/><circle cx="626.0" cy="740.8" r="2.15"/><circle cx="624.8" cy="718.0" r="2.15"/><circle cx="625.5" cy="737.0" r="2.15"/><circle cx="623.9" cy="711.0" r="2.15"/><circle cx="623.5" cy="713.8" r="2.15"/><circle cx="618.5" cy="734.2" r="2.15"/><circle cx="626.4" cy="708.3" r="2.15"/><circle cx="626.5" cy="714.5" r="2.15"/><circle cx="621.2" cy="739.3" r="2.15"/><circle cx="623.8" cy="726.4" r="2.15"/><circle cx="618.1" cy="715.2" r="2.15"/><circle cx="622.6" cy="704.4" r="2.15"/><circle cx="623.8" cy="735.6" r="2.15"/><circle cx="620.7" cy="732.6" r="2.15"/><circle cx="621.8" cy="748.8" r="2.15"/><circle cx="625.7" cy="748.8" r="2.15"/><circle cx="619.3" cy="748.8" r="2.15"/><circle cx="622.2" cy="748.8" r="2.15"/></g>
<line x1="622.60" y1="700.50" x2="622.60" y2="713.30" stroke="#262626" stroke-width="1.0" />
<line x1="622.60" y1="732.70" x2="622.60" y2="742.10" stroke="#262626" stroke-width="1.0" />
<rect x="617.40" y="713.30" width="10.40" height="19.40" fill="none" stroke="#262626" stroke-width="1.0" />
<line x1="617.40" y1="722.70" x2="627.80" y2="722.70" stroke="#262626" stroke-width="1.3" />
<rect x="631.30" y="704.40" width="10.00" height="23.00" fill="#b5d8d8" fill-opacity="0.9" />
<g fill="#1f8b8b" fill-opacity="0.8"><circle cx="634.3" cy="685.4" r="2.15"/><circle cx="632.8" cy="722.6" r="2.15"/><circle cx="635.0" cy="714.1" r="2.15"/><circle cx="632.4" cy="689.3" r="2.15"/><circle cx="634.8" cy="729.2" r="2.15"/><circle cx="639.6" cy="718.5" r="2.15"/><circle cx="633.5" cy="714.4" r="2.15"/><circle cx="634.5" cy="677.3" r="2.15"/><circle cx="638.8" cy="746.0" r="2.15"/><circle cx="633.6" cy="742.9" r="2.15"/><circle cx="632.8" cy="725.2" r="2.15"/><circle cx="634.0" cy="694.1" r="2.15"/><circle cx="637.3" cy="691.6" r="2.15"/><circle cx="638.2" cy="737.2" r="2.15"/><circle cx="637.9" cy="681.1" r="2.15"/><circle cx="632.4" cy="717.7" r="2.15"/><circle cx="634.4" cy="674.4" r="2.15"/><circle cx="632.8" cy="679.0" r="2.15"/><circle cx="636.8" cy="740.8" r="2.15"/><circle cx="635.1" cy="673.5" r="2.15"/><circle cx="638.6" cy="720.1" r="2.15"/><circle cx="636.9" cy="735.4" r="2.15"/><circle cx="637.0" cy="720.5" r="2.15"/><circle cx="633.3" cy="742.4" r="2.15"/><circle cx="636.7" cy="704.5" r="2.15"/><circle cx="632.4" cy="716.7" r="2.15"/><circle cx="632.7" cy="739.4" r="2.15"/><circle cx="639.5" cy="729.4" r="2.15"/><circle cx="633.4" cy="719.0" r="2.15"/><circle cx="631.8" cy="700.5" r="2.15"/><circle cx="637.3" cy="667.0" r="2.15"/><circle cx="637.8" cy="671.0" r="2.15"/><circle cx="638.2" cy="748.8" r="2.15"/><circle cx="633.5" cy="748.8" r="2.15"/><circle cx="634.5" cy="748.8" r="2.15"/></g>
<line x1="636.30" y1="670.00" x2="636.30" y2="704.40" stroke="#262626" stroke-width="1.0" />
<line x1="636.30" y1="727.40" x2="636.30" y2="748.80" stroke="#262626" stroke-width="1.0" />
<rect x="631.30" y="704.40" width="10.00" height="23.00" fill="none" stroke="#262626" stroke-width="1.0" />
<line x1="631.30" y1="719.40" x2="641.30" y2="719.40" stroke="#262626" stroke-width="1.3" />
<rect x="644.30" y="701.40" width="10.30" height="27.40" fill="#b5d8d8" fill-opacity="0.9" />
<g fill="#1f8b8b" fill-opacity="0.8"><circle cx="645.1" cy="722.1" r="2.15"/><circle cx="647.9" cy="717.0" r="2.15"/><circle cx="648.2" cy="715.4" r="2.15"/><circle cx="648.4" cy="722.7" r="2.15"/><circle cx="649.8" cy="711.9" r="2.15"/><circle cx="647.2" cy="719.5" r="2.15"/><circle cx="650.8" cy="742.3" r="2.15"/><circle cx="653.0" cy="717.7" r="2.15"/><circle cx="653.4" cy="743.4" r="2.15"/><circle cx="652.7" cy="738.3" r="2.15"/><circle cx="646.8" cy="727.9" r="2.15"/><circle cx="651.7" cy="669.1" r="2.15"/><circle cx="652.0" cy="713.6" r="2.15"/><circle cx="650.4" cy="710.3" r="2.15"/><circle cx="651.1" cy="676.3" r="2.15"/><circle cx="647.5" cy="679.1" r="2.15"/><circle cx="652.0" cy="709.4" r="2.15"/><circle cx="647.0" cy="730.1" r="2.15"/><circle cx="650.0" cy="711.4" r="2.15"/><circle cx="647.2" cy="721.6" r="2.15"/><circle cx="649.8" cy="670.2" r="2.15"/><circle cx="645.2" cy="742.8" r="2.15"/><circle cx="647.7" cy="720.7" r="2.15"/><circle cx="652.0" cy="704.1" r="2.15"/><circle cx="647.2" cy="708.0" r="2.15"/><circle cx="651.6" cy="709.9" r="2.15"/><circle cx="652.2" cy="699.6" r="2.15"/><circle cx="650.4" cy="729.5" r="2.15"/><circle cx="650.6" cy="687.8" r="2.15"/><circle cx="646.7" cy="676.7" r="2.15"/><circle cx="646.5" cy="663.5" r="2.15"/><circle cx="649.3" cy="748.8" r="2.15"/><circle cx="653.7" cy="748.8" r="2.15"/><circle cx="653.9" cy="748.8" r="2.15"/><circle cx="650.0" cy="748.8" r="2.15"/></g>
<line x1="649.45" y1="663.90" x2="649.45" y2="701.40" stroke="#262626" stroke-width="1.0" />
<line x1="649.45" y1="728.80" x2="649.45" y2="744.90" stroke="#262626" stroke-width="1.0" />
<rect x="644.30" y="701.40" width="10.30" height="27.40" fill="none" stroke="#262626" stroke-width="1.0" />
<line x1="644.30" y1="712.40" x2="654.60" y2="712.40" stroke="#262626" stroke-width="1.3" />
<rect x="658.50" y="698.50" width="10.00" height="17.90" fill="#b5d8d8" fill-opacity="0.9" />
<g fill="#1f8b8b" fill-opacity="0.8"><circle cx="662.0" cy="702.1" r="2.15"/><circle cx="663.8" cy="728.3" r="2.15"/><circle cx="661.9" cy="699.2" r="2.15"/><circle cx="662.9" cy="713.6" r="2.15"/><circle cx="666.0" cy="680.3" r="2.15"/><circle cx="666.0" cy="722.2" r="2.15"/><circle cx="662.8" cy="697.3" r="2.15"/><circle cx="667.0" cy="724.9" r="2.15"/><circle cx="659.0" cy="677.7" r="2.15"/><circle cx="664.2" cy="686.6" r="2.15"/><circle cx="665.2" cy="730.8" r="2.15"/><circle cx="662.6" cy="700.3" r="2.15"/><circle cx="662.9" cy="719.6" r="2.15"/><circle cx="661.3" cy="702.8" r="2.15"/><circle cx="665.9" cy="688.8" r="2.15"/><circle cx="660.7" cy="726.0" r="2.15"/><circle cx="664.1" cy="719.7" r="2.15"/><circle cx="665.4" cy="734.2" r="2.15"/><circle cx="666.5" cy="735.2" r="2.15"/><circle cx="667.4" cy="703.1" r="2.15"/><circle cx="660.5" cy="725.2" r="2.15"/><circle cx="660.4" cy="728.6" r="2.15"/><circle cx="661.5" cy="699.4" r="2.15"/><circle cx="666.4" cy="714.2" r="2.15"/><circle cx="664.2" cy="711.6" r="2.15"/><circle cx="665.6" cy="711.7" r="2.15"/><circle cx="662.9" cy="689.7" r="2.15"/><circle cx="663.7" cy="715.2" r="2.15"/><circle cx="667.8" cy="700.3" r="2.15"/><circle cx="662.5" cy="680.6" r="2.15"/><circle cx="662.9" cy="701.7" r="2.15"/><circle cx="664.9" cy="714.6" r="2.15"/><circle cx="666.8" cy="727.7" r="2.15"/><circle cx="667.1" cy="700.2" r="2.15"/><circle cx="663.8" cy="723.9" r="2.15"/><circle cx="659.4" cy="708.3" r="2.15"/><circle cx="659.9" cy="692.2" r="2.15"/><circle cx="659.2" cy="695.4" r="2.15"/><circle cx="659.0" cy="714.9" r="2.15"/><circle cx="664.8" cy="710.2" r="2.15"/><circle cx="662.3" cy="714.3" r="2.15"/><circle cx="659.8" cy="714.2" r="2.15"/><circle cx="666.3" cy="703.2" r="2.15"/><circle cx="664.4" cy="729.9" r="2.15"/><circle cx="663.6" cy="730.0" r="2.15"/><circle cx="666.6" cy="726.8" r="2.15"/><circle cx="659.9" cy="748.8" r="2.15"/><circle cx="663.1" cy="748.8" r="2.15"/><circle cx="664.3" cy="748.8" r="2.15"/><circle cx="663.3" cy="748.8" r="2.15"/></g>
<line x1="663.50" y1="674.40" x2="663.50" y2="698.50" stroke="#262626" stroke-width="1.0" />
<line x1="663.50" y1="716.40" x2="663.50" y2="741.60" stroke="#262626" stroke-width="1.0" />
<rect x="658.50" y="698.50" width="10.00" height="17.90" fill="none" stroke="#262626" stroke-width="1.0" />
<line x1="658.50" y1="703.00" x2="668.50" y2="703.00" stroke="#262626" stroke-width="1.3" />
<line x1="621.10" y1="656.30" x2="662.70" y2="656.30" stroke="#6a6a6a" stroke-width="0.9" />
<text x="641.9" y="657.9" font-size="9" text-anchor="middle" >***</text>
<line x1="621.10" y1="661.10" x2="649.60" y2="661.10" stroke="#6a6a6a" stroke-width="0.9" />
<text x="635.4" y="662.7" font-size="9" text-anchor="middle" >**</text>
<line x1="621.10" y1="666.40" x2="635.70" y2="666.40" stroke="#6a6a6a" stroke-width="0.9" />
<text x="628.4" y="668.0" font-size="9" text-anchor="middle" >**</text>
<text x="474.5" y="703.1" font-size="9.3" textLength="46" lengthAdjust="spacingAndGlyphs" text-anchor="middle" transform="rotate(-90 474.5 703.1)" >Proportion</text>
<text x="485.5" y="703.4" font-size="9.3" textLength="47.6" lengthAdjust="spacingAndGlyphs" text-anchor="middle" transform="rotate(-90 485.5 703.4)" >(log. scale)</text>
<text x="595.5" y="775.2" font-size="9.3" textLength="25.7" lengthAdjust="spacingAndGlyphs" text-anchor="middle" >GOLD</text>
<text x="1.5" y="801.5" font-size="14.5" font-weight="bold" fill="#000" >j</text>
<text x="48.4" y="803.3" font-size="9.8" >AM<tspan font-size="7.06" dy="2.94">p21</tspan></text>
<line x1="32.50" y1="816.40" x2="32.50" y2="908.95" stroke="#7f7f7f" stroke-width="0.9" />
<line x1="32.05" y1="908.50" x2="94.60" y2="908.50" stroke="#7f7f7f" stroke-width="0.9" />
<line x1="30.00" y1="836.60" x2="32.50" y2="836.60" stroke="#7f7f7f" stroke-width="0.8" />
<text x="26.0" y="839.5" font-size="8.4" text-anchor="end" >6.2</text>
<line x1="30.00" y1="864.50" x2="32.50" y2="864.50" stroke="#7f7f7f" stroke-width="0.8" />
<text x="26.0" y="867.4" font-size="8.4" text-anchor="end" >1.6</text>
<line x1="30.00" y1="893.10" x2="32.50" y2="893.10" stroke="#7f7f7f" stroke-width="0.8" />
<text x="26.0" y="896.0" font-size="8.4" text-anchor="end" >0.4</text>
<line x1="44.40" y1="908.50" x2="44.40" y2="911.00" stroke="#7f7f7f" stroke-width="0.8" />
<text x="44.4" y="920.5" font-size="8.0" text-anchor="middle" >N</text>
<line x1="63.80" y1="908.50" x2="63.80" y2="911.00" stroke="#7f7f7f" stroke-width="0.8" />
<text x="63.8" y="920.5" font-size="8.0" text-anchor="middle" >F</text>
<line x1="83.30" y1="908.50" x2="83.30" y2="911.00" stroke="#7f7f7f" stroke-width="0.8" />
<text x="83.3" y="920.5" font-size="8.0" text-anchor="middle" >C</text>
<rect x="37.25" y="860.20" width="14.30" height="16.00" fill="#f8cdc6" fill-opacity="0.9" />
<g fill="#f0675a" fill-opacity="0.8"><circle cx="45.0" cy="876.7" r="2.15"/><circle cx="46.1" cy="865.5" r="2.15"/><circle cx="45.5" cy="882.5" r="2.15"/><circle cx="42.6" cy="858.7" r="2.15"/><circle cx="50.8" cy="877.5" r="2.15"/><circle cx="43.2" cy="864.4" r="2.15"/><circle cx="50.6" cy="856.5" r="2.15"/><circle cx="48.9" cy="869.9" r="2.15"/><circle cx="38.3" cy="855.7" r="2.15"/><circle cx="41.3" cy="860.6" r="2.15"/><circle cx="42.4" cy="906.0" r="2.15"/><circle cx="45.4" cy="908.0" r="2.15"/></g>
<line x1="44.40" y1="855.00" x2="44.40" y2="860.20" stroke="#262626" stroke-width="1.0" />
<line x1="44.40" y1="876.20" x2="44.40" y2="894.00" stroke="#262626" stroke-width="1.0" />
<rect x="37.25" y="860.20" width="14.30" height="16.00" fill="none" stroke="#262626" stroke-width="1.0" />
<line x1="37.25" y1="865.50" x2="51.55" y2="865.50" stroke="#262626" stroke-width="1.3" />
<rect x="56.30" y="848.30" width="15.10" height="16.20" fill="#f8cdc6" fill-opacity="0.55" />
<g fill="#f0675a" fill-opacity="0.8"><circle cx="67.1" cy="830.0" r="2.15"/><circle cx="65.3" cy="883.9" r="2.15"/><circle cx="63.9" cy="849.4" r="2.15"/><circle cx="66.2" cy="859.7" r="2.15"/><circle cx="59.1" cy="833.0" r="2.15"/><circle cx="63.3" cy="861.3" r="2.15"/><circle cx="57.7" cy="834.8" r="2.15"/><circle cx="64.5" cy="873.5" r="2.15"/><circle cx="67.8" cy="828.7" r="2.15"/><circle cx="59.1" cy="861.2" r="2.15"/><circle cx="66.4" cy="871.1" r="2.15"/><circle cx="70.6" cy="862.5" r="2.15"/><circle cx="61.5" cy="853.6" r="2.15"/><circle cx="59.9" cy="885.9" r="2.15"/><circle cx="60.5" cy="861.7" r="2.15"/><circle cx="68.4" cy="888.2" r="2.15"/><circle cx="58.1" cy="882.4" r="2.15"/><circle cx="67.6" cy="872.4" r="2.15"/><circle cx="60.6" cy="866.4" r="2.15"/><circle cx="67.3" cy="864.0" r="2.15"/><circle cx="69.1" cy="846.0" r="2.15"/><circle cx="68.6" cy="861.1" r="2.15"/><circle cx="59.7" cy="839.7" r="2.15"/><circle cx="64.5" cy="836.4" r="2.15"/><circle cx="61.4" cy="836.7" r="2.15"/><circle cx="68.9" cy="832.5" r="2.15"/><circle cx="61.1" cy="856.0" r="2.15"/><circle cx="59.3" cy="851.8" r="2.15"/><circle cx="62.6" cy="837.8" r="2.15"/><circle cx="58.2" cy="857.5" r="2.15"/><circle cx="60.1" cy="875.2" r="2.15"/><circle cx="66.6" cy="858.5" r="2.15"/><circle cx="61.5" cy="858.1" r="2.15"/><circle cx="59.6" cy="871.5" r="2.15"/><circle cx="69.8" cy="880.1" r="2.15"/><circle cx="60.6" cy="871.0" r="2.15"/><circle cx="67.9" cy="850.6" r="2.15"/><circle cx="66.4" cy="843.3" r="2.15"/><circle cx="64.6" cy="852.4" r="2.15"/><circle cx="65.9" cy="860.9" r="2.15"/><circle cx="64.9" cy="886.5" r="2.15"/><circle cx="68.5" cy="888.9" r="2.15"/><circle cx="66.5" cy="852.5" r="2.15"/><circle cx="60.7" cy="858.1" r="2.15"/><circle cx="66.0" cy="860.3" r="2.15"/><circle cx="63.9" cy="872.3" r="2.15"/><circle cx="69.6" cy="877.1" r="2.15"/><circle cx="58.6" cy="871.4" r="2.15"/><circle cx="63.2" cy="876.5" r="2.15"/><circle cx="70.2" cy="855.0" r="2.15"/><circle cx="58.0" cy="863.3" r="2.15"/><circle cx="66.9" cy="857.0" r="2.15"/><circle cx="69.3" cy="860.8" r="2.15"/><circle cx="65.3" cy="857.3" r="2.15"/><circle cx="57.8" cy="848.6" r="2.15"/><circle cx="67.6" cy="845.9" r="2.15"/><circle cx="60.6" cy="874.4" r="2.15"/><circle cx="64.1" cy="831.5" r="2.15"/><circle cx="68.2" cy="840.1" r="2.15"/><circle cx="61.3" cy="842.7" r="2.15"/><circle cx="60.4" cy="860.4" r="2.15"/><circle cx="58.6" cy="832.1" r="2.15"/><circle cx="61.7" cy="843.3" r="2.15"/><circle cx="58.4" cy="865.6" r="2.15"/><circle cx="66.5" cy="851.1" r="2.15"/><circle cx="68.3" cy="840.4" r="2.15"/><circle cx="57.8" cy="848.1" r="2.15"/><circle cx="64.2" cy="836.3" r="2.15"/><circle cx="67.8" cy="858.1" r="2.15"/><circle cx="67.6" cy="851.8" r="2.15"/><circle cx="60.7" cy="881.8" r="2.15"/><circle cx="64.3" cy="852.1" r="2.15"/><circle cx="66.3" cy="874.8" r="2.15"/><circle cx="64.1" cy="849.4" r="2.15"/><circle cx="70.6" cy="836.1" r="2.15"/><circle cx="69.4" cy="862.0" r="2.15"/><circle cx="70.2" cy="882.3" r="2.15"/><circle cx="58.8" cy="885.0" r="2.15"/><circle cx="57.4" cy="858.7" r="2.15"/><circle cx="65.1" cy="873.8" r="2.15"/><circle cx="60.9" cy="890.0" r="2.15"/><circle cx="65.8" cy="894.0" r="2.15"/><circle cx="62.9" cy="899.0" r="2.15"/><circle cx="63.9" cy="903.0" r="2.15"/><circle cx="64.9" cy="908.0" r="2.15"/><circle cx="60.7" cy="908.0" r="2.15"/><circle cx="60.4" cy="908.0" r="2.15"/><circle cx="67.7" cy="908.0" r="2.15"/></g>
<line x1="63.85" y1="828.30" x2="63.85" y2="848.30" stroke="#262626" stroke-width="1.0" />
<line x1="63.85" y1="864.50" x2="63.85" y2="889.30" stroke="#262626" stroke-width="1.0" />
<rect x="56.30" y="848.30" width="15.10" height="16.20" fill="none" stroke="#262626" stroke-width="1.0" />
<line x1="56.30" y1="859.40" x2="71.40" y2="859.40" stroke="#262626" stroke-width="1.3" />
<rect x="76.30" y="830.00" width="14.60" height="21.50" fill="#f8cdc6" fill-opacity="0.9" />
<g fill="#f0675a" fill-opacity="0.8"><circle cx="79.3" cy="836.1" r="2.15"/><circle cx="90.1" cy="824.3" r="2.15"/><circle cx="86.8" cy="843.2" r="2.15"/><circle cx="80.5" cy="831.8" r="2.15"/><circle cx="86.8" cy="822.4" r="2.15"/><circle cx="79.3" cy="840.5" r="2.15"/><circle cx="81.8" cy="830.7" r="2.15"/><circle cx="82.8" cy="831.0" r="2.15"/><circle cx="80.0" cy="825.6" r="2.15"/><circle cx="78.8" cy="866.2" r="2.15"/><circle cx="92.1" cy="820.5" r="2.15"/><circle cx="81.6" cy="850.0" r="2.15"/><circle cx="84.1" cy="868.5" r="2.15"/></g>
<line x1="83.60" y1="819.90" x2="83.60" y2="830.00" stroke="#262626" stroke-width="1.0" />
<line x1="83.60" y1="851.50" x2="83.60" y2="868.70" stroke="#262626" stroke-width="1.0" />
<rect x="76.30" y="830.00" width="14.60" height="21.50" fill="none" stroke="#262626" stroke-width="1.0" />
<line x1="76.30" y1="841.40" x2="90.90" y2="841.40" stroke="#262626" stroke-width="1.3" />
<line x1="42.30" y1="814.30" x2="83.20" y2="814.30" stroke="#6a6a6a" stroke-width="0.9" />
<text x="62.8" y="815.9" font-size="9" text-anchor="middle" >***</text>
<line x1="42.30" y1="820.10" x2="63.50" y2="820.10" stroke="#6a6a6a" stroke-width="0.9" />
<text x="52.9" y="821.7" font-size="9" text-anchor="middle" >***</text>
<text x="7.4" y="863.0" font-size="9.3" textLength="98.1" lengthAdjust="spacingAndGlyphs" text-anchor="middle" transform="rotate(-90 7.4 863.0)" >Proportion (log. scale)</text>
<text x="64.0" y="934.1" font-size="9.3" textLength="38.6" lengthAdjust="spacingAndGlyphs" text-anchor="middle" >Smoking</text>
<text x="115.6" y="801.5" font-size="14.5" font-weight="bold" fill="#000" >k</text>
<text x="171.0" y="803.3" font-size="9.8" >AM<tspan font-size="7.06" dy="2.94">p21</tspan></text>
<line x1="151.40" y1="818.30" x2="151.40" y2="900.55" stroke="#7f7f7f" stroke-width="0.9" />
<line x1="150.95" y1="900.10" x2="214.40" y2="900.10" stroke="#7f7f7f" stroke-width="0.9" />
<line x1="148.90" y1="826.40" x2="151.40" y2="826.40" stroke="#7f7f7f" stroke-width="0.8" />
<text x="144.9" y="829.2" font-size="8.4" text-anchor="end" >3.12</text>
<line x1="148.90" y1="845.20" x2="151.40" y2="845.20" stroke="#7f7f7f" stroke-width="0.8" />
<text x="144.9" y="848.1" font-size="8.4" text-anchor="end" >0.78</text>
<line x1="148.90" y1="863.50" x2="151.40" y2="863.50" stroke="#7f7f7f" stroke-width="0.8" />
<text x="144.9" y="866.4" font-size="8.4" text-anchor="end" >0.20</text>
<line x1="148.90" y1="882.40" x2="151.40" y2="882.40" stroke="#7f7f7f" stroke-width="0.8" />
<text x="144.9" y="885.2" font-size="8.4" text-anchor="end" >0.05</text>
<line x1="160.30" y1="900.10" x2="160.30" y2="902.60" stroke="#7f7f7f" stroke-width="0.8" />
<text x="163.9" y="908.8" font-size="8.0" text-anchor="end" transform="rotate(-45 163.9 908.8)" >None</text>
<line x1="175.30" y1="900.10" x2="175.30" y2="902.60" stroke="#7f7f7f" stroke-width="0.8" />
<text x="178.9" y="908.8" font-size="8.0" text-anchor="end" transform="rotate(-45 178.9 908.8)" >&lt;50%</text>
<line x1="190.50" y1="900.10" x2="190.50" y2="902.60" stroke="#7f7f7f" stroke-width="0.8" />
<text x="194.1" y="908.8" font-size="8.0" text-anchor="end" transform="rotate(-45 194.1 908.8)" >50–75%</text>
<line x1="205.50" y1="900.10" x2="205.50" y2="902.60" stroke="#7f7f7f" stroke-width="0.8" />
<text x="209.1" y="908.8" font-size="8.0" text-anchor="end" transform="rotate(-45 209.1 908.8)" >&gt;75%</text>
<rect x="154.40" y="859.20" width="11.50" height="12.20" fill="#f8cdc6" fill-opacity="0.55" />
<g fill="#f0675a" fill-opacity="0.8"><circle cx="157.5" cy="848.1" r="2.15"/><circle cx="165.1" cy="877.7" r="2.15"/><circle cx="162.2" cy="862.8" r="2.15"/><circle cx="159.6" cy="864.3" r="2.15"/><circle cx="161.0" cy="845.0" r="2.15"/><circle cx="165.1" cy="867.4" r="2.15"/><circle cx="157.4" cy="865.4" r="2.15"/><circle cx="161.5" cy="862.4" r="2.15"/><circle cx="155.1" cy="867.4" r="2.15"/><circle cx="160.0" cy="848.2" r="2.15"/><circle cx="157.4" cy="850.5" r="2.15"/><circle cx="158.5" cy="859.7" r="2.15"/><circle cx="159.0" cy="882.3" r="2.15"/><circle cx="159.4" cy="842.9" r="2.15"/><circle cx="164.2" cy="862.9" r="2.15"/><circle cx="158.7" cy="862.0" r="2.15"/><circle cx="155.2" cy="863.0" r="2.15"/><circle cx="163.6" cy="863.5" r="2.15"/><circle cx="164.5" cy="846.9" r="2.15"/><circle cx="163.7" cy="870.7" r="2.15"/><circle cx="158.0" cy="877.5" r="2.15"/><circle cx="158.6" cy="842.2" r="2.15"/><circle cx="162.9" cy="871.1" r="2.15"/><circle cx="155.8" cy="870.5" r="2.15"/><circle cx="155.6" cy="865.7" r="2.15"/><circle cx="160.2" cy="849.2" r="2.15"/><circle cx="157.4" cy="867.6" r="2.15"/><circle cx="159.8" cy="884.8" r="2.15"/><circle cx="156.6" cy="870.9" r="2.15"/><circle cx="164.9" cy="872.6" r="2.15"/><circle cx="160.1" cy="884.3" r="2.15"/><circle cx="158.6" cy="849.5" r="2.15"/><circle cx="158.1" cy="859.5" r="2.15"/><circle cx="157.8" cy="877.8" r="2.15"/><circle cx="156.7" cy="893.0" r="2.15"/><circle cx="163.1" cy="899.3" r="2.15"/><circle cx="163.2" cy="899.3" r="2.15"/><circle cx="163.2" cy="899.3" r="2.15"/></g>
<line x1="160.15" y1="842.20" x2="160.15" y2="859.20" stroke="#262626" stroke-width="1.0" />
<line x1="160.15" y1="871.40" x2="160.15" y2="885.50" stroke="#262626" stroke-width="1.0" />
<rect x="154.40" y="859.20" width="11.50" height="12.20" fill="none" stroke="#262626" stroke-width="1.0" />
<line x1="154.40" y1="863.80" x2="165.90" y2="863.80" stroke="#262626" stroke-width="1.3" />
<rect x="169.40" y="846.30" width="11.40" height="18.30" fill="#f8cdc6" fill-opacity="0.55" />
<g fill="#f0675a" fill-opacity="0.8"><circle cx="174.2" cy="871.9" r="2.15"/><circle cx="173.1" cy="827.0" r="2.15"/><circle cx="178.5" cy="869.2" r="2.15"/><circle cx="171.1" cy="846.6" r="2.15"/><circle cx="179.6" cy="837.5" r="2.15"/><circle cx="173.2" cy="846.4" r="2.15"/><circle cx="173.7" cy="862.4" r="2.15"/><circle cx="172.1" cy="860.4" r="2.15"/><circle cx="174.8" cy="847.2" r="2.15"/><circle cx="178.6" cy="825.5" r="2.15"/><circle cx="172.2" cy="849.1" r="2.15"/><circle cx="175.7" cy="852.9" r="2.15"/><circle cx="174.5" cy="858.9" r="2.15"/><circle cx="173.1" cy="858.1" r="2.15"/><circle cx="171.3" cy="847.3" r="2.15"/><circle cx="177.1" cy="857.2" r="2.15"/><circle cx="174.2" cy="853.1" r="2.15"/><circle cx="174.8" cy="850.1" r="2.15"/><circle cx="176.2" cy="850.0" r="2.15"/><circle cx="171.1" cy="874.1" r="2.15"/><circle cx="178.4" cy="865.5" r="2.15"/><circle cx="179.1" cy="847.7" r="2.15"/><circle cx="172.6" cy="852.0" r="2.15"/><circle cx="178.3" cy="837.8" r="2.15"/><circle cx="177.1" cy="873.6" r="2.15"/><circle cx="173.0" cy="865.4" r="2.15"/><circle cx="172.7" cy="854.1" r="2.15"/><circle cx="170.8" cy="846.4" r="2.15"/><circle cx="174.2" cy="867.1" r="2.15"/><circle cx="174.6" cy="844.9" r="2.15"/><circle cx="173.1" cy="821.0" r="2.15"/><circle cx="175.0" cy="899.3" r="2.15"/></g>
<line x1="175.10" y1="822.20" x2="175.10" y2="846.30" stroke="#262626" stroke-width="1.0" />
<line x1="175.10" y1="864.60" x2="175.10" y2="876.00" stroke="#262626" stroke-width="1.0" />
<rect x="169.40" y="846.30" width="11.40" height="18.30" fill="none" stroke="#262626" stroke-width="1.0" />
<line x1="169.40" y1="854.20" x2="180.80" y2="854.20" stroke="#262626" stroke-width="1.3" />
<rect x="184.40" y="850.30" width="11.60" height="18.90" fill="#f8cdc6" fill-opacity="0.55" />
<g fill="#f0675a" fill-opacity="0.8"><circle cx="185.0" cy="833.7" r="2.15"/><circle cx="190.8" cy="859.1" r="2.15"/><circle cx="191.3" cy="862.7" r="2.15"/><circle cx="189.0" cy="860.8" r="2.15"/><circle cx="188.7" cy="848.9" r="2.15"/><circle cx="193.3" cy="832.0" r="2.15"/><circle cx="187.0" cy="864.2" r="2.15"/><circle cx="189.8" cy="870.7" r="2.15"/><circle cx="190.2" cy="865.6" r="2.15"/><circle cx="185.4" cy="883.9" r="2.15"/><circle cx="194.4" cy="855.3" r="2.15"/><circle cx="186.9" cy="831.7" r="2.15"/><circle cx="193.2" cy="872.7" r="2.15"/><circle cx="189.9" cy="849.6" r="2.15"/><circle cx="185.1" cy="872.4" r="2.15"/><circle cx="188.1" cy="836.5" r="2.15"/><circle cx="191.1" cy="859.3" r="2.15"/><circle cx="189.8" cy="865.3" r="2.15"/><circle cx="194.5" cy="886.9" r="2.15"/><circle cx="185.3" cy="876.8" r="2.15"/><circle cx="193.6" cy="838.6" r="2.15"/><circle cx="194.0" cy="874.3" r="2.15"/><circle cx="186.7" cy="856.6" r="2.15"/><circle cx="190.3" cy="859.2" r="2.15"/><circle cx="185.5" cy="863.5" r="2.15"/><circle cx="191.0" cy="852.0" r="2.15"/><circle cx="192.2" cy="879.2" r="2.15"/><circle cx="188.0" cy="854.0" r="2.15"/><circle cx="193.2" cy="884.3" r="2.15"/><circle cx="187.5" cy="872.1" r="2.15"/><circle cx="185.6" cy="853.8" r="2.15"/><circle cx="190.0" cy="874.0" r="2.15"/><circle cx="192.8" cy="878.5" r="2.15"/><circle cx="188.1" cy="862.0" r="2.15"/><circle cx="187.2" cy="855.4" r="2.15"/><circle cx="191.8" cy="889.0" r="2.15"/><circle cx="192.0" cy="853.8" r="2.15"/><circle cx="186.4" cy="858.0" r="2.15"/><circle cx="186.7" cy="889.3" r="2.15"/><circle cx="191.5" cy="858.7" r="2.15"/><circle cx="193.2" cy="899.3" r="2.15"/></g>
<line x1="190.20" y1="831.10" x2="190.20" y2="850.30" stroke="#262626" stroke-width="1.0" />
<line x1="190.20" y1="869.20" x2="190.20" y2="889.40" stroke="#262626" stroke-width="1.0" />
<rect x="184.40" y="850.30" width="11.60" height="18.90" fill="none" stroke="#262626" stroke-width="1.0" />
<line x1="184.40" y1="861.90" x2="196.00" y2="861.90" stroke="#262626" stroke-width="1.3" />
<rect x="199.40" y="856.30" width="11.60" height="17.00" fill="#f8cdc6" fill-opacity="0.55" />
<g fill="#f0675a" fill-opacity="0.8"><circle cx="204.8" cy="891.7" r="2.15"/><circle cx="206.0" cy="861.5" r="2.15"/><circle cx="203.2" cy="893.8" r="2.15"/><circle cx="210.4" cy="863.9" r="2.15"/><circle cx="203.6" cy="838.4" r="2.15"/><circle cx="203.8" cy="871.9" r="2.15"/><circle cx="206.2" cy="838.6" r="2.15"/><circle cx="202.7" cy="860.0" r="2.15"/><circle cx="204.9" cy="845.7" r="2.15"/><circle cx="201.6" cy="893.8" r="2.15"/><circle cx="200.6" cy="856.8" r="2.15"/><circle cx="207.1" cy="863.9" r="2.15"/><circle cx="202.9" cy="861.0" r="2.15"/><circle cx="201.7" cy="868.7" r="2.15"/><circle cx="202.7" cy="838.4" r="2.15"/><circle cx="204.3" cy="859.4" r="2.15"/><circle cx="201.5" cy="857.1" r="2.15"/><circle cx="207.2" cy="858.5" r="2.15"/><circle cx="207.5" cy="862.9" r="2.15"/><circle cx="210.1" cy="851.3" r="2.15"/><circle cx="200.4" cy="860.6" r="2.15"/><circle cx="203.3" cy="862.3" r="2.15"/><circle cx="207.0" cy="883.1" r="2.15"/><circle cx="208.8" cy="862.6" r="2.15"/><circle cx="202.6" cy="881.8" r="2.15"/><circle cx="209.0" cy="861.6" r="2.15"/><circle cx="200.4" cy="867.0" r="2.15"/><circle cx="205.7" cy="855.3" r="2.15"/><circle cx="200.2" cy="861.5" r="2.15"/><circle cx="201.6" cy="869.2" r="2.15"/><circle cx="207.4" cy="863.8" r="2.15"/><circle cx="204.6" cy="876.0" r="2.15"/><circle cx="209.5" cy="838.0" r="2.15"/><circle cx="209.8" cy="848.0" r="2.15"/><circle cx="204.6" cy="868.1" r="2.15"/><circle cx="205.5" cy="876.2" r="2.15"/><circle cx="203.9" cy="866.3" r="2.15"/><circle cx="201.7" cy="859.9" r="2.15"/><circle cx="204.3" cy="866.3" r="2.15"/><circle cx="208.3" cy="841.2" r="2.15"/><circle cx="204.3" cy="891.0" r="2.15"/><circle cx="208.4" cy="870.0" r="2.15"/><circle cx="201.4" cy="863.9" r="2.15"/><circle cx="201.1" cy="891.5" r="2.15"/><circle cx="210.2" cy="899.3" r="2.15"/><circle cx="202.4" cy="899.3" r="2.15"/></g>
<line x1="205.20" y1="836.60" x2="205.20" y2="856.30" stroke="#262626" stroke-width="1.0" />
<line x1="205.20" y1="873.30" x2="205.20" y2="895.50" stroke="#262626" stroke-width="1.0" />
<rect x="199.40" y="856.30" width="11.60" height="17.00" fill="none" stroke="#262626" stroke-width="1.0" />
<line x1="199.40" y1="864.40" x2="211.00" y2="864.40" stroke="#262626" stroke-width="1.3" />
<line x1="156.90" y1="813.30" x2="204.90" y2="813.30" stroke="#6a6a6a" stroke-width="0.9" />
<text x="180.9" y="814.9" font-size="9" text-anchor="middle" >*</text>
<line x1="156.90" y1="818.50" x2="175.70" y2="818.50" stroke="#6a6a6a" stroke-width="0.9" />
<text x="166.3" y="820.1" font-size="9" text-anchor="middle" >*</text>
<text x="121.1" y="856.4" font-size="9.3" textLength="93.5" lengthAdjust="spacingAndGlyphs" text-anchor="middle" transform="rotate(-90 121.1 856.4)" >Proportion (log. scale)</text>
<text x="183.0" y="942.2" font-size="9.3" textLength="53.8" lengthAdjust="spacingAndGlyphs" text-anchor="middle" >Emphysema</text>
<text x="226.3" y="799.8" font-size="14.5" font-weight="bold" fill="#000" >l</text>
<text x="299.7" y="799.8" font-size="9.2" text-anchor="middle" >MDM</text>
<line x1="265.70" y1="816.10" x2="265.70" y2="910.55" stroke="#7f7f7f" stroke-width="0.9" />
<line x1="265.25" y1="910.10" x2="332.70" y2="910.10" stroke="#7f7f7f" stroke-width="0.9" />
<line x1="263.20" y1="820.40" x2="265.70" y2="820.40" stroke="#7f7f7f" stroke-width="0.8" />
<text x="259.2" y="823.2" font-size="8.4" text-anchor="end" >0.04</text>
<line x1="263.20" y1="842.40" x2="265.70" y2="842.40" stroke="#7f7f7f" stroke-width="0.8" />
<text x="259.2" y="845.2" font-size="8.4" text-anchor="end" >0.03</text>
<line x1="263.20" y1="863.40" x2="265.70" y2="863.40" stroke="#7f7f7f" stroke-width="0.8" />
<text x="259.2" y="866.2" font-size="8.4" text-anchor="end" >0.02</text>
<line x1="263.20" y1="884.40" x2="265.70" y2="884.40" stroke="#7f7f7f" stroke-width="0.8" />
<text x="259.2" y="887.2" font-size="8.4" text-anchor="end" >0.01</text>
<line x1="263.20" y1="905.70" x2="265.70" y2="905.70" stroke="#7f7f7f" stroke-width="0.8" />
<text x="259.2" y="908.6" font-size="8.4" text-anchor="end" >0</text>
<line x1="278.40" y1="910.10" x2="278.40" y2="912.60" stroke="#7f7f7f" stroke-width="0.8" />
<text x="278.4" y="922.1" font-size="8.0" text-anchor="middle" >N</text>
<line x1="299.10" y1="910.10" x2="299.10" y2="912.60" stroke="#7f7f7f" stroke-width="0.8" />
<text x="299.1" y="922.1" font-size="8.0" text-anchor="middle" >F</text>
<line x1="320.40" y1="910.10" x2="320.40" y2="912.60" stroke="#7f7f7f" stroke-width="0.8" />
<text x="320.4" y="922.1" font-size="8.0" text-anchor="middle" >C</text>
<rect x="270.20" y="892.00" width="16.30" height="9.70" fill="#a6abbd" fill-opacity="0.95" />
<g fill="#1f3a63" fill-opacity="0.85"><circle cx="277.4" cy="899.1" r="2.15"/><circle cx="273.1" cy="897.4" r="2.15"/><circle cx="281.7" cy="889.1" r="2.15"/><circle cx="275.4" cy="900.9" r="2.15"/><circle cx="275.3" cy="900.9" r="2.15"/><circle cx="285.4" cy="893.6" r="2.15"/><circle cx="276.0" cy="899.1" r="2.15"/><circle cx="285.4" cy="900.5" r="2.15"/><circle cx="280.1" cy="900.0" r="2.15"/><circle cx="282.2" cy="900.8" r="2.15"/><circle cx="280.2" cy="903.0" r="2.15"/><circle cx="273.6" cy="895.3" r="2.15"/><circle cx="281.5" cy="884.9" r="2.15"/><circle cx="274.8" cy="893.7" r="2.15"/><circle cx="277.0" cy="895.2" r="2.15"/><circle cx="272.9" cy="900.8" r="2.15"/><circle cx="275.9" cy="879.0" r="2.15"/><circle cx="277.7" cy="884.0" r="2.15"/><circle cx="274.4" cy="890.0" r="2.15"/></g>
<line x1="278.35" y1="879.70" x2="278.35" y2="892.00" stroke="#262626" stroke-width="1.0" />
<line x1="278.35" y1="901.70" x2="278.35" y2="905.70" stroke="#262626" stroke-width="1.0" />
<rect x="270.20" y="892.00" width="16.30" height="9.70" fill="none" stroke="#262626" stroke-width="1.0" />
<line x1="270.20" y1="899.00" x2="286.50" y2="899.00" stroke="#262626" stroke-width="1.3" />
<rect x="291.20" y="893.20" width="16.40" height="9.30" fill="#a6abbd" fill-opacity="0.95" />
<g fill="#1f3a63" fill-opacity="0.85"><circle cx="292.4" cy="883.2" r="2.15"/><circle cx="294.0" cy="903.5" r="2.15"/><circle cx="302.5" cy="880.8" r="2.15"/><circle cx="297.1" cy="902.7" r="2.15"/><circle cx="294.1" cy="899.0" r="2.15"/><circle cx="302.3" cy="884.9" r="2.15"/><circle cx="306.5" cy="900.8" r="2.15"/><circle cx="297.2" cy="898.2" r="2.15"/><circle cx="300.8" cy="903.6" r="2.15"/><circle cx="300.1" cy="881.4" r="2.15"/><circle cx="300.2" cy="880.0" r="2.15"/><circle cx="300.8" cy="903.5" r="2.15"/><circle cx="305.5" cy="904.1" r="2.15"/><circle cx="304.7" cy="898.9" r="2.15"/><circle cx="305.1" cy="898.0" r="2.15"/><circle cx="302.2" cy="891.8" r="2.15"/><circle cx="303.3" cy="901.0" r="2.15"/><circle cx="303.2" cy="896.5" r="2.15"/><circle cx="303.0" cy="903.6" r="2.15"/><circle cx="302.1" cy="903.0" r="2.15"/><circle cx="303.2" cy="904.7" r="2.15"/><circle cx="292.9" cy="897.4" r="2.15"/><circle cx="294.5" cy="897.1" r="2.15"/><circle cx="301.6" cy="896.0" r="2.15"/><circle cx="298.3" cy="882.8" r="2.15"/><circle cx="295.4" cy="901.6" r="2.15"/><circle cx="301.6" cy="901.0" r="2.15"/><circle cx="295.0" cy="899.0" r="2.15"/><circle cx="303.2" cy="882.2" r="2.15"/><circle cx="296.7" cy="901.6" r="2.15"/><circle cx="305.5" cy="901.8" r="2.15"/><circle cx="296.7" cy="899.6" r="2.15"/><circle cx="306.3" cy="894.5" r="2.15"/><circle cx="296.9" cy="902.0" r="2.15"/><circle cx="303.6" cy="903.5" r="2.15"/><circle cx="294.0" cy="893.6" r="2.15"/><circle cx="299.4" cy="896.8" r="2.15"/><circle cx="297.3" cy="896.8" r="2.15"/><circle cx="304.7" cy="905.5" r="2.15"/><circle cx="302.5" cy="902.5" r="2.15"/><circle cx="300.4" cy="904.4" r="2.15"/><circle cx="293.7" cy="900.6" r="2.15"/><circle cx="299.7" cy="884.5" r="2.15"/><circle cx="295.5" cy="879.8" r="2.15"/><circle cx="293.5" cy="887.8" r="2.15"/><circle cx="302.4" cy="900.5" r="2.15"/><circle cx="300.1" cy="897.0" r="2.15"/><circle cx="306.8" cy="885.0" r="2.15"/><circle cx="304.5" cy="901.0" r="2.15"/><circle cx="292.7" cy="900.1" r="2.15"/><circle cx="305.9" cy="893.9" r="2.15"/><circle cx="299.8" cy="901.0" r="2.15"/><circle cx="306.7" cy="898.8" r="2.15"/><circle cx="296.6" cy="900.7" r="2.15"/><circle cx="298.9" cy="889.1" r="2.15"/><circle cx="302.3" cy="898.0" r="2.15"/><circle cx="295.8" cy="904.4" r="2.15"/><circle cx="298.0" cy="905.5" r="2.15"/><circle cx="297.0" cy="895.4" r="2.15"/><circle cx="297.0" cy="904.2" r="2.15"/><circle cx="300.0" cy="894.9" r="2.15"/><circle cx="299.4" cy="902.9" r="2.15"/><circle cx="305.1" cy="897.8" r="2.15"/><circle cx="295.7" cy="901.0" r="2.15"/><circle cx="295.6" cy="895.2" r="2.15"/><circle cx="296.3" cy="904.0" r="2.15"/><circle cx="292.1" cy="899.9" r="2.15"/><circle cx="296.9" cy="895.1" r="2.15"/><circle cx="297.2" cy="902.3" r="2.15"/><circle cx="293.4" cy="879.7" r="2.15"/><circle cx="299.7" cy="879.7" r="2.15"/><circle cx="293.3" cy="881.0" r="2.15"/><circle cx="303.7" cy="883.0" r="2.15"/><circle cx="305.9" cy="882.5" r="2.15"/><circle cx="301.0" cy="896.9" r="2.15"/><circle cx="295.0" cy="888.3" r="2.15"/><circle cx="294.3" cy="899.9" r="2.15"/><circle cx="292.9" cy="904.9" r="2.15"/><circle cx="294.7" cy="883.4" r="2.15"/><circle cx="304.6" cy="883.7" r="2.15"/><circle cx="303.3" cy="902.4" r="2.15"/><circle cx="304.7" cy="900.4" r="2.15"/><circle cx="297.4" cy="902.7" r="2.15"/><circle cx="300.2" cy="894.0" r="2.15"/><circle cx="302.6" cy="903.5" r="2.15"/><circle cx="301.8" cy="889.6" r="2.15"/><circle cx="301.6" cy="905.2" r="2.15"/><circle cx="292.5" cy="900.0" r="2.15"/><circle cx="306.7" cy="891.4" r="2.15"/><circle cx="300.5" cy="898.6" r="2.15"/><circle cx="296.2" cy="903.9" r="2.15"/><circle cx="296.8" cy="905.3" r="2.15"/><circle cx="303.3" cy="894.6" r="2.15"/><circle cx="305.7" cy="904.7" r="2.15"/><circle cx="292.6" cy="902.0" r="2.15"/><circle cx="295.2" cy="896.3" r="2.15"/><circle cx="292.8" cy="901.5" r="2.15"/><circle cx="301.6" cy="905.2" r="2.15"/><circle cx="300.9" cy="890.7" r="2.15"/><circle cx="301.2" cy="893.8" r="2.15"/><circle cx="294.8" cy="896.1" r="2.15"/><circle cx="298.2" cy="904.4" r="2.15"/><circle cx="305.0" cy="898.7" r="2.15"/><circle cx="296.8" cy="881.2" r="2.15"/><circle cx="295.0" cy="898.2" r="2.15"/><circle cx="295.1" cy="902.4" r="2.15"/><circle cx="303.8" cy="882.7" r="2.15"/><circle cx="295.5" cy="900.9" r="2.15"/><circle cx="302.5" cy="897.9" r="2.15"/><circle cx="301.1" cy="903.6" r="2.15"/><circle cx="304.1" cy="886.9" r="2.15"/><circle cx="292.9" cy="894.6" r="2.15"/><circle cx="296.5" cy="897.8" r="2.15"/><circle cx="306.2" cy="898.5" r="2.15"/><circle cx="299.4" cy="901.0" r="2.15"/><circle cx="293.3" cy="899.1" r="2.15"/><circle cx="293.7" cy="898.2" r="2.15"/><circle cx="294.8" cy="905.4" r="2.15"/><circle cx="301.8" cy="894.0" r="2.15"/><circle cx="296.8" cy="893.0" r="2.15"/><circle cx="300.3" cy="847.3" r="2.15"/><circle cx="300.3" cy="852.6" r="2.15"/><circle cx="299.1" cy="857.3" r="2.15"/><circle cx="297.6" cy="866.9" r="2.15"/><circle cx="304.3" cy="872.5" r="2.15"/><circle cx="296.4" cy="874.0" r="2.15"/><circle cx="302.9" cy="875.0" r="2.15"/></g>
<line x1="299.40" y1="879.20" x2="299.40" y2="893.20" stroke="#262626" stroke-width="1.0" />
<line x1="299.40" y1="902.50" x2="299.40" y2="905.70" stroke="#262626" stroke-width="1.0" />
<rect x="291.20" y="893.20" width="16.40" height="9.30" fill="none" stroke="#262626" stroke-width="1.0" />
<line x1="291.20" y1="898.40" x2="307.60" y2="898.40" stroke="#262626" stroke-width="1.3" />
<rect x="312.50" y="871.30" width="16.10" height="27.10" fill="#a6abbd" fill-opacity="0.95" />
<g fill="#1f3a63" fill-opacity="0.85"><circle cx="314.6" cy="894.5" r="2.15"/><circle cx="324.2" cy="897.5" r="2.15"/><circle cx="314.4" cy="863.9" r="2.15"/><circle cx="316.2" cy="893.7" r="2.15"/><circle cx="323.8" cy="820.0" r="2.15"/><circle cx="325.2" cy="859.5" r="2.15"/><circle cx="317.6" cy="868.0" r="2.15"/><circle cx="324.2" cy="874.8" r="2.15"/><circle cx="322.2" cy="885.0" r="2.15"/><circle cx="324.1" cy="893.0" r="2.15"/><circle cx="322.1" cy="895.0" r="2.15"/><circle cx="315.6" cy="897.0" r="2.15"/><circle cx="319.6" cy="900.0" r="2.15"/><circle cx="319.1" cy="905.0" r="2.15"/><circle cx="324.6" cy="905.5" r="2.15"/></g>
<line x1="320.55" y1="859.70" x2="320.55" y2="871.30" stroke="#262626" stroke-width="1.0" />
<line x1="320.55" y1="898.40" x2="320.55" y2="905.70" stroke="#262626" stroke-width="1.0" />
<rect x="312.50" y="871.30" width="16.10" height="27.10" fill="none" stroke="#262626" stroke-width="1.0" />
<line x1="312.50" y1="893.40" x2="328.60" y2="893.40" stroke="#262626" stroke-width="1.3" />
<line x1="276.60" y1="824.30" x2="325.70" y2="824.30" stroke="#6a6a6a" stroke-width="0.9" />
<text x="301.1" y="825.9" font-size="9" text-anchor="middle" >*</text>
<text x="235.0" y="862.9" font-size="9.3" textLength="47" lengthAdjust="spacingAndGlyphs" text-anchor="middle" transform="rotate(-90 235.0 862.9)" >Proportion</text>
<text x="299.0" y="936.1" font-size="9.3" textLength="38.6" lengthAdjust="spacingAndGlyphs" text-anchor="middle" >Smoking</text>
<text x="345.4" y="799.8" font-size="14.5" font-weight="bold" fill="#000" >m</text>
<text x="398.7" y="799.8" font-size="9.8" >Mac<tspan font-size="7.06" dy="2.94">div</tspan></text>
<line x1="381.30" y1="816.40" x2="381.30" y2="919.85" stroke="#7f7f7f" stroke-width="0.9" />
<line x1="380.85" y1="919.40" x2="445.00" y2="919.40" stroke="#7f7f7f" stroke-width="0.9" />
<line x1="378.80" y1="824.30" x2="381.30" y2="824.30" stroke="#7f7f7f" stroke-width="0.8" />
<text x="374.8" y="827.1" font-size="8.4" text-anchor="end" >12.5</text>
<line x1="378.80" y1="857.30" x2="381.30" y2="857.30" stroke="#7f7f7f" stroke-width="0.8" />
<text x="374.8" y="860.1" font-size="8.4" text-anchor="end" >3.1</text>
<line x1="378.80" y1="890.00" x2="381.30" y2="890.00" stroke="#7f7f7f" stroke-width="0.8" />
<text x="374.8" y="892.9" font-size="8.4" text-anchor="end" >0.8</text>
<line x1="390.40" y1="919.40" x2="390.40" y2="921.90" stroke="#7f7f7f" stroke-width="0.8" />
<text x="390.4" y="931.4" font-size="8.0" text-anchor="middle" >O</text>
<line x1="405.60" y1="919.40" x2="405.60" y2="921.90" stroke="#7f7f7f" stroke-width="0.8" />
<text x="405.6" y="931.4" font-size="8.0" text-anchor="middle" >I,II</text>
<line x1="420.80" y1="919.40" x2="420.80" y2="921.90" stroke="#7f7f7f" stroke-width="0.8" />
<text x="420.8" y="931.4" font-size="8.0" text-anchor="middle" >III</text>
<line x1="436.30" y1="919.40" x2="436.30" y2="921.90" stroke="#7f7f7f" stroke-width="0.8" />
<text x="436.3" y="931.4" font-size="8.0" text-anchor="middle" >IV</text>
<rect x="384.40" y="845.80" width="12.00" height="17.60" fill="#ebdcf0" fill-opacity="0.9" />
<g fill="#d3b6dd" fill-opacity="0.8"><circle cx="392.2" cy="859.4" r="2.15"/><circle cx="387.7" cy="848.0" r="2.15"/><circle cx="386.6" cy="878.7" r="2.15"/><circle cx="387.7" cy="822.9" r="2.15"/><circle cx="393.0" cy="838.7" r="2.15"/><circle cx="390.5" cy="821.3" r="2.15"/><circle cx="388.2" cy="862.7" r="2.15"/><circle cx="385.2" cy="866.6" r="2.15"/><circle cx="388.8" cy="875.7" r="2.15"/><circle cx="389.2" cy="867.0" r="2.15"/><circle cx="385.7" cy="877.7" r="2.15"/><circle cx="387.7" cy="846.8" r="2.15"/><circle cx="388.2" cy="857.2" r="2.15"/><circle cx="389.5" cy="839.3" r="2.15"/><circle cx="390.3" cy="844.7" r="2.15"/><circle cx="391.1" cy="858.1" r="2.15"/><circle cx="394.2" cy="868.7" r="2.15"/><circle cx="388.2" cy="858.2" r="2.15"/><circle cx="386.0" cy="877.3" r="2.15"/><circle cx="388.3" cy="847.5" r="2.15"/><circle cx="387.3" cy="867.2" r="2.15"/><circle cx="391.2" cy="869.8" r="2.15"/><circle cx="390.1" cy="832.2" r="2.15"/><circle cx="388.5" cy="853.4" r="2.15"/><circle cx="386.0" cy="826.5" r="2.15"/><circle cx="393.1" cy="823.1" r="2.15"/><circle cx="387.4" cy="820.5" r="2.15"/><circle cx="391.9" cy="890.0" r="2.15"/><circle cx="392.9" cy="894.5" r="2.15"/></g>
<line x1="390.40" y1="821.20" x2="390.40" y2="845.80" stroke="#262626" stroke-width="1.0" />
<line x1="390.40" y1="863.40" x2="390.40" y2="879.20" stroke="#262626" stroke-width="1.0" />
<rect x="384.40" y="845.80" width="12.00" height="17.60" fill="none" stroke="#262626" stroke-width="1.0" />
<line x1="384.40" y1="850.00" x2="396.40" y2="850.00" stroke="#262626" stroke-width="1.3" />
<rect x="399.70" y="846.60" width="11.90" height="13.80" fill="#ebdcf0" fill-opacity="0.9" />
<g fill="#d3b6dd" fill-opacity="0.8"><circle cx="404.0" cy="872.3" r="2.15"/><circle cx="405.6" cy="850.1" r="2.15"/><circle cx="402.3" cy="827.2" r="2.15"/><circle cx="410.4" cy="857.3" r="2.15"/><circle cx="410.0" cy="851.2" r="2.15"/><circle cx="406.4" cy="856.3" r="2.15"/><circle cx="401.9" cy="846.8" r="2.15"/><circle cx="410.5" cy="848.0" r="2.15"/><circle cx="402.6" cy="850.0" r="2.15"/><circle cx="400.9" cy="828.2" r="2.15"/><circle cx="404.8" cy="847.7" r="2.15"/><circle cx="404.3" cy="857.4" r="2.15"/><circle cx="409.4" cy="856.1" r="2.15"/><circle cx="401.9" cy="849.2" r="2.15"/><circle cx="400.9" cy="847.9" r="2.15"/><circle cx="405.0" cy="862.3" r="2.15"/><circle cx="400.7" cy="841.8" r="2.15"/><circle cx="407.4" cy="853.9" r="2.15"/><circle cx="405.5" cy="844.8" r="2.15"/><circle cx="409.7" cy="871.1" r="2.15"/><circle cx="410.3" cy="858.2" r="2.15"/><circle cx="402.8" cy="876.1" r="2.15"/><circle cx="408.7" cy="854.9" r="2.15"/><circle cx="405.6" cy="860.3" r="2.15"/><circle cx="410.5" cy="857.2" r="2.15"/><circle cx="401.1" cy="862.4" r="2.15"/><circle cx="405.2" cy="838.3" r="2.15"/><circle cx="410.8" cy="849.2" r="2.15"/><circle cx="409.1" cy="826.0" r="2.15"/><circle cx="408.1" cy="888.0" r="2.15"/></g>
<line x1="405.65" y1="826.30" x2="405.65" y2="846.60" stroke="#262626" stroke-width="1.0" />
<line x1="405.65" y1="860.40" x2="405.65" y2="877.30" stroke="#262626" stroke-width="1.0" />
<rect x="399.70" y="846.60" width="11.90" height="13.80" fill="none" stroke="#262626" stroke-width="1.0" />
<line x1="399.70" y1="852.20" x2="411.60" y2="852.20" stroke="#262626" stroke-width="1.3" />
<rect x="415.10" y="848.40" width="11.70" height="17.90" fill="#ebdcf0" fill-opacity="0.9" />
<g fill="#d3b6dd" fill-opacity="0.8"><circle cx="425.0" cy="865.3" r="2.15"/><circle cx="425.7" cy="858.2" r="2.15"/><circle cx="418.1" cy="855.8" r="2.15"/><circle cx="418.0" cy="859.5" r="2.15"/><circle cx="424.1" cy="854.9" r="2.15"/><circle cx="418.5" cy="858.7" r="2.15"/><circle cx="418.6" cy="857.6" r="2.15"/><circle cx="416.2" cy="869.1" r="2.15"/><circle cx="423.7" cy="874.6" r="2.15"/><circle cx="418.2" cy="866.1" r="2.15"/><circle cx="417.5" cy="847.2" r="2.15"/><circle cx="422.1" cy="879.6" r="2.15"/><circle cx="416.6" cy="863.0" r="2.15"/><circle cx="423.9" cy="860.8" r="2.15"/><circle cx="416.5" cy="856.2" r="2.15"/><circle cx="425.9" cy="860.4" r="2.15"/><circle cx="417.1" cy="844.1" r="2.15"/><circle cx="417.2" cy="840.8" r="2.15"/><circle cx="420.6" cy="855.6" r="2.15"/><circle cx="423.7" cy="869.1" r="2.15"/><circle cx="420.8" cy="843.3" r="2.15"/><circle cx="423.1" cy="844.1" r="2.15"/><circle cx="418.2" cy="859.4" r="2.15"/><circle cx="424.7" cy="846.4" r="2.15"/><circle cx="423.4" cy="881.0" r="2.15"/><circle cx="420.9" cy="918.0" r="2.15"/></g>
<line x1="420.95" y1="838.20" x2="420.95" y2="848.40" stroke="#262626" stroke-width="1.0" />
<line x1="420.95" y1="866.30" x2="420.95" y2="881.10" stroke="#262626" stroke-width="1.0" />
<rect x="415.10" y="848.40" width="11.70" height="17.90" fill="none" stroke="#262626" stroke-width="1.0" />
<line x1="415.10" y1="858.30" x2="426.80" y2="858.30" stroke="#262626" stroke-width="1.3" />
<rect x="430.40" y="854.20" width="11.60" height="19.30" fill="#ebdcf0" fill-opacity="0.9" />
<g fill="#d3b6dd" fill-opacity="0.8"><circle cx="437.5" cy="848.8" r="2.15"/><circle cx="433.4" cy="860.7" r="2.15"/><circle cx="440.5" cy="888.0" r="2.15"/><circle cx="431.6" cy="887.3" r="2.15"/><circle cx="439.7" cy="870.6" r="2.15"/><circle cx="432.3" cy="848.1" r="2.15"/><circle cx="432.6" cy="845.2" r="2.15"/><circle cx="441.4" cy="868.5" r="2.15"/><circle cx="437.9" cy="864.0" r="2.15"/><circle cx="434.0" cy="863.2" r="2.15"/><circle cx="438.2" cy="845.7" r="2.15"/><circle cx="434.2" cy="863.8" r="2.15"/><circle cx="438.5" cy="870.4" r="2.15"/><circle cx="434.3" cy="861.0" r="2.15"/><circle cx="434.9" cy="899.8" r="2.15"/><circle cx="432.1" cy="860.7" r="2.15"/><circle cx="436.9" cy="886.6" r="2.15"/><circle cx="432.8" cy="850.7" r="2.15"/><circle cx="436.5" cy="864.2" r="2.15"/><circle cx="435.3" cy="844.3" r="2.15"/><circle cx="438.5" cy="865.1" r="2.15"/><circle cx="433.4" cy="872.5" r="2.15"/><circle cx="438.6" cy="842.2" r="2.15"/><circle cx="431.9" cy="848.2" r="2.15"/><circle cx="440.2" cy="900.1" r="2.15"/><circle cx="432.3" cy="842.9" r="2.15"/><circle cx="436.0" cy="848.8" r="2.15"/><circle cx="432.3" cy="845.6" r="2.15"/><circle cx="439.7" cy="859.3" r="2.15"/><circle cx="434.0" cy="854.6" r="2.15"/><circle cx="432.4" cy="855.1" r="2.15"/><circle cx="438.2" cy="869.4" r="2.15"/><circle cx="439.5" cy="897.9" r="2.15"/><circle cx="437.5" cy="855.8" r="2.15"/><circle cx="437.5" cy="844.2" r="2.15"/><circle cx="438.1" cy="888.9" r="2.15"/><circle cx="440.5" cy="855.8" r="2.15"/><circle cx="434.1" cy="861.4" r="2.15"/><circle cx="431.9" cy="866.3" r="2.15"/><circle cx="441.0" cy="855.7" r="2.15"/><circle cx="438.1" cy="858.4" r="2.15"/><circle cx="438.3" cy="852.7" r="2.15"/><circle cx="440.0" cy="864.6" r="2.15"/><circle cx="432.9" cy="862.9" r="2.15"/><circle cx="435.2" cy="901.0" r="2.15"/><circle cx="436.2" cy="905.0" r="2.15"/><circle cx="436.2" cy="914.0" r="2.15"/></g>
<line x1="436.20" y1="842.00" x2="436.20" y2="854.20" stroke="#262626" stroke-width="1.0" />
<line x1="436.20" y1="873.50" x2="436.20" y2="900.10" stroke="#262626" stroke-width="1.0" />
<rect x="430.40" y="854.20" width="11.60" height="19.30" fill="none" stroke="#262626" stroke-width="1.0" />
<line x1="430.40" y1="861.10" x2="442.00" y2="861.10" stroke="#262626" stroke-width="1.3" />
<line x1="390.40" y1="815.10" x2="435.70" y2="815.10" stroke="#6a6a6a" stroke-width="0.9" />
<text x="413.0" y="816.7" font-size="9" text-anchor="middle" >**</text>
<text x="354.7" y="867.8" font-size="9.3" textLength="99" lengthAdjust="spacingAndGlyphs" text-anchor="middle" transform="rotate(-90 354.7 867.8)" >Proportion (log. scale)</text>
<text x="413.5" y="944.2" font-size="9.3" textLength="25.9" lengthAdjust="spacingAndGlyphs" text-anchor="middle" >GOLD</text>
<text x="465.4" y="799.0" font-size="14.5" font-weight="bold" fill="#000" >o</text>
<text x="524.8" y="801.3" font-size="9.8" >Fibroblast<tspan font-size="7.06" dy="2.94">IR</tspan></text>
<text x="616.4" y="801.3" font-size="9.8" >Fibroblast<tspan font-size="7.06" dy="2.94">FRC</tspan></text>
<line x1="521.70" y1="817.20" x2="521.70" y2="901.65" stroke="#7f7f7f" stroke-width="0.9" />
<line x1="521.25" y1="901.20" x2="578.80" y2="901.20" stroke="#7f7f7f" stroke-width="0.9" />
<line x1="519.20" y1="832.40" x2="521.70" y2="832.40" stroke="#7f7f7f" stroke-width="0.8" />
<text x="515.2" y="835.2" font-size="8.4" text-anchor="end" >0.195</text>
<line x1="519.20" y1="856.40" x2="521.70" y2="856.40" stroke="#7f7f7f" stroke-width="0.8" />
<text x="515.2" y="859.2" font-size="8.4" text-anchor="end" >0.049</text>
<line x1="519.20" y1="880.70" x2="521.70" y2="880.70" stroke="#7f7f7f" stroke-width="0.8" />
<text x="515.2" y="883.6" font-size="8.4" text-anchor="end" >0.012</text>
<line x1="529.80" y1="901.20" x2="529.80" y2="903.70" stroke="#7f7f7f" stroke-width="0.8" />
<text x="533.4" y="909.9" font-size="8.0" text-anchor="end" transform="rotate(-45 533.4 909.9)" >None</text>
<line x1="544.20" y1="901.20" x2="544.20" y2="903.70" stroke="#7f7f7f" stroke-width="0.8" />
<text x="547.8" y="909.9" font-size="8.0" text-anchor="end" transform="rotate(-45 547.8 909.9)" >&lt;50%</text>
<line x1="558.30" y1="901.20" x2="558.30" y2="903.70" stroke="#7f7f7f" stroke-width="0.8" />
<text x="561.9" y="909.9" font-size="8.0" text-anchor="end" transform="rotate(-45 561.9 909.9)" >50–75%</text>
<line x1="572.50" y1="901.20" x2="572.50" y2="903.70" stroke="#7f7f7f" stroke-width="0.8" />
<text x="576.1" y="909.9" font-size="8.0" text-anchor="end" transform="rotate(-45 576.1 909.9)" >&gt;75%</text>
<rect x="524.80" y="854.20" width="10.70" height="31.00" fill="#fcd7a4" fill-opacity="0.9" />
<g fill="#f6a11c" fill-opacity="0.8"><circle cx="533.7" cy="870.4" r="2.15"/><circle cx="531.0" cy="873.5" r="2.15"/><circle cx="532.3" cy="867.0" r="2.15"/><circle cx="526.3" cy="877.5" r="2.15"/><circle cx="525.9" cy="848.8" r="2.15"/><circle cx="529.5" cy="888.7" r="2.15"/><circle cx="528.3" cy="873.7" r="2.15"/><circle cx="527.9" cy="853.4" r="2.15"/><circle cx="533.2" cy="863.8" r="2.15"/><circle cx="534.2" cy="844.3" r="2.15"/><circle cx="527.5" cy="883.0" r="2.15"/><circle cx="526.3" cy="879.0" r="2.15"/><circle cx="527.2" cy="882.0" r="2.15"/><circle cx="527.1" cy="889.8" r="2.15"/><circle cx="532.3" cy="892.0" r="2.15"/><circle cx="529.0" cy="869.9" r="2.15"/><circle cx="534.8" cy="882.4" r="2.15"/><circle cx="525.5" cy="865.5" r="2.15"/><circle cx="530.5" cy="840.8" r="2.15"/><circle cx="526.6" cy="838.6" r="2.15"/><circle cx="533.5" cy="852.4" r="2.15"/><circle cx="529.0" cy="880.5" r="2.15"/><circle cx="527.7" cy="877.5" r="2.15"/><circle cx="530.9" cy="844.7" r="2.15"/><circle cx="533.7" cy="885.8" r="2.15"/><circle cx="525.5" cy="849.5" r="2.15"/><circle cx="527.6" cy="885.4" r="2.15"/><circle cx="534.0" cy="873.8" r="2.15"/><circle cx="529.4" cy="867.0" r="2.15"/><circle cx="526.3" cy="840.9" r="2.15"/><circle cx="534.3" cy="855.4" r="2.15"/><circle cx="534.5" cy="848.5" r="2.15"/><circle cx="529.4" cy="879.5" r="2.15"/><circle cx="527.2" cy="879.5" r="2.15"/><circle cx="525.6" cy="900.7" r="2.15"/><circle cx="532.5" cy="900.7" r="2.15"/><circle cx="532.8" cy="900.7" r="2.15"/><circle cx="532.4" cy="900.7" r="2.15"/></g>
<line x1="530.15" y1="838.30" x2="530.15" y2="854.20" stroke="#262626" stroke-width="1.0" />
<line x1="530.15" y1="885.20" x2="530.15" y2="894.90" stroke="#262626" stroke-width="1.0" />
<rect x="524.80" y="854.20" width="10.70" height="31.00" fill="none" stroke="#262626" stroke-width="1.0" />
<line x1="524.80" y1="870.80" x2="535.50" y2="870.80" stroke="#262626" stroke-width="1.3" />
<rect x="538.50" y="861.30" width="10.40" height="10.00" fill="#fcd7a4" fill-opacity="0.9" />
<g fill="#f6a11c" fill-opacity="0.8"><circle cx="542.4" cy="876.3" r="2.15"/><circle cx="541.9" cy="867.3" r="2.15"/><circle cx="544.1" cy="867.0" r="2.15"/><circle cx="544.3" cy="851.4" r="2.15"/><circle cx="545.7" cy="858.5" r="2.15"/><circle cx="543.1" cy="859.5" r="2.15"/><circle cx="542.6" cy="862.9" r="2.15"/><circle cx="545.1" cy="875.7" r="2.15"/><circle cx="547.5" cy="853.9" r="2.15"/><circle cx="545.2" cy="868.2" r="2.15"/><circle cx="539.3" cy="865.2" r="2.15"/><circle cx="541.8" cy="878.5" r="2.15"/><circle cx="548.0" cy="870.3" r="2.15"/><circle cx="548.0" cy="857.2" r="2.15"/><circle cx="541.8" cy="877.3" r="2.15"/><circle cx="541.0" cy="879.1" r="2.15"/><circle cx="539.1" cy="870.0" r="2.15"/><circle cx="540.2" cy="869.6" r="2.15"/><circle cx="539.7" cy="867.2" r="2.15"/><circle cx="548.2" cy="867.4" r="2.15"/><circle cx="547.9" cy="874.6" r="2.15"/><circle cx="542.2" cy="883.1" r="2.15"/><circle cx="541.7" cy="833.5" r="2.15"/><circle cx="541.7" cy="840.0" r="2.15"/><circle cx="544.2" cy="891.5" r="2.15"/><circle cx="544.7" cy="897.0" r="2.15"/><circle cx="539.3" cy="900.7" r="2.15"/><circle cx="547.6" cy="900.7" r="2.15"/><circle cx="544.8" cy="900.7" r="2.15"/></g>
<line x1="543.70" y1="850.00" x2="543.70" y2="861.30" stroke="#262626" stroke-width="1.0" />
<line x1="543.70" y1="871.30" x2="543.70" y2="883.20" stroke="#262626" stroke-width="1.0" />
<rect x="538.50" y="861.30" width="10.40" height="10.00" fill="none" stroke="#262626" stroke-width="1.0" />
<line x1="538.50" y1="867.10" x2="548.90" y2="867.10" stroke="#262626" stroke-width="1.3" />
<rect x="553.60" y="837.70" width="10.00" height="30.60" fill="#fcd7a4" fill-opacity="0.9" />
<g fill="#f6a11c" fill-opacity="0.8"><circle cx="562.3" cy="857.7" r="2.15"/><circle cx="560.6" cy="830.4" r="2.15"/><circle cx="559.8" cy="881.5" r="2.15"/><circle cx="559.1" cy="862.8" r="2.15"/><circle cx="562.4" cy="884.8" r="2.15"/><circle cx="555.2" cy="845.6" r="2.15"/><circle cx="557.4" cy="873.3" r="2.15"/><circle cx="561.4" cy="865.8" r="2.15"/><circle cx="560.0" cy="833.0" r="2.15"/><circle cx="559.7" cy="884.3" r="2.15"/><circle cx="560.0" cy="876.2" r="2.15"/><circle cx="558.4" cy="866.1" r="2.15"/><circle cx="559.1" cy="833.5" r="2.15"/><circle cx="558.0" cy="858.6" r="2.15"/><circle cx="562.6" cy="847.5" r="2.15"/><circle cx="556.6" cy="827.3" r="2.15"/><circle cx="556.4" cy="870.0" r="2.15"/><circle cx="556.9" cy="859.8" r="2.15"/><circle cx="555.5" cy="875.1" r="2.15"/><circle cx="559.6" cy="835.5" r="2.15"/><circle cx="559.3" cy="887.2" r="2.15"/><circle cx="554.7" cy="837.2" r="2.15"/><circle cx="556.4" cy="864.0" r="2.15"/><circle cx="562.1" cy="851.6" r="2.15"/><circle cx="556.5" cy="873.5" r="2.15"/><circle cx="560.1" cy="825.2" r="2.15"/><circle cx="557.8" cy="865.4" r="2.15"/><circle cx="555.5" cy="859.5" r="2.15"/><circle cx="562.8" cy="824.7" r="2.15"/><circle cx="559.8" cy="849.9" r="2.15"/><circle cx="556.3" cy="865.2" r="2.15"/><circle cx="559.3" cy="869.9" r="2.15"/><circle cx="557.1" cy="820.5" r="2.15"/><circle cx="560.6" cy="831.5" r="2.15"/><circle cx="556.8" cy="900.7" r="2.15"/><circle cx="561.2" cy="900.7" r="2.15"/><circle cx="554.3" cy="900.7" r="2.15"/><circle cx="558.0" cy="900.7" r="2.15"/></g>
<line x1="558.60" y1="820.50" x2="558.60" y2="837.70" stroke="#262626" stroke-width="1.0" />
<line x1="558.60" y1="868.30" x2="558.60" y2="888.80" stroke="#262626" stroke-width="1.0" />
<rect x="553.60" y="837.70" width="10.00" height="30.60" fill="none" stroke="#262626" stroke-width="1.0" />
<line x1="553.60" y1="857.50" x2="563.60" y2="857.50" stroke="#262626" stroke-width="1.3" />
<rect x="567.40" y="846.40" width="8.40" height="20.00" fill="#fcd7a4" fill-opacity="0.9" />
<g fill="#f6a11c" fill-opacity="0.8"><circle cx="568.7" cy="847.1" r="2.15"/><circle cx="568.7" cy="838.5" r="2.15"/><circle cx="573.3" cy="887.3" r="2.15"/><circle cx="571.9" cy="890.6" r="2.15"/><circle cx="571.3" cy="834.7" r="2.15"/><circle cx="568.0" cy="863.7" r="2.15"/><circle cx="573.6" cy="871.7" r="2.15"/><circle cx="575.3" cy="856.5" r="2.15"/><circle cx="573.3" cy="854.3" r="2.15"/><circle cx="571.5" cy="846.8" r="2.15"/><circle cx="573.2" cy="852.1" r="2.15"/><circle cx="572.6" cy="854.6" r="2.15"/><circle cx="568.8" cy="846.1" r="2.15"/><circle cx="572.0" cy="865.9" r="2.15"/><circle cx="572.5" cy="857.7" r="2.15"/><circle cx="569.3" cy="839.6" r="2.15"/><circle cx="569.8" cy="847.4" r="2.15"/><circle cx="570.2" cy="852.3" r="2.15"/><circle cx="570.6" cy="878.6" r="2.15"/><circle cx="570.2" cy="837.3" r="2.15"/><circle cx="575.1" cy="886.7" r="2.15"/><circle cx="574.5" cy="843.5" r="2.15"/><circle cx="571.5" cy="876.3" r="2.15"/><circle cx="569.1" cy="856.4" r="2.15"/><circle cx="574.8" cy="848.9" r="2.15"/><circle cx="574.2" cy="855.0" r="2.15"/><circle cx="567.9" cy="889.8" r="2.15"/><circle cx="574.0" cy="871.1" r="2.15"/><circle cx="567.9" cy="859.5" r="2.15"/><circle cx="574.3" cy="864.7" r="2.15"/><circle cx="572.3" cy="900.7" r="2.15"/><circle cx="574.8" cy="900.7" r="2.15"/><circle cx="572.6" cy="900.7" r="2.15"/><circle cx="568.9" cy="900.7" r="2.15"/></g>
<line x1="571.60" y1="834.40" x2="571.60" y2="846.40" stroke="#262626" stroke-width="1.0" />
<line x1="571.60" y1="866.40" x2="571.60" y2="891.00" stroke="#262626" stroke-width="1.0" />
<rect x="567.40" y="846.40" width="8.40" height="20.00" fill="none" stroke="#262626" stroke-width="1.0" />
<line x1="567.40" y1="856.40" x2="575.80" y2="856.40" stroke="#262626" stroke-width="1.3" />
<line x1="529.20" y1="814.40" x2="571.40" y2="814.40" stroke="#6a6a6a" stroke-width="0.9" />
<text x="550.3" y="816.0" font-size="9" text-anchor="middle" >**</text>
<line x1="529.20" y1="819.40" x2="558.50" y2="819.40" stroke="#6a6a6a" stroke-width="0.9" />
<text x="543.9" y="821.0" font-size="9" text-anchor="middle" >***</text>
<line x1="614.70" y1="817.20" x2="614.70" y2="901.65" stroke="#7f7f7f" stroke-width="0.9" />
<line x1="614.25" y1="901.20" x2="672.40" y2="901.20" stroke="#7f7f7f" stroke-width="0.9" />
<line x1="612.20" y1="830.20" x2="614.70" y2="830.20" stroke="#7f7f7f" stroke-width="0.8" />
<text x="608.2" y="833.1" font-size="8.4" text-anchor="end" >0.195</text>
<line x1="612.20" y1="856.40" x2="614.70" y2="856.40" stroke="#7f7f7f" stroke-width="0.8" />
<text x="608.2" y="859.2" font-size="8.4" text-anchor="end" >0.049</text>
<line x1="612.20" y1="882.40" x2="614.70" y2="882.40" stroke="#7f7f7f" stroke-width="0.8" />
<text x="608.2" y="885.2" font-size="8.4" text-anchor="end" >0.012</text>
<line x1="623.30" y1="901.20" x2="623.30" y2="903.70" stroke="#7f7f7f" stroke-width="0.8" />
<text x="626.9" y="909.9" font-size="8.0" text-anchor="end" transform="rotate(-45 626.9 909.9)" >None</text>
<line x1="637.40" y1="901.20" x2="637.40" y2="903.70" stroke="#7f7f7f" stroke-width="0.8" />
<text x="641.0" y="909.9" font-size="8.0" text-anchor="end" transform="rotate(-45 641.0 909.9)" >&lt;50%</text>
<line x1="651.60" y1="901.20" x2="651.60" y2="903.70" stroke="#7f7f7f" stroke-width="0.8" />
<text x="655.2" y="909.9" font-size="8.0" text-anchor="end" transform="rotate(-45 655.2 909.9)" >50–75%</text>
<line x1="666.00" y1="901.20" x2="666.00" y2="903.70" stroke="#7f7f7f" stroke-width="0.8" />
<text x="669.6" y="909.9" font-size="8.0" text-anchor="end" transform="rotate(-45 669.6 909.9)" >&gt;75%</text>
<rect x="617.40" y="866.40" width="11.10" height="13.00" fill="#b5d8d8" fill-opacity="0.9" />
<g fill="#1f8b8b" fill-opacity="0.8"><circle cx="621.8" cy="882.0" r="2.15"/><circle cx="619.4" cy="869.5" r="2.15"/><circle cx="626.2" cy="886.7" r="2.15"/><circle cx="624.7" cy="860.3" r="2.15"/><circle cx="620.2" cy="882.3" r="2.15"/><circle cx="627.4" cy="873.2" r="2.15"/><circle cx="622.5" cy="865.6" r="2.15"/><circle cx="621.3" cy="860.2" r="2.15"/><circle cx="626.8" cy="870.2" r="2.15"/><circle cx="619.6" cy="868.0" r="2.15"/><circle cx="620.6" cy="871.3" r="2.15"/><circle cx="622.1" cy="862.6" r="2.15"/><circle cx="626.6" cy="880.7" r="2.15"/><circle cx="621.6" cy="867.9" r="2.15"/><circle cx="623.5" cy="869.8" r="2.15"/><circle cx="619.6" cy="873.1" r="2.15"/><circle cx="620.4" cy="874.1" r="2.15"/><circle cx="621.6" cy="891.8" r="2.15"/><circle cx="625.1" cy="870.7" r="2.15"/><circle cx="626.1" cy="874.1" r="2.15"/><circle cx="625.7" cy="869.4" r="2.15"/><circle cx="619.4" cy="873.5" r="2.15"/><circle cx="622.5" cy="859.6" r="2.15"/><circle cx="619.5" cy="867.9" r="2.15"/><circle cx="625.3" cy="868.8" r="2.15"/><circle cx="621.1" cy="880.9" r="2.15"/><circle cx="627.7" cy="874.5" r="2.15"/><circle cx="626.2" cy="858.7" r="2.15"/><circle cx="626.8" cy="876.5" r="2.15"/><circle cx="621.4" cy="883.8" r="2.15"/><circle cx="621.0" cy="839.0" r="2.15"/><circle cx="624.5" cy="844.0" r="2.15"/><circle cx="627.5" cy="900.7" r="2.15"/><circle cx="625.7" cy="900.7" r="2.15"/><circle cx="619.3" cy="900.7" r="2.15"/></g>
<line x1="622.95" y1="856.60" x2="622.95" y2="866.40" stroke="#262626" stroke-width="1.0" />
<line x1="622.95" y1="879.40" x2="622.95" y2="892.10" stroke="#262626" stroke-width="1.0" />
<rect x="617.40" y="866.40" width="11.10" height="13.00" fill="none" stroke="#262626" stroke-width="1.0" />
<line x1="617.40" y1="872.10" x2="628.50" y2="872.10" stroke="#262626" stroke-width="1.3" />
<rect x="632.20" y="860.50" width="10.40" height="21.90" fill="#b5d8d8" fill-opacity="0.9" />
<g fill="#1f8b8b" fill-opacity="0.8"><circle cx="639.2" cy="856.9" r="2.15"/><circle cx="634.6" cy="895.8" r="2.15"/><circle cx="640.6" cy="852.9" r="2.15"/><circle cx="640.1" cy="880.7" r="2.15"/><circle cx="635.1" cy="897.0" r="2.15"/><circle cx="637.6" cy="893.4" r="2.15"/><circle cx="638.8" cy="875.9" r="2.15"/><circle cx="636.1" cy="867.8" r="2.15"/><circle cx="639.0" cy="854.3" r="2.15"/><circle cx="638.5" cy="854.7" r="2.15"/><circle cx="636.8" cy="891.4" r="2.15"/><circle cx="640.0" cy="850.6" r="2.15"/><circle cx="634.3" cy="891.8" r="2.15"/><circle cx="639.3" cy="854.5" r="2.15"/><circle cx="640.0" cy="877.0" r="2.15"/><circle cx="639.0" cy="871.0" r="2.15"/><circle cx="641.2" cy="859.7" r="2.15"/><circle cx="640.2" cy="884.9" r="2.15"/><circle cx="636.9" cy="893.9" r="2.15"/><circle cx="633.2" cy="848.8" r="2.15"/><circle cx="633.7" cy="887.2" r="2.15"/><circle cx="632.9" cy="881.5" r="2.15"/><circle cx="634.4" cy="892.5" r="2.15"/><circle cx="640.0" cy="878.7" r="2.15"/><circle cx="641.3" cy="881.3" r="2.15"/><circle cx="640.4" cy="876.5" r="2.15"/><circle cx="641.3" cy="843.7" r="2.15"/><circle cx="637.8" cy="876.2" r="2.15"/><circle cx="640.4" cy="877.8" r="2.15"/><circle cx="638.8" cy="859.5" r="2.15"/><circle cx="637.9" cy="824.0" r="2.15"/><circle cx="639.9" cy="827.5" r="2.15"/><circle cx="636.4" cy="839.0" r="2.15"/><circle cx="641.8" cy="900.7" r="2.15"/><circle cx="633.2" cy="900.7" r="2.15"/><circle cx="640.2" cy="900.7" r="2.15"/></g>
<line x1="637.40" y1="838.80" x2="637.40" y2="860.50" stroke="#262626" stroke-width="1.0" />
<line x1="637.40" y1="882.40" x2="637.40" y2="897.70" stroke="#262626" stroke-width="1.0" />
<rect x="632.20" y="860.50" width="10.40" height="21.90" fill="none" stroke="#262626" stroke-width="1.0" />
<line x1="632.20" y1="876.00" x2="642.60" y2="876.00" stroke="#262626" stroke-width="1.3" />
<rect x="646.30" y="853.00" width="10.90" height="25.20" fill="#b5d8d8" fill-opacity="0.9" />
<g fill="#1f8b8b" fill-opacity="0.8"><circle cx="652.5" cy="884.7" r="2.15"/><circle cx="649.7" cy="882.0" r="2.15"/><circle cx="656.0" cy="841.6" r="2.15"/><circle cx="647.9" cy="858.2" r="2.15"/><circle cx="656.6" cy="875.9" r="2.15"/><circle cx="655.0" cy="871.7" r="2.15"/><circle cx="654.2" cy="858.1" r="2.15"/><circle cx="653.0" cy="872.3" r="2.15"/><circle cx="656.3" cy="854.0" r="2.15"/><circle cx="651.5" cy="886.2" r="2.15"/><circle cx="656.2" cy="869.6" r="2.15"/><circle cx="656.1" cy="876.2" r="2.15"/><circle cx="647.4" cy="852.4" r="2.15"/><circle cx="652.1" cy="842.0" r="2.15"/><circle cx="648.0" cy="858.9" r="2.15"/><circle cx="653.8" cy="834.8" r="2.15"/><circle cx="647.4" cy="889.5" r="2.15"/><circle cx="656.1" cy="854.9" r="2.15"/><circle cx="648.8" cy="878.2" r="2.15"/><circle cx="651.1" cy="882.1" r="2.15"/><circle cx="647.0" cy="857.8" r="2.15"/><circle cx="652.3" cy="888.7" r="2.15"/><circle cx="654.4" cy="892.0" r="2.15"/><circle cx="655.7" cy="876.0" r="2.15"/><circle cx="648.1" cy="856.8" r="2.15"/><circle cx="649.7" cy="855.4" r="2.15"/><circle cx="650.7" cy="845.0" r="2.15"/><circle cx="649.1" cy="872.5" r="2.15"/><circle cx="649.1" cy="855.4" r="2.15"/><circle cx="650.3" cy="824.2" r="2.15"/><circle cx="653.3" cy="826.9" r="2.15"/><circle cx="648.7" cy="880.9" r="2.15"/><circle cx="656.4" cy="870.8" r="2.15"/><circle cx="647.3" cy="881.6" r="2.15"/><circle cx="649.7" cy="856.8" r="2.15"/><circle cx="653.5" cy="860.7" r="2.15"/><circle cx="655.2" cy="820.5" r="2.15"/><circle cx="649.0" cy="900.7" r="2.15"/><circle cx="652.2" cy="900.7" r="2.15"/><circle cx="651.0" cy="900.7" r="2.15"/></g>
<line x1="651.75" y1="821.10" x2="651.75" y2="853.00" stroke="#262626" stroke-width="1.0" />
<line x1="651.75" y1="878.20" x2="651.75" y2="893.80" stroke="#262626" stroke-width="1.0" />
<rect x="646.30" y="853.00" width="10.90" height="25.20" fill="none" stroke="#262626" stroke-width="1.0" />
<line x1="646.30" y1="859.20" x2="657.20" y2="859.20" stroke="#262626" stroke-width="1.3" />
<rect x="660.70" y="854.20" width="10.80" height="15.90" fill="#b5d8d8" fill-opacity="0.9" />
<g fill="#1f8b8b" fill-opacity="0.8"><circle cx="669.5" cy="863.1" r="2.15"/><circle cx="661.4" cy="875.4" r="2.15"/><circle cx="662.5" cy="840.4" r="2.15"/><circle cx="666.6" cy="856.2" r="2.15"/><circle cx="662.1" cy="857.9" r="2.15"/><circle cx="664.0" cy="855.1" r="2.15"/><circle cx="668.1" cy="844.9" r="2.15"/><circle cx="670.7" cy="855.2" r="2.15"/><circle cx="664.8" cy="880.2" r="2.15"/><circle cx="661.5" cy="832.3" r="2.15"/><circle cx="665.8" cy="881.3" r="2.15"/><circle cx="664.7" cy="879.7" r="2.15"/><circle cx="664.4" cy="876.8" r="2.15"/><circle cx="667.3" cy="862.5" r="2.15"/><circle cx="665.0" cy="855.5" r="2.15"/><circle cx="664.6" cy="879.8" r="2.15"/><circle cx="667.9" cy="877.7" r="2.15"/><circle cx="666.3" cy="860.0" r="2.15"/><circle cx="666.8" cy="844.1" r="2.15"/><circle cx="664.5" cy="886.8" r="2.15"/><circle cx="665.9" cy="840.4" r="2.15"/><circle cx="667.4" cy="870.3" r="2.15"/><circle cx="670.6" cy="842.5" r="2.15"/><circle cx="669.0" cy="872.8" r="2.15"/><circle cx="670.2" cy="838.8" r="2.15"/><circle cx="669.2" cy="832.7" r="2.15"/><circle cx="661.6" cy="833.8" r="2.15"/><circle cx="664.4" cy="855.9" r="2.15"/><circle cx="663.6" cy="835.9" r="2.15"/><circle cx="665.6" cy="851.1" r="2.15"/><circle cx="668.7" cy="889.9" r="2.15"/><circle cx="668.1" cy="858.4" r="2.15"/><circle cx="662.0" cy="864.1" r="2.15"/><circle cx="661.8" cy="863.7" r="2.15"/><circle cx="664.3" cy="858.3" r="2.15"/><circle cx="661.5" cy="858.7" r="2.15"/><circle cx="666.7" cy="863.9" r="2.15"/><circle cx="663.2" cy="879.9" r="2.15"/><circle cx="670.8" cy="861.7" r="2.15"/><circle cx="667.7" cy="867.2" r="2.15"/><circle cx="668.5" cy="900.7" r="2.15"/><circle cx="665.5" cy="900.7" r="2.15"/><circle cx="665.8" cy="900.7" r="2.15"/></g>
<line x1="666.10" y1="831.60" x2="666.10" y2="854.20" stroke="#262626" stroke-width="1.0" />
<line x1="666.10" y1="870.10" x2="666.10" y2="892.10" stroke="#262626" stroke-width="1.0" />
<rect x="660.70" y="854.20" width="10.80" height="15.90" fill="none" stroke="#262626" stroke-width="1.0" />
<line x1="660.70" y1="858.30" x2="671.50" y2="858.30" stroke="#262626" stroke-width="1.3" />
<line x1="623.50" y1="814.40" x2="665.50" y2="814.40" stroke="#6a6a6a" stroke-width="0.9" />
<text x="644.5" y="816.0" font-size="9" text-anchor="middle" >*</text>
<text x="474.5" y="859.0" font-size="9.3" textLength="45.9" lengthAdjust="spacingAndGlyphs" text-anchor="middle" transform="rotate(-90 474.5 859.0)" >Proportion</text>
<text x="485.5" y="859.2" font-size="9.3" textLength="47.6" lengthAdjust="spacingAndGlyphs" text-anchor="middle" transform="rotate(-90 485.5 859.2)" >(log. scale)</text>
<text x="597.4" y="943.5" font-size="9.3" textLength="53.1" lengthAdjust="spacingAndGlyphs" text-anchor="middle" >Emphysema</text>
</svg></body></html>
